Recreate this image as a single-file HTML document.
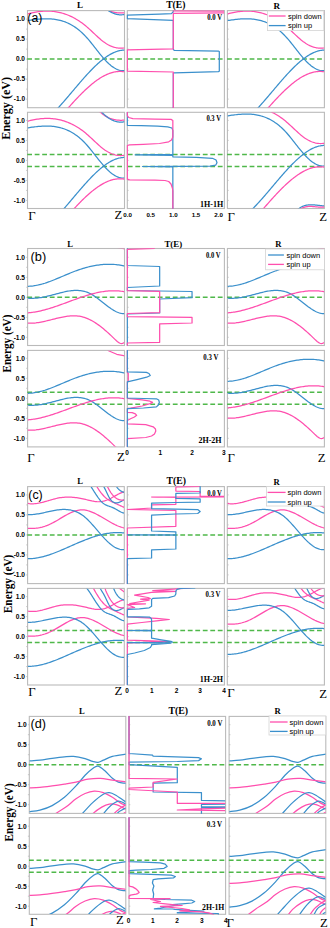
<!DOCTYPE html>
<html><head><meta charset="utf-8"><style>
html,body{margin:0;padding:0;background:#fff;}
svg{display:block;}
</style></head><body>
<svg xmlns="http://www.w3.org/2000/svg" width="330" height="928" viewBox="0 0 330 928">
<rect width="330" height="928" fill="#fff"/>
<rect x="27.5" y="10.6" width="97" height="97.1" fill="none" stroke="#bababa" stroke-width="1.1"/>
<rect x="127.3" y="10.6" width="97.1" height="97.1" fill="none" stroke="#bababa" stroke-width="1.1"/>
<rect x="227.4" y="10.6" width="97" height="97.1" fill="none" stroke="#bababa" stroke-width="1.1"/>
<path d="M26.1,99.1H27.5 M127.3,99.1H128.6 M227.4,99.1H228.7 M26.1,89.1H27.5 M127.3,89.1H128.6 M227.4,89.1H228.7 M26.1,79.1H27.5 M127.3,79.1H128.6 M227.4,79.1H228.7 M26.1,69.1H27.5 M127.3,69.1H128.6 M227.4,69.1H228.7 M26.1,59.1H27.5 M127.3,59.1H128.6 M227.4,59.1H228.7 M26.1,49.1H27.5 M127.3,49.1H128.6 M227.4,49.1H228.7 M26.1,39.1H27.5 M127.3,39.1H128.6 M227.4,39.1H228.7 M26.1,29.1H27.5 M127.3,29.1H128.6 M227.4,29.1H228.7 M26.1,19.1H27.5 M127.3,19.1H128.6 M227.4,19.1H228.7" stroke="#bababa" stroke-width="0.8" fill="none"/>
<line x1="27.2" y1="59.1" x2="124" y2="59.1" stroke="#4fb84a" stroke-width="1.5" stroke-dasharray="4.8 2.7"/>
<clipPath id="c1"><rect x="27.8" y="10.9" width="96.4" height="96.5"/></clipPath>
<g clip-path="url(#c1)">
<path d="M25.56,14.5 L26.84,14.13 L28.11,13.78 L29.39,13.45 L30.67,13.14 L31.94,12.85 L33.22,12.58 L34.5,12.33 L35.78,12.1 L37.05,11.9 L38.33,11.71 L39.61,11.55 L40.88,11.42 L42.16,11.3 L43.44,11.22 L44.71,11.15 L45.99,11.12 L47.27,11.11 L48.55,11.12 L49.82,11.17 L51.1,11.24 L52.38,11.34 L53.65,11.47 L54.93,11.63 L56.21,11.82 L57.48,12.04 L58.76,12.29 L60.04,12.58 L61.31,12.89 L62.59,13.24 L63.87,13.63 L65.15,14.04 L66.42,14.5 L67.7,14.98 L68.98,15.51 L70.25,16.06 L71.53,16.66 L72.81,17.29 L74.08,17.96 L75.36,18.67 L76.64,19.42 L77.92,20.21 L79.19,21.04 L80.47,21.91 L81.75,22.82 L83.02,23.77 L84.3,24.76 L85.58,25.8 L86.85,26.88 L88.13,28 L89.41,29.15 L90.69,30.33 L91.96,31.52 L93.24,32.71 L94.52,33.91 L95.79,35.11 L97.07,36.28 L98.35,37.44 L99.62,38.56 L100.9,39.65 L102.18,40.69 L103.45,41.67 L104.73,42.6 L106.01,43.46 L107.29,44.24 L108.56,44.96 L109.84,45.6 L111.12,46.18 L112.39,46.68 L113.67,47.11 L114.95,47.47 L116.22,47.76 L117.5,47.98 L118.78,48.12 L120.06,48.2 L121.33,48.2 L122.61,48.13 L123.89,48 L125.16,47.79 L126.44,47.5" fill="none" stroke="#ff4fae" stroke-width="1.25" stroke-linejoin="round"/>
<path d="M25.56,20.83 L26.84,20.65 L28.11,20.46 L29.39,20.28 L30.67,20.1 L31.94,19.93 L33.22,19.76 L34.5,19.6 L35.78,19.45 L37.05,19.32 L38.33,19.19 L39.61,19.08 L40.88,18.98 L42.16,18.9 L43.44,18.84 L44.71,18.8 L45.99,18.78 L47.27,18.78 L48.55,18.8 L49.82,18.85 L51.1,18.93 L52.38,19.03 L53.65,19.17 L54.93,19.34 L56.21,19.53 L57.48,19.77 L58.76,20.03 L60.04,20.34 L61.31,20.68 L62.59,21.06 L63.87,21.48 L65.15,21.95 L66.42,22.46 L67.7,23.01 L68.98,23.61 L70.25,24.26 L71.53,24.96 L72.81,25.71 L74.08,26.51 L75.36,27.37 L76.64,28.28 L77.92,29.25 L79.19,30.28 L80.47,31.36 L81.75,32.51 L83.02,33.72 L84.3,35 L85.58,36.34 L86.85,37.74 L88.13,39.2 L89.41,40.72 L90.69,42.27 L91.96,43.86 L93.24,45.47 L94.52,47.1 L95.79,48.73 L97.07,50.36 L98.35,51.98 L99.62,53.57 L100.9,55.14 L102.18,56.67 L103.45,58.15 L104.73,59.58 L106.01,60.94 L107.29,62.24 L108.56,63.46 L109.84,64.6 L111.12,65.67 L112.39,66.64 L113.67,67.52 L114.95,68.31 L116.22,68.99 L117.5,69.57 L118.78,70.03 L120.06,70.38 L121.33,70.6 L122.61,70.7 L123.89,70.67 L125.16,70.5 L126.44,70.19" fill="none" stroke="#3b90cc" stroke-width="1.25" stroke-linejoin="round"/>
<path d="M48.84,117.32 L49.82,116.4 L50.8,115.45 L51.79,114.49 L52.77,113.51 L53.75,112.52 L54.73,111.51 L55.72,110.48 L56.7,109.44 L57.68,108.38 L58.66,107.31 L59.65,106.23 L60.63,105.14 L61.61,104.03 L62.59,102.92 L63.57,101.8 L64.56,100.67 L65.54,99.53 L66.52,98.39 L67.5,97.24 L68.49,96.09 L69.47,94.93 L70.45,93.77 L71.43,92.61 L72.41,91.45 L73.4,90.29 L74.38,89.12 L75.36,87.96 L76.34,86.8 L77.33,85.65 L78.31,84.5 L79.29,83.35 L80.27,82.21 L81.26,81.07 L82.24,79.94 L83.22,78.82 L84.2,77.71 L85.18,76.61 L86.17,75.52 L87.15,74.44 L88.13,73.37 L89.11,72.31 L90.1,71.27 L91.08,70.25 L92.06,69.24 L93.04,68.24 L94.02,67.27 L95.01,66.31 L95.99,65.37 L96.97,64.45 L97.95,63.55 L98.94,62.67 L99.92,61.82 L100.9,60.98 L101.88,60.18 L102.87,59.39 L103.85,58.64 L104.83,57.9 L105.81,57.2 L106.79,56.52 L107.78,55.88 L108.76,55.26 L109.74,54.67 L110.72,54.12 L111.71,53.6 L112.69,53.11 L113.67,52.65 L114.65,52.23 L115.63,51.85 L116.62,51.5 L117.6,51.19 L118.58,50.92 L119.56,50.69 L120.55,50.49 L121.53,50.34 L122.51,50.23 L123.49,50.16 L124.48,50.14 L125.46,50.16 L126.44,50.22" fill="none" stroke="#3b90cc" stroke-width="1.25" stroke-linejoin="round"/>
<path d="M59.51,118.05 L60.36,117.06 L61.2,116.07 L62.05,115.08 L62.9,114.1 L63.75,113.11 L64.59,112.13 L65.44,111.16 L66.29,110.18 L67.13,109.21 L67.98,108.24 L68.83,107.28 L69.68,106.32 L70.52,105.37 L71.37,104.42 L72.22,103.48 L73.07,102.54 L73.91,101.61 L74.76,100.69 L75.61,99.77 L76.45,98.87 L77.3,97.97 L78.15,97.07 L79,96.19 L79.84,95.32 L80.69,94.46 L81.54,93.6 L82.38,92.76 L83.23,91.93 L84.08,91.11 L84.93,90.29 L85.77,89.5 L86.62,88.71 L87.47,87.94 L88.32,87.18 L89.16,86.43 L90.01,85.69 L90.86,84.97 L91.7,84.27 L92.55,83.58 L93.4,82.9 L94.25,82.24 L95.09,81.59 L95.94,80.97 L96.79,80.35 L97.63,79.76 L98.48,79.18 L99.33,78.62 L100.18,78.08 L101.02,77.56 L101.87,77.05 L102.72,76.57 L103.57,76.1 L104.41,75.65 L105.26,75.23 L106.11,74.82 L106.95,74.44 L107.8,74.08 L108.65,73.74 L109.5,73.42 L110.34,73.12 L111.19,72.85 L112.04,72.6 L112.88,72.37 L113.73,72.17 L114.58,71.99 L115.43,71.84 L116.27,71.71 L117.12,71.61 L117.97,71.53 L118.82,71.48 L119.66,71.45 L120.51,71.46 L121.36,71.49 L122.2,71.55 L123.05,71.63 L123.9,71.75 L124.75,71.89 L125.59,72.06 L126.44,72.26" fill="none" stroke="#ff4fae" stroke-width="1.25" stroke-linejoin="round"/>
<path d="M91.52,-5.3 L91.96,-4.67 L92.4,-4.05 L92.85,-3.44 L93.29,-2.85 L93.73,-2.27 L94.17,-1.7 L94.61,-1.14 L95.06,-0.6 L95.5,-0.07 L95.94,0.44 L96.38,0.95 L96.82,1.44 L97.27,1.92 L97.71,2.39 L98.15,2.84 L98.59,3.28 L99.03,3.72 L99.48,4.14 L99.92,4.54 L100.36,4.94 L100.8,5.33 L101.24,5.7 L101.69,6.06 L102.13,6.41 L102.57,6.76 L103.01,7.09 L103.45,7.41 L103.9,7.72 L104.34,8.02 L104.78,8.31 L105.22,8.58 L105.66,8.85 L106.11,9.11 L106.55,9.36 L106.99,9.6 L107.43,9.83 L107.87,10.05 L108.32,10.27 L108.76,10.47 L109.2,10.66 L109.64,10.85 L110.09,11.03 L110.53,11.19 L110.97,11.35 L111.41,11.5 L111.85,11.65 L112.3,11.78 L112.74,11.91 L113.18,12.03 L113.62,12.14 L114.06,12.24 L114.51,12.34 L114.95,12.43 L115.39,12.51 L115.83,12.58 L116.27,12.65 L116.72,12.71 L117.16,12.77 L117.6,12.81 L118.04,12.85 L118.48,12.89 L118.93,12.92 L119.37,12.94 L119.81,12.96 L120.25,12.97 L120.69,12.97 L121.14,12.97 L121.58,12.96 L122.02,12.95 L122.46,12.93 L122.9,12.91 L123.35,12.88 L123.79,12.85 L124.23,12.81 L124.67,12.77 L125.11,12.73 L125.56,12.68 L126,12.62 L126.44,12.56" fill="none" stroke="#ff4fae" stroke-width="1.25" stroke-linejoin="round"/>
<path d="M93.46,-5.54 L93.88,-4.93 L94.29,-4.33 L94.71,-3.74 L95.13,-3.16 L95.55,-2.59 L95.96,-2.03 L96.38,-1.48 L96.8,-0.93 L97.22,-0.39 L97.63,0.13 L98.05,0.65 L98.47,1.16 L98.89,1.66 L99.3,2.15 L99.72,2.63 L100.14,3.11 L100.56,3.57 L100.97,4.03 L101.39,4.47 L101.81,4.91 L102.23,5.34 L102.64,5.75 L103.06,6.16 L103.48,6.56 L103.9,6.95 L104.31,7.34 L104.73,7.71 L105.15,8.07 L105.57,8.43 L105.98,8.77 L106.4,9.11 L106.82,9.43 L107.24,9.75 L107.65,10.06 L108.07,10.35 L108.49,10.64 L108.91,10.92 L109.32,11.19 L109.74,11.45 L110.16,11.7 L110.58,11.94 L110.99,12.18 L111.41,12.4 L111.83,12.61 L112.25,12.81 L112.66,13.01 L113.08,13.19 L113.5,13.36 L113.92,13.53 L114.33,13.68 L114.75,13.83 L115.17,13.96 L115.59,14.09 L116,14.2 L116.42,14.31 L116.84,14.41 L117.26,14.49 L117.67,14.57 L118.09,14.63 L118.51,14.69 L118.93,14.74 L119.34,14.77 L119.76,14.8 L120.18,14.82 L120.6,14.82 L121.01,14.82 L121.43,14.81 L121.85,14.78 L122.27,14.75 L122.68,14.71 L123.1,14.65 L123.52,14.59 L123.94,14.52 L124.35,14.43 L124.77,14.34 L125.19,14.23 L125.61,14.12 L126.02,13.99 L126.44,13.86" fill="none" stroke="#3b90cc" stroke-width="1.25" stroke-linejoin="round"/>
<path d="M90.55,123.24 L91,122.5 L91.46,121.79 L91.91,121.1 L92.37,120.44 L92.82,119.8 L93.28,119.18 L93.73,118.59 L94.18,118.02 L94.64,117.48 L95.09,116.96 L95.55,116.45 L96,115.98 L96.46,115.52 L96.91,115.08 L97.36,114.66 L97.82,114.27 L98.27,113.89 L98.73,113.53 L99.18,113.19 L99.64,112.87 L100.09,112.56 L100.54,112.28 L101,112.01 L101.45,111.75 L101.91,111.52 L102.36,111.3 L102.82,111.09 L103.27,110.9 L103.72,110.72 L104.18,110.56 L104.63,110.41 L105.09,110.27 L105.54,110.14 L106,110.03 L106.45,109.93 L106.9,109.84 L107.36,109.76 L107.81,109.7 L108.27,109.64 L108.72,109.59 L109.18,109.55 L109.63,109.52 L110.09,109.5 L110.54,109.48 L110.99,109.48 L111.45,109.48 L111.9,109.48 L112.36,109.5 L112.81,109.51 L113.27,109.54 L113.72,109.57 L114.17,109.6 L114.63,109.64 L115.08,109.68 L115.54,109.72 L115.99,109.77 L116.45,109.82 L116.9,109.87 L117.35,109.92 L117.81,109.98 L118.26,110.03 L118.72,110.08 L119.17,110.14 L119.63,110.19 L120.08,110.24 L120.53,110.29 L120.99,110.34 L121.44,110.39 L121.9,110.43 L122.35,110.47 L122.81,110.51 L123.26,110.54 L123.71,110.57 L124.17,110.59 L124.62,110.61 L125.08,110.62 L125.53,110.62 L125.99,110.62 L126.44,110.61" fill="none" stroke="#3b90cc" stroke-width="1.25" stroke-linejoin="round"/>
<path d="M92.49,122.81 L92.92,122.11 L93.35,121.44 L93.78,120.8 L94.21,120.18 L94.64,119.59 L95.07,119.02 L95.5,118.48 L95.93,117.96 L96.36,117.47 L96.79,117 L97.22,116.55 L97.65,116.13 L98.08,115.72 L98.51,115.34 L98.94,114.98 L99.37,114.64 L99.8,114.32 L100.23,114.01 L100.66,113.73 L101.08,113.46 L101.51,113.21 L101.94,112.98 L102.37,112.76 L102.8,112.56 L103.23,112.38 L103.66,112.21 L104.09,112.06 L104.52,111.92 L104.95,111.79 L105.38,111.67 L105.81,111.57 L106.24,111.48 L106.67,111.4 L107.1,111.34 L107.53,111.28 L107.96,111.23 L108.39,111.19 L108.82,111.17 L109.25,111.14 L109.68,111.13 L110.11,111.13 L110.54,111.13 L110.97,111.14 L111.4,111.15 L111.83,111.17 L112.26,111.19 L112.69,111.22 L113.12,111.25 L113.55,111.28 L113.98,111.32 L114.41,111.36 L114.84,111.4 L115.27,111.45 L115.7,111.49 L116.13,111.53 L116.56,111.57 L116.99,111.62 L117.42,111.66 L117.85,111.7 L118.27,111.73 L118.7,111.77 L119.13,111.8 L119.56,111.82 L119.99,111.84 L120.42,111.86 L120.85,111.87 L121.28,111.88 L121.71,111.88 L122.14,111.87 L122.57,111.85 L123,111.83 L123.43,111.8 L123.86,111.76 L124.29,111.71 L124.72,111.65 L125.15,111.58 L125.58,111.49 L126.01,111.4 L126.44,111.29" fill="none" stroke="#ff4fae" stroke-width="1.25" stroke-linejoin="round"/>
</g>
<line x1="127.8" y1="59.1" x2="223.9" y2="59.1" stroke="#4fb84a" stroke-width="1.5" stroke-dasharray="4.8 2.7"/>
<clipPath id="c2"><rect x="126.4" y="10.3" width="97.6" height="97.7"/></clipPath>
<g clip-path="url(#c2)">
<path d="M173.3,10.6 L173.3,11.8 L171.46,13.6 L159.5,14.2 L127.3,15.2 L127.3,18.6 L173.3,20.3 L173.3,49.3 L174.22,50.4 L218.38,51.1 L219.3,51.5 L219.3,71.2 L218.38,71.6 L174.22,72.8 L173.3,73.2 L173.3,108" fill="none" stroke="#3b90cc" stroke-width="1.25" stroke-linejoin="round"/>
<path d="M173.3,10.6 L173.3,10.9 L228.5,11.1 L228.5,12.9 L173.3,13.3 L173.3,48.8 L127.3,49.9 L127.3,71.2 L173.3,72 L173.3,108" fill="none" stroke="#ff4fae" stroke-width="1.25" stroke-linejoin="round"/>
</g>
<line x1="227.1" y1="59.1" x2="323.9" y2="59.1" stroke="#4fb84a" stroke-width="1.5" stroke-dasharray="4.8 2.7"/>
<clipPath id="c3"><rect x="227.7" y="10.9" width="96.4" height="96.5"/></clipPath>
<g clip-path="url(#c3)">
<path d="M225.46,14.5 L226.74,14.13 L228.01,13.78 L229.29,13.45 L230.57,13.14 L231.84,12.85 L233.12,12.58 L234.4,12.33 L235.68,12.1 L236.95,11.9 L238.23,11.71 L239.51,11.55 L240.78,11.42 L242.06,11.3 L243.34,11.22 L244.61,11.15 L245.89,11.12 L247.17,11.11 L248.45,11.12 L249.72,11.17 L251,11.24 L252.28,11.34 L253.55,11.47 L254.83,11.63 L256.11,11.82 L257.38,12.04 L258.66,12.29 L259.94,12.58 L261.21,12.89 L262.49,13.24 L263.77,13.63 L265.05,14.04 L266.32,14.5 L267.6,14.98 L268.88,15.51 L270.15,16.06 L271.43,16.66 L272.71,17.29 L273.98,17.96 L275.26,18.67 L276.54,19.42 L277.82,20.21 L279.09,21.04 L280.37,21.91 L281.65,22.82 L282.92,23.77 L284.2,24.76 L285.48,25.8 L286.75,26.88 L288.03,28 L289.31,29.15 L290.59,30.33 L291.86,31.52 L293.14,32.71 L294.42,33.91 L295.69,35.11 L296.97,36.28 L298.25,37.44 L299.52,38.56 L300.8,39.65 L302.08,40.69 L303.35,41.67 L304.63,42.6 L305.91,43.46 L307.19,44.24 L308.46,44.96 L309.74,45.6 L311.02,46.18 L312.29,46.68 L313.57,47.11 L314.85,47.47 L316.12,47.76 L317.4,47.98 L318.68,48.12 L319.96,48.2 L321.23,48.2 L322.51,48.13 L323.79,48 L325.06,47.79 L326.34,47.5" fill="none" stroke="#ff4fae" stroke-width="1.25" stroke-linejoin="round"/>
<path d="M225.46,20.83 L226.74,20.65 L228.01,20.46 L229.29,20.28 L230.57,20.1 L231.84,19.93 L233.12,19.76 L234.4,19.6 L235.68,19.45 L236.95,19.32 L238.23,19.19 L239.51,19.08 L240.78,18.98 L242.06,18.9 L243.34,18.84 L244.61,18.8 L245.89,18.78 L247.17,18.78 L248.45,18.8 L249.72,18.85 L251,18.93 L252.28,19.03 L253.55,19.17 L254.83,19.34 L256.11,19.53 L257.38,19.77 L258.66,20.03 L259.94,20.34 L261.21,20.68 L262.49,21.06 L263.77,21.48 L265.05,21.95 L266.32,22.46 L267.6,23.01 L268.88,23.61 L270.15,24.26 L271.43,24.96 L272.71,25.71 L273.98,26.51 L275.26,27.37 L276.54,28.28 L277.82,29.25 L279.09,30.28 L280.37,31.36 L281.65,32.51 L282.92,33.72 L284.2,35 L285.48,36.34 L286.75,37.74 L288.03,39.2 L289.31,40.72 L290.59,42.27 L291.86,43.86 L293.14,45.47 L294.42,47.1 L295.69,48.73 L296.97,50.36 L298.25,51.98 L299.52,53.57 L300.8,55.14 L302.08,56.67 L303.35,58.15 L304.63,59.58 L305.91,60.94 L307.19,62.24 L308.46,63.46 L309.74,64.6 L311.02,65.67 L312.29,66.64 L313.57,67.52 L314.85,68.31 L316.12,68.99 L317.4,69.57 L318.68,70.03 L319.96,70.38 L321.23,70.6 L322.51,70.7 L323.79,70.67 L325.06,70.5 L326.34,70.19" fill="none" stroke="#3b90cc" stroke-width="1.25" stroke-linejoin="round"/>
<path d="M248.74,117.32 L249.72,116.4 L250.7,115.45 L251.69,114.49 L252.67,113.51 L253.65,112.52 L254.63,111.51 L255.62,110.48 L256.6,109.44 L257.58,108.38 L258.56,107.31 L259.55,106.23 L260.53,105.14 L261.51,104.03 L262.49,102.92 L263.47,101.8 L264.46,100.67 L265.44,99.53 L266.42,98.39 L267.4,97.24 L268.39,96.09 L269.37,94.93 L270.35,93.77 L271.33,92.61 L272.31,91.45 L273.3,90.29 L274.28,89.12 L275.26,87.96 L276.24,86.8 L277.23,85.65 L278.21,84.5 L279.19,83.35 L280.17,82.21 L281.16,81.07 L282.14,79.94 L283.12,78.82 L284.1,77.71 L285.08,76.61 L286.07,75.52 L287.05,74.44 L288.03,73.37 L289.01,72.31 L290,71.27 L290.98,70.25 L291.96,69.24 L292.94,68.24 L293.92,67.27 L294.91,66.31 L295.89,65.37 L296.87,64.45 L297.85,63.55 L298.84,62.67 L299.82,61.82 L300.8,60.98 L301.78,60.18 L302.77,59.39 L303.75,58.64 L304.73,57.9 L305.71,57.2 L306.69,56.52 L307.68,55.88 L308.66,55.26 L309.64,54.67 L310.62,54.12 L311.61,53.6 L312.59,53.11 L313.57,52.65 L314.55,52.23 L315.53,51.85 L316.52,51.5 L317.5,51.19 L318.48,50.92 L319.46,50.69 L320.45,50.49 L321.43,50.34 L322.41,50.23 L323.39,50.16 L324.38,50.14 L325.36,50.16 L326.34,50.22" fill="none" stroke="#3b90cc" stroke-width="1.25" stroke-linejoin="round"/>
<path d="M259.41,118.05 L260.26,117.06 L261.1,116.07 L261.95,115.08 L262.8,114.1 L263.65,113.11 L264.49,112.13 L265.34,111.16 L266.19,110.18 L267.03,109.21 L267.88,108.24 L268.73,107.28 L269.58,106.32 L270.42,105.37 L271.27,104.42 L272.12,103.48 L272.97,102.54 L273.81,101.61 L274.66,100.69 L275.51,99.77 L276.35,98.87 L277.2,97.97 L278.05,97.07 L278.9,96.19 L279.74,95.32 L280.59,94.46 L281.44,93.6 L282.28,92.76 L283.13,91.93 L283.98,91.11 L284.83,90.29 L285.67,89.5 L286.52,88.71 L287.37,87.94 L288.22,87.18 L289.06,86.43 L289.91,85.69 L290.76,84.97 L291.6,84.27 L292.45,83.58 L293.3,82.9 L294.15,82.24 L294.99,81.59 L295.84,80.97 L296.69,80.35 L297.53,79.76 L298.38,79.18 L299.23,78.62 L300.08,78.08 L300.92,77.56 L301.77,77.05 L302.62,76.57 L303.47,76.1 L304.31,75.65 L305.16,75.23 L306.01,74.82 L306.85,74.44 L307.7,74.08 L308.55,73.74 L309.4,73.42 L310.24,73.12 L311.09,72.85 L311.94,72.6 L312.78,72.37 L313.63,72.17 L314.48,71.99 L315.33,71.84 L316.17,71.71 L317.02,71.61 L317.87,71.53 L318.72,71.48 L319.56,71.45 L320.41,71.46 L321.26,71.49 L322.1,71.55 L322.95,71.63 L323.8,71.75 L324.65,71.89 L325.49,72.06 L326.34,72.26" fill="none" stroke="#ff4fae" stroke-width="1.25" stroke-linejoin="round"/>
<path d="M291.42,-5.3 L291.86,-4.67 L292.3,-4.05 L292.75,-3.44 L293.19,-2.85 L293.63,-2.27 L294.07,-1.7 L294.51,-1.14 L294.96,-0.6 L295.4,-0.07 L295.84,0.44 L296.28,0.95 L296.72,1.44 L297.17,1.92 L297.61,2.39 L298.05,2.84 L298.49,3.28 L298.93,3.72 L299.38,4.14 L299.82,4.54 L300.26,4.94 L300.7,5.33 L301.14,5.7 L301.59,6.06 L302.03,6.41 L302.47,6.76 L302.91,7.09 L303.35,7.41 L303.8,7.72 L304.24,8.02 L304.68,8.31 L305.12,8.58 L305.56,8.85 L306.01,9.11 L306.45,9.36 L306.89,9.6 L307.33,9.83 L307.77,10.05 L308.22,10.27 L308.66,10.47 L309.1,10.66 L309.54,10.85 L309.99,11.03 L310.43,11.19 L310.87,11.35 L311.31,11.5 L311.75,11.65 L312.2,11.78 L312.64,11.91 L313.08,12.03 L313.52,12.14 L313.96,12.24 L314.41,12.34 L314.85,12.43 L315.29,12.51 L315.73,12.58 L316.17,12.65 L316.62,12.71 L317.06,12.77 L317.5,12.81 L317.94,12.85 L318.38,12.89 L318.83,12.92 L319.27,12.94 L319.71,12.96 L320.15,12.97 L320.59,12.97 L321.04,12.97 L321.48,12.96 L321.92,12.95 L322.36,12.93 L322.8,12.91 L323.25,12.88 L323.69,12.85 L324.13,12.81 L324.57,12.77 L325.01,12.73 L325.46,12.68 L325.9,12.62 L326.34,12.56" fill="none" stroke="#ff4fae" stroke-width="1.25" stroke-linejoin="round"/>
<path d="M293.36,-5.54 L293.78,-4.93 L294.19,-4.33 L294.61,-3.74 L295.03,-3.16 L295.45,-2.59 L295.86,-2.03 L296.28,-1.48 L296.7,-0.93 L297.12,-0.39 L297.53,0.13 L297.95,0.65 L298.37,1.16 L298.79,1.66 L299.2,2.15 L299.62,2.63 L300.04,3.11 L300.46,3.57 L300.87,4.03 L301.29,4.47 L301.71,4.91 L302.13,5.34 L302.54,5.75 L302.96,6.16 L303.38,6.56 L303.8,6.95 L304.21,7.34 L304.63,7.71 L305.05,8.07 L305.47,8.43 L305.88,8.77 L306.3,9.11 L306.72,9.43 L307.14,9.75 L307.55,10.06 L307.97,10.35 L308.39,10.64 L308.81,10.92 L309.22,11.19 L309.64,11.45 L310.06,11.7 L310.48,11.94 L310.89,12.18 L311.31,12.4 L311.73,12.61 L312.15,12.81 L312.56,13.01 L312.98,13.19 L313.4,13.36 L313.82,13.53 L314.23,13.68 L314.65,13.83 L315.07,13.96 L315.49,14.09 L315.9,14.2 L316.32,14.31 L316.74,14.41 L317.16,14.49 L317.57,14.57 L317.99,14.63 L318.41,14.69 L318.83,14.74 L319.24,14.77 L319.66,14.8 L320.08,14.82 L320.5,14.82 L320.91,14.82 L321.33,14.81 L321.75,14.78 L322.17,14.75 L322.58,14.71 L323,14.65 L323.42,14.59 L323.84,14.52 L324.25,14.43 L324.67,14.34 L325.09,14.23 L325.51,14.12 L325.92,13.99 L326.34,13.86" fill="none" stroke="#3b90cc" stroke-width="1.25" stroke-linejoin="round"/>
<path d="M290.45,123.24 L290.9,122.5 L291.36,121.79 L291.81,121.1 L292.27,120.44 L292.72,119.8 L293.18,119.18 L293.63,118.59 L294.08,118.02 L294.54,117.48 L294.99,116.96 L295.45,116.45 L295.9,115.98 L296.36,115.52 L296.81,115.08 L297.26,114.66 L297.72,114.27 L298.17,113.89 L298.63,113.53 L299.08,113.19 L299.54,112.87 L299.99,112.56 L300.44,112.28 L300.9,112.01 L301.35,111.75 L301.81,111.52 L302.26,111.3 L302.72,111.09 L303.17,110.9 L303.62,110.72 L304.08,110.56 L304.53,110.41 L304.99,110.27 L305.44,110.14 L305.9,110.03 L306.35,109.93 L306.8,109.84 L307.26,109.76 L307.71,109.7 L308.17,109.64 L308.62,109.59 L309.08,109.55 L309.53,109.52 L309.99,109.5 L310.44,109.48 L310.89,109.48 L311.35,109.48 L311.8,109.48 L312.26,109.5 L312.71,109.51 L313.17,109.54 L313.62,109.57 L314.07,109.6 L314.53,109.64 L314.98,109.68 L315.44,109.72 L315.89,109.77 L316.35,109.82 L316.8,109.87 L317.25,109.92 L317.71,109.98 L318.16,110.03 L318.62,110.08 L319.07,110.14 L319.53,110.19 L319.98,110.24 L320.43,110.29 L320.89,110.34 L321.34,110.39 L321.8,110.43 L322.25,110.47 L322.71,110.51 L323.16,110.54 L323.61,110.57 L324.07,110.59 L324.52,110.61 L324.98,110.62 L325.43,110.62 L325.89,110.62 L326.34,110.61" fill="none" stroke="#3b90cc" stroke-width="1.25" stroke-linejoin="round"/>
<path d="M292.39,122.81 L292.82,122.11 L293.25,121.44 L293.68,120.8 L294.11,120.18 L294.54,119.59 L294.97,119.02 L295.4,118.48 L295.83,117.96 L296.26,117.47 L296.69,117 L297.12,116.55 L297.55,116.13 L297.98,115.72 L298.41,115.34 L298.84,114.98 L299.27,114.64 L299.7,114.32 L300.13,114.01 L300.56,113.73 L300.98,113.46 L301.41,113.21 L301.84,112.98 L302.27,112.76 L302.7,112.56 L303.13,112.38 L303.56,112.21 L303.99,112.06 L304.42,111.92 L304.85,111.79 L305.28,111.67 L305.71,111.57 L306.14,111.48 L306.57,111.4 L307,111.34 L307.43,111.28 L307.86,111.23 L308.29,111.19 L308.72,111.17 L309.15,111.14 L309.58,111.13 L310.01,111.13 L310.44,111.13 L310.87,111.14 L311.3,111.15 L311.73,111.17 L312.16,111.19 L312.59,111.22 L313.02,111.25 L313.45,111.28 L313.88,111.32 L314.31,111.36 L314.74,111.4 L315.17,111.45 L315.6,111.49 L316.03,111.53 L316.46,111.57 L316.89,111.62 L317.32,111.66 L317.75,111.7 L318.17,111.73 L318.6,111.77 L319.03,111.8 L319.46,111.82 L319.89,111.84 L320.32,111.86 L320.75,111.87 L321.18,111.88 L321.61,111.88 L322.04,111.87 L322.47,111.85 L322.9,111.83 L323.33,111.8 L323.76,111.76 L324.19,111.71 L324.62,111.65 L325.05,111.58 L325.48,111.49 L325.91,111.4 L326.34,111.29" fill="none" stroke="#ff4fae" stroke-width="1.25" stroke-linejoin="round"/>
</g>
<rect x="27.5" y="112.3" width="97" height="96.2" fill="none" stroke="#bababa" stroke-width="1.1"/>
<rect x="127.3" y="112.3" width="97.1" height="96.2" fill="none" stroke="#bababa" stroke-width="1.1"/>
<rect x="227.4" y="112.3" width="97" height="96.2" fill="none" stroke="#bababa" stroke-width="1.1"/>
<path d="M26.1,200.4H27.5 M127.3,200.4H128.6 M227.4,200.4H228.7 M26.1,190.4H27.5 M127.3,190.4H128.6 M227.4,190.4H228.7 M26.1,180.4H27.5 M127.3,180.4H128.6 M227.4,180.4H228.7 M26.1,170.4H27.5 M127.3,170.4H128.6 M227.4,170.4H228.7 M26.1,160.4H27.5 M127.3,160.4H128.6 M227.4,160.4H228.7 M26.1,150.4H27.5 M127.3,150.4H128.6 M227.4,150.4H228.7 M26.1,140.4H27.5 M127.3,140.4H128.6 M227.4,140.4H228.7 M26.1,130.4H27.5 M127.3,130.4H128.6 M227.4,130.4H228.7 M26.1,120.4H27.5 M127.3,120.4H128.6 M227.4,120.4H228.7" stroke="#bababa" stroke-width="0.8" fill="none"/>
<line x1="27.2" y1="154.4" x2="124" y2="154.4" stroke="#4fb84a" stroke-width="1.5" stroke-dasharray="4.8 2.7"/>
<line x1="27.2" y1="166.4" x2="124" y2="166.4" stroke="#4fb84a" stroke-width="1.5" stroke-dasharray="4.8 2.7"/>
<clipPath id="c4"><rect x="27.8" y="112.6" width="96.4" height="95.6"/></clipPath>
<g clip-path="url(#c4)">
<path d="M25.56,121.8 L26.84,121.43 L28.11,121.08 L29.39,120.75 L30.67,120.44 L31.94,120.15 L33.22,119.88 L34.5,119.63 L35.78,119.4 L37.05,119.2 L38.33,119.01 L39.61,118.85 L40.88,118.72 L42.16,118.6 L43.44,118.52 L44.71,118.45 L45.99,118.42 L47.27,118.41 L48.55,118.42 L49.82,118.47 L51.1,118.54 L52.38,118.64 L53.65,118.77 L54.93,118.93 L56.21,119.12 L57.48,119.34 L58.76,119.59 L60.04,119.88 L61.31,120.19 L62.59,120.54 L63.87,120.93 L65.15,121.34 L66.42,121.8 L67.7,122.28 L68.98,122.81 L70.25,123.36 L71.53,123.96 L72.81,124.59 L74.08,125.26 L75.36,125.97 L76.64,126.72 L77.92,127.51 L79.19,128.34 L80.47,129.21 L81.75,130.12 L83.02,131.07 L84.3,132.06 L85.58,133.1 L86.85,134.18 L88.13,135.3 L89.41,136.45 L90.69,137.63 L91.96,138.82 L93.24,140.01 L94.52,141.21 L95.79,142.41 L97.07,143.58 L98.35,144.74 L99.62,145.86 L100.9,146.95 L102.18,147.99 L103.45,148.97 L104.73,149.9 L106.01,150.76 L107.29,151.54 L108.56,152.26 L109.84,152.9 L111.12,153.48 L112.39,153.98 L113.67,154.41 L114.95,154.77 L116.22,155.06 L117.5,155.28 L118.78,155.42 L120.06,155.5 L121.33,155.5 L122.61,155.43 L123.89,155.3 L125.16,155.09 L126.44,154.8" fill="none" stroke="#ff4fae" stroke-width="1.25" stroke-linejoin="round"/>
<path d="M25.56,128.13 L26.84,127.95 L28.11,127.76 L29.39,127.58 L30.67,127.4 L31.94,127.23 L33.22,127.06 L34.5,126.9 L35.78,126.75 L37.05,126.62 L38.33,126.49 L39.61,126.38 L40.88,126.28 L42.16,126.2 L43.44,126.14 L44.71,126.1 L45.99,126.08 L47.27,126.08 L48.55,126.1 L49.82,126.15 L51.1,126.23 L52.38,126.33 L53.65,126.47 L54.93,126.64 L56.21,126.83 L57.48,127.07 L58.76,127.33 L60.04,127.64 L61.31,127.98 L62.59,128.36 L63.87,128.78 L65.15,129.25 L66.42,129.76 L67.7,130.31 L68.98,130.91 L70.25,131.56 L71.53,132.26 L72.81,133.01 L74.08,133.81 L75.36,134.67 L76.64,135.58 L77.92,136.55 L79.19,137.58 L80.47,138.66 L81.75,139.81 L83.02,141.02 L84.3,142.3 L85.58,143.64 L86.85,145.04 L88.13,146.5 L89.41,148.02 L90.69,149.57 L91.96,151.16 L93.24,152.77 L94.52,154.4 L95.79,156.03 L97.07,157.66 L98.35,159.28 L99.62,160.87 L100.9,162.44 L102.18,163.97 L103.45,165.45 L104.73,166.88 L106.01,168.24 L107.29,169.54 L108.56,170.76 L109.84,171.9 L111.12,172.97 L112.39,173.94 L113.67,174.82 L114.95,175.61 L116.22,176.29 L117.5,176.87 L118.78,177.33 L120.06,177.68 L121.33,177.9 L122.61,178 L123.89,177.97 L125.16,177.8 L126.44,177.49" fill="none" stroke="#3b90cc" stroke-width="1.25" stroke-linejoin="round"/>
<path d="M48.84,224.62 L49.82,223.7 L50.8,222.75 L51.79,221.79 L52.77,220.81 L53.75,219.82 L54.73,218.81 L55.72,217.78 L56.7,216.74 L57.68,215.68 L58.66,214.61 L59.65,213.53 L60.63,212.44 L61.61,211.33 L62.59,210.22 L63.57,209.1 L64.56,207.97 L65.54,206.83 L66.52,205.69 L67.5,204.54 L68.49,203.39 L69.47,202.23 L70.45,201.07 L71.43,199.91 L72.41,198.75 L73.4,197.59 L74.38,196.42 L75.36,195.26 L76.34,194.1 L77.33,192.95 L78.31,191.8 L79.29,190.65 L80.27,189.51 L81.26,188.37 L82.24,187.24 L83.22,186.12 L84.2,185.01 L85.18,183.91 L86.17,182.82 L87.15,181.74 L88.13,180.67 L89.11,179.61 L90.1,178.57 L91.08,177.55 L92.06,176.54 L93.04,175.54 L94.02,174.57 L95.01,173.61 L95.99,172.67 L96.97,171.75 L97.95,170.85 L98.94,169.97 L99.92,169.12 L100.9,168.28 L101.88,167.48 L102.87,166.69 L103.85,165.94 L104.83,165.2 L105.81,164.5 L106.79,163.82 L107.78,163.18 L108.76,162.56 L109.74,161.97 L110.72,161.42 L111.71,160.9 L112.69,160.41 L113.67,159.95 L114.65,159.53 L115.63,159.15 L116.62,158.8 L117.6,158.49 L118.58,158.22 L119.56,157.99 L120.55,157.79 L121.53,157.64 L122.51,157.53 L123.49,157.46 L124.48,157.44 L125.46,157.46 L126.44,157.52" fill="none" stroke="#3b90cc" stroke-width="1.25" stroke-linejoin="round"/>
<path d="M59.51,225.35 L60.36,224.36 L61.2,223.37 L62.05,222.38 L62.9,221.4 L63.75,220.41 L64.59,219.43 L65.44,218.46 L66.29,217.48 L67.13,216.51 L67.98,215.54 L68.83,214.58 L69.68,213.62 L70.52,212.67 L71.37,211.72 L72.22,210.78 L73.07,209.84 L73.91,208.91 L74.76,207.99 L75.61,207.07 L76.45,206.17 L77.3,205.27 L78.15,204.37 L79,203.49 L79.84,202.62 L80.69,201.76 L81.54,200.9 L82.38,200.06 L83.23,199.23 L84.08,198.41 L84.93,197.59 L85.77,196.8 L86.62,196.01 L87.47,195.24 L88.32,194.48 L89.16,193.73 L90.01,192.99 L90.86,192.27 L91.7,191.57 L92.55,190.88 L93.4,190.2 L94.25,189.54 L95.09,188.89 L95.94,188.27 L96.79,187.65 L97.63,187.06 L98.48,186.48 L99.33,185.92 L100.18,185.38 L101.02,184.86 L101.87,184.35 L102.72,183.87 L103.57,183.4 L104.41,182.95 L105.26,182.53 L106.11,182.12 L106.95,181.74 L107.8,181.38 L108.65,181.04 L109.5,180.72 L110.34,180.42 L111.19,180.15 L112.04,179.9 L112.88,179.67 L113.73,179.47 L114.58,179.29 L115.43,179.14 L116.27,179.01 L117.12,178.91 L117.97,178.83 L118.82,178.78 L119.66,178.75 L120.51,178.76 L121.36,178.79 L122.2,178.85 L123.05,178.93 L123.9,179.05 L124.75,179.19 L125.59,179.36 L126.44,179.56" fill="none" stroke="#ff4fae" stroke-width="1.25" stroke-linejoin="round"/>
<path d="M91.52,102 L91.96,102.63 L92.4,103.25 L92.85,103.86 L93.29,104.45 L93.73,105.03 L94.17,105.6 L94.61,106.16 L95.06,106.7 L95.5,107.23 L95.94,107.74 L96.38,108.25 L96.82,108.74 L97.27,109.22 L97.71,109.69 L98.15,110.14 L98.59,110.58 L99.03,111.02 L99.48,111.44 L99.92,111.84 L100.36,112.24 L100.8,112.63 L101.24,113 L101.69,113.36 L102.13,113.71 L102.57,114.06 L103.01,114.39 L103.45,114.71 L103.9,115.02 L104.34,115.32 L104.78,115.61 L105.22,115.88 L105.66,116.15 L106.11,116.41 L106.55,116.66 L106.99,116.9 L107.43,117.13 L107.87,117.35 L108.32,117.57 L108.76,117.77 L109.2,117.96 L109.64,118.15 L110.09,118.33 L110.53,118.49 L110.97,118.65 L111.41,118.8 L111.85,118.95 L112.3,119.08 L112.74,119.21 L113.18,119.33 L113.62,119.44 L114.06,119.54 L114.51,119.64 L114.95,119.73 L115.39,119.81 L115.83,119.88 L116.27,119.95 L116.72,120.01 L117.16,120.07 L117.6,120.11 L118.04,120.15 L118.48,120.19 L118.93,120.22 L119.37,120.24 L119.81,120.26 L120.25,120.27 L120.69,120.27 L121.14,120.27 L121.58,120.26 L122.02,120.25 L122.46,120.23 L122.9,120.21 L123.35,120.18 L123.79,120.15 L124.23,120.11 L124.67,120.07 L125.11,120.03 L125.56,119.98 L126,119.92 L126.44,119.86" fill="none" stroke="#ff4fae" stroke-width="1.25" stroke-linejoin="round"/>
<path d="M93.46,101.76 L93.88,102.37 L94.29,102.97 L94.71,103.56 L95.13,104.14 L95.55,104.71 L95.96,105.27 L96.38,105.82 L96.8,106.37 L97.22,106.91 L97.63,107.43 L98.05,107.95 L98.47,108.46 L98.89,108.96 L99.3,109.45 L99.72,109.93 L100.14,110.41 L100.56,110.87 L100.97,111.33 L101.39,111.77 L101.81,112.21 L102.23,112.64 L102.64,113.05 L103.06,113.46 L103.48,113.86 L103.9,114.25 L104.31,114.64 L104.73,115.01 L105.15,115.37 L105.57,115.73 L105.98,116.07 L106.4,116.41 L106.82,116.73 L107.24,117.05 L107.65,117.36 L108.07,117.65 L108.49,117.94 L108.91,118.22 L109.32,118.49 L109.74,118.75 L110.16,119 L110.58,119.24 L110.99,119.48 L111.41,119.7 L111.83,119.91 L112.25,120.11 L112.66,120.31 L113.08,120.49 L113.5,120.66 L113.92,120.83 L114.33,120.98 L114.75,121.13 L115.17,121.26 L115.59,121.39 L116,121.5 L116.42,121.61 L116.84,121.71 L117.26,121.79 L117.67,121.87 L118.09,121.93 L118.51,121.99 L118.93,122.04 L119.34,122.07 L119.76,122.1 L120.18,122.12 L120.6,122.12 L121.01,122.12 L121.43,122.11 L121.85,122.08 L122.27,122.05 L122.68,122.01 L123.1,121.95 L123.52,121.89 L123.94,121.82 L124.35,121.73 L124.77,121.64 L125.19,121.53 L125.61,121.42 L126.02,121.29 L126.44,121.16" fill="none" stroke="#3b90cc" stroke-width="1.25" stroke-linejoin="round"/>
<path d="M90.55,230.54 L91,229.8 L91.46,229.09 L91.91,228.4 L92.37,227.74 L92.82,227.1 L93.28,226.48 L93.73,225.89 L94.18,225.32 L94.64,224.78 L95.09,224.26 L95.55,223.75 L96,223.28 L96.46,222.82 L96.91,222.38 L97.36,221.96 L97.82,221.57 L98.27,221.19 L98.73,220.83 L99.18,220.49 L99.64,220.17 L100.09,219.86 L100.54,219.58 L101,219.31 L101.45,219.05 L101.91,218.82 L102.36,218.6 L102.82,218.39 L103.27,218.2 L103.72,218.02 L104.18,217.86 L104.63,217.71 L105.09,217.57 L105.54,217.44 L106,217.33 L106.45,217.23 L106.9,217.14 L107.36,217.06 L107.81,217 L108.27,216.94 L108.72,216.89 L109.18,216.85 L109.63,216.82 L110.09,216.8 L110.54,216.78 L110.99,216.78 L111.45,216.78 L111.9,216.78 L112.36,216.8 L112.81,216.81 L113.27,216.84 L113.72,216.87 L114.17,216.9 L114.63,216.94 L115.08,216.98 L115.54,217.02 L115.99,217.07 L116.45,217.12 L116.9,217.17 L117.35,217.22 L117.81,217.28 L118.26,217.33 L118.72,217.38 L119.17,217.44 L119.63,217.49 L120.08,217.54 L120.53,217.59 L120.99,217.64 L121.44,217.69 L121.9,217.73 L122.35,217.77 L122.81,217.81 L123.26,217.84 L123.71,217.87 L124.17,217.89 L124.62,217.91 L125.08,217.92 L125.53,217.92 L125.99,217.92 L126.44,217.91" fill="none" stroke="#3b90cc" stroke-width="1.25" stroke-linejoin="round"/>
<path d="M92.49,230.11 L92.92,229.41 L93.35,228.74 L93.78,228.1 L94.21,227.48 L94.64,226.89 L95.07,226.32 L95.5,225.78 L95.93,225.26 L96.36,224.77 L96.79,224.3 L97.22,223.85 L97.65,223.43 L98.08,223.02 L98.51,222.64 L98.94,222.28 L99.37,221.94 L99.8,221.62 L100.23,221.31 L100.66,221.03 L101.08,220.76 L101.51,220.51 L101.94,220.28 L102.37,220.06 L102.8,219.86 L103.23,219.68 L103.66,219.51 L104.09,219.36 L104.52,219.22 L104.95,219.09 L105.38,218.97 L105.81,218.87 L106.24,218.78 L106.67,218.7 L107.1,218.64 L107.53,218.58 L107.96,218.53 L108.39,218.49 L108.82,218.47 L109.25,218.44 L109.68,218.43 L110.11,218.43 L110.54,218.43 L110.97,218.44 L111.4,218.45 L111.83,218.47 L112.26,218.49 L112.69,218.52 L113.12,218.55 L113.55,218.58 L113.98,218.62 L114.41,218.66 L114.84,218.7 L115.27,218.75 L115.7,218.79 L116.13,218.83 L116.56,218.87 L116.99,218.92 L117.42,218.96 L117.85,219 L118.27,219.03 L118.7,219.07 L119.13,219.1 L119.56,219.12 L119.99,219.14 L120.42,219.16 L120.85,219.17 L121.28,219.18 L121.71,219.18 L122.14,219.17 L122.57,219.15 L123,219.13 L123.43,219.1 L123.86,219.06 L124.29,219.01 L124.72,218.95 L125.15,218.88 L125.58,218.79 L126.01,218.7 L126.44,218.59" fill="none" stroke="#ff4fae" stroke-width="1.25" stroke-linejoin="round"/>
</g>
<line x1="127.8" y1="154.4" x2="223.9" y2="154.4" stroke="#4fb84a" stroke-width="1.5" stroke-dasharray="4.8 2.7"/>
<line x1="127.8" y1="166.4" x2="223.9" y2="166.4" stroke="#4fb84a" stroke-width="1.5" stroke-dasharray="4.8 2.7"/>
<clipPath id="c5"><rect x="126.4" y="112" width="97.6" height="96.8"/></clipPath>
<g clip-path="url(#c5)">
<path d="M127.3,112 L127.3,125.3 L141.1,125.7 L157.66,126.1 L167.78,126.8 L171.92,128 L172.84,130.4 L172.84,154.3 L135.12,154.8 L172.84,155.3 L172.84,156.8 L196.3,157.4 L212.4,158.3 L216.08,160 L217,162.7 L215.62,165.2 L210.1,166.1 L182.5,166.3 L172.84,166.35 L142.48,166.5 L172.84,166.8 L172.84,209" fill="none" stroke="#3b90cc" stroke-width="1.25" stroke-linejoin="round"/>
<path d="M127.3,112 L127.3,115.5 L128.68,117.5 L132.82,118.7 L154.9,119.1 L171,119.4 L172.84,120.5 L172.84,137 L171.46,140 L168.7,141.8 L159.5,143.5 L143.4,144.3 L129.6,144.8 L127.3,145.5 L127.3,179.2 L129.6,179.8 L154.9,180.1 L165.02,180.5 L168.7,181.5 L171,184 L172.38,188 L172.84,191 L172.84,209" fill="none" stroke="#ff4fae" stroke-width="1.25" stroke-linejoin="round"/>
</g>
<line x1="227.1" y1="154.4" x2="323.9" y2="154.4" stroke="#4fb84a" stroke-width="1.5" stroke-dasharray="4.8 2.7"/>
<line x1="227.1" y1="166.4" x2="323.9" y2="166.4" stroke="#4fb84a" stroke-width="1.5" stroke-dasharray="4.8 2.7"/>
<clipPath id="c6"><rect x="227.7" y="112.6" width="96.4" height="95.6"/></clipPath>
<g clip-path="url(#c6)">
<path d="M225.46,109.8 L226.74,109.43 L228.01,109.08 L229.29,108.75 L230.57,108.44 L231.84,108.15 L233.12,107.88 L234.4,107.63 L235.68,107.4 L236.95,107.2 L238.23,107.01 L239.51,106.85 L240.78,106.72 L242.06,106.6 L243.34,106.52 L244.61,106.45 L245.89,106.42 L247.17,106.41 L248.45,106.42 L249.72,106.47 L251,106.54 L252.28,106.64 L253.55,106.77 L254.83,106.93 L256.11,107.12 L257.38,107.34 L258.66,107.59 L259.94,107.88 L261.21,108.19 L262.49,108.54 L263.77,108.93 L265.05,109.34 L266.32,109.8 L267.6,110.28 L268.88,110.81 L270.15,111.36 L271.43,111.96 L272.71,112.59 L273.98,113.26 L275.26,113.97 L276.54,114.72 L277.82,115.51 L279.09,116.34 L280.37,117.21 L281.65,118.12 L282.92,119.07 L284.2,120.06 L285.48,121.1 L286.75,122.18 L288.03,123.3 L289.31,124.45 L290.59,125.63 L291.86,126.82 L293.14,128.01 L294.42,129.21 L295.69,130.41 L296.97,131.58 L298.25,132.74 L299.52,133.86 L300.8,134.95 L302.08,135.99 L303.35,136.97 L304.63,137.9 L305.91,138.76 L307.19,139.54 L308.46,140.26 L309.74,140.9 L311.02,141.48 L312.29,141.98 L313.57,142.41 L314.85,142.77 L316.12,143.06 L317.4,143.28 L318.68,143.42 L319.96,143.5 L321.23,143.5 L322.51,143.43 L323.79,143.3 L325.06,143.09 L326.34,142.8" fill="none" stroke="#ff4fae" stroke-width="1.25" stroke-linejoin="round"/>
<path d="M225.46,116.13 L226.74,115.95 L228.01,115.76 L229.29,115.58 L230.57,115.4 L231.84,115.23 L233.12,115.06 L234.4,114.9 L235.68,114.75 L236.95,114.62 L238.23,114.49 L239.51,114.38 L240.78,114.28 L242.06,114.2 L243.34,114.14 L244.61,114.1 L245.89,114.08 L247.17,114.08 L248.45,114.1 L249.72,114.15 L251,114.23 L252.28,114.33 L253.55,114.47 L254.83,114.64 L256.11,114.83 L257.38,115.07 L258.66,115.33 L259.94,115.64 L261.21,115.98 L262.49,116.36 L263.77,116.78 L265.05,117.25 L266.32,117.76 L267.6,118.31 L268.88,118.91 L270.15,119.56 L271.43,120.26 L272.71,121.01 L273.98,121.81 L275.26,122.67 L276.54,123.58 L277.82,124.55 L279.09,125.58 L280.37,126.66 L281.65,127.81 L282.92,129.02 L284.2,130.3 L285.48,131.64 L286.75,133.04 L288.03,134.5 L289.31,136.02 L290.59,137.57 L291.86,139.16 L293.14,140.77 L294.42,142.4 L295.69,144.03 L296.97,145.66 L298.25,147.28 L299.52,148.87 L300.8,150.44 L302.08,151.97 L303.35,153.45 L304.63,154.88 L305.91,156.24 L307.19,157.54 L308.46,158.76 L309.74,159.9 L311.02,160.97 L312.29,161.94 L313.57,162.82 L314.85,163.61 L316.12,164.29 L317.4,164.87 L318.68,165.33 L319.96,165.68 L321.23,165.9 L322.51,166 L323.79,165.97 L325.06,165.8 L326.34,165.49" fill="none" stroke="#3b90cc" stroke-width="1.25" stroke-linejoin="round"/>
<path d="M248.74,212.62 L249.72,211.7 L250.7,210.75 L251.69,209.79 L252.67,208.81 L253.65,207.82 L254.63,206.81 L255.62,205.78 L256.6,204.74 L257.58,203.68 L258.56,202.61 L259.55,201.53 L260.53,200.44 L261.51,199.33 L262.49,198.22 L263.47,197.1 L264.46,195.97 L265.44,194.83 L266.42,193.69 L267.4,192.54 L268.39,191.39 L269.37,190.23 L270.35,189.07 L271.33,187.91 L272.31,186.75 L273.3,185.59 L274.28,184.42 L275.26,183.26 L276.24,182.1 L277.23,180.95 L278.21,179.8 L279.19,178.65 L280.17,177.51 L281.16,176.37 L282.14,175.24 L283.12,174.12 L284.1,173.01 L285.08,171.91 L286.07,170.82 L287.05,169.74 L288.03,168.67 L289.01,167.61 L290,166.57 L290.98,165.55 L291.96,164.54 L292.94,163.54 L293.92,162.57 L294.91,161.61 L295.89,160.67 L296.87,159.75 L297.85,158.85 L298.84,157.97 L299.82,157.12 L300.8,156.28 L301.78,155.48 L302.77,154.69 L303.75,153.94 L304.73,153.2 L305.71,152.5 L306.69,151.82 L307.68,151.18 L308.66,150.56 L309.64,149.97 L310.62,149.42 L311.61,148.9 L312.59,148.41 L313.57,147.95 L314.55,147.53 L315.53,147.15 L316.52,146.8 L317.5,146.49 L318.48,146.22 L319.46,145.99 L320.45,145.79 L321.43,145.64 L322.41,145.53 L323.39,145.46 L324.38,145.44 L325.36,145.46 L326.34,145.52" fill="none" stroke="#3b90cc" stroke-width="1.25" stroke-linejoin="round"/>
<path d="M259.41,213.35 L260.26,212.36 L261.1,211.37 L261.95,210.38 L262.8,209.4 L263.65,208.41 L264.49,207.43 L265.34,206.46 L266.19,205.48 L267.03,204.51 L267.88,203.54 L268.73,202.58 L269.58,201.62 L270.42,200.67 L271.27,199.72 L272.12,198.78 L272.97,197.84 L273.81,196.91 L274.66,195.99 L275.51,195.07 L276.35,194.17 L277.2,193.27 L278.05,192.37 L278.9,191.49 L279.74,190.62 L280.59,189.76 L281.44,188.9 L282.28,188.06 L283.13,187.23 L283.98,186.41 L284.83,185.59 L285.67,184.8 L286.52,184.01 L287.37,183.24 L288.22,182.48 L289.06,181.73 L289.91,180.99 L290.76,180.27 L291.6,179.57 L292.45,178.88 L293.3,178.2 L294.15,177.54 L294.99,176.89 L295.84,176.27 L296.69,175.65 L297.53,175.06 L298.38,174.48 L299.23,173.92 L300.08,173.38 L300.92,172.86 L301.77,172.35 L302.62,171.87 L303.47,171.4 L304.31,170.95 L305.16,170.53 L306.01,170.12 L306.85,169.74 L307.7,169.38 L308.55,169.04 L309.4,168.72 L310.24,168.42 L311.09,168.15 L311.94,167.9 L312.78,167.67 L313.63,167.47 L314.48,167.29 L315.33,167.14 L316.17,167.01 L317.02,166.91 L317.87,166.83 L318.72,166.78 L319.56,166.75 L320.41,166.76 L321.26,166.79 L322.1,166.85 L322.95,166.93 L323.8,167.05 L324.65,167.19 L325.49,167.36 L326.34,167.56" fill="none" stroke="#ff4fae" stroke-width="1.25" stroke-linejoin="round"/>
<path d="M291.42,90 L291.86,90.63 L292.3,91.25 L292.75,91.86 L293.19,92.45 L293.63,93.03 L294.07,93.6 L294.51,94.16 L294.96,94.7 L295.4,95.23 L295.84,95.74 L296.28,96.25 L296.72,96.74 L297.17,97.22 L297.61,97.69 L298.05,98.14 L298.49,98.58 L298.93,99.02 L299.38,99.44 L299.82,99.84 L300.26,100.24 L300.7,100.63 L301.14,101 L301.59,101.36 L302.03,101.71 L302.47,102.06 L302.91,102.39 L303.35,102.71 L303.8,103.02 L304.24,103.32 L304.68,103.61 L305.12,103.88 L305.56,104.15 L306.01,104.41 L306.45,104.66 L306.89,104.9 L307.33,105.13 L307.77,105.35 L308.22,105.57 L308.66,105.77 L309.1,105.96 L309.54,106.15 L309.99,106.33 L310.43,106.49 L310.87,106.65 L311.31,106.8 L311.75,106.95 L312.2,107.08 L312.64,107.21 L313.08,107.33 L313.52,107.44 L313.96,107.54 L314.41,107.64 L314.85,107.73 L315.29,107.81 L315.73,107.88 L316.17,107.95 L316.62,108.01 L317.06,108.07 L317.5,108.11 L317.94,108.15 L318.38,108.19 L318.83,108.22 L319.27,108.24 L319.71,108.26 L320.15,108.27 L320.59,108.27 L321.04,108.27 L321.48,108.26 L321.92,108.25 L322.36,108.23 L322.8,108.21 L323.25,108.18 L323.69,108.15 L324.13,108.11 L324.57,108.07 L325.01,108.03 L325.46,107.98 L325.9,107.92 L326.34,107.86" fill="none" stroke="#ff4fae" stroke-width="1.25" stroke-linejoin="round"/>
<path d="M293.36,89.76 L293.78,90.37 L294.19,90.97 L294.61,91.56 L295.03,92.14 L295.45,92.71 L295.86,93.27 L296.28,93.82 L296.7,94.37 L297.12,94.91 L297.53,95.43 L297.95,95.95 L298.37,96.46 L298.79,96.96 L299.2,97.45 L299.62,97.93 L300.04,98.41 L300.46,98.87 L300.87,99.33 L301.29,99.77 L301.71,100.21 L302.13,100.64 L302.54,101.05 L302.96,101.46 L303.38,101.86 L303.8,102.25 L304.21,102.64 L304.63,103.01 L305.05,103.37 L305.47,103.73 L305.88,104.07 L306.3,104.41 L306.72,104.73 L307.14,105.05 L307.55,105.36 L307.97,105.65 L308.39,105.94 L308.81,106.22 L309.22,106.49 L309.64,106.75 L310.06,107 L310.48,107.24 L310.89,107.48 L311.31,107.7 L311.73,107.91 L312.15,108.11 L312.56,108.31 L312.98,108.49 L313.4,108.66 L313.82,108.83 L314.23,108.98 L314.65,109.13 L315.07,109.26 L315.49,109.39 L315.9,109.5 L316.32,109.61 L316.74,109.71 L317.16,109.79 L317.57,109.87 L317.99,109.93 L318.41,109.99 L318.83,110.04 L319.24,110.07 L319.66,110.1 L320.08,110.12 L320.5,110.12 L320.91,110.12 L321.33,110.11 L321.75,110.08 L322.17,110.05 L322.58,110.01 L323,109.95 L323.42,109.89 L323.84,109.82 L324.25,109.73 L324.67,109.64 L325.09,109.53 L325.51,109.42 L325.92,109.29 L326.34,109.16" fill="none" stroke="#3b90cc" stroke-width="1.25" stroke-linejoin="round"/>
<path d="M290.45,218.54 L290.9,217.8 L291.36,217.09 L291.81,216.4 L292.27,215.74 L292.72,215.1 L293.18,214.48 L293.63,213.89 L294.08,213.32 L294.54,212.78 L294.99,212.26 L295.45,211.75 L295.9,211.28 L296.36,210.82 L296.81,210.38 L297.26,209.96 L297.72,209.57 L298.17,209.19 L298.63,208.83 L299.08,208.49 L299.54,208.17 L299.99,207.86 L300.44,207.58 L300.9,207.31 L301.35,207.05 L301.81,206.82 L302.26,206.6 L302.72,206.39 L303.17,206.2 L303.62,206.02 L304.08,205.86 L304.53,205.71 L304.99,205.57 L305.44,205.44 L305.9,205.33 L306.35,205.23 L306.8,205.14 L307.26,205.06 L307.71,205 L308.17,204.94 L308.62,204.89 L309.08,204.85 L309.53,204.82 L309.99,204.8 L310.44,204.78 L310.89,204.78 L311.35,204.78 L311.8,204.78 L312.26,204.8 L312.71,204.81 L313.17,204.84 L313.62,204.87 L314.07,204.9 L314.53,204.94 L314.98,204.98 L315.44,205.02 L315.89,205.07 L316.35,205.12 L316.8,205.17 L317.25,205.22 L317.71,205.28 L318.16,205.33 L318.62,205.38 L319.07,205.44 L319.53,205.49 L319.98,205.54 L320.43,205.59 L320.89,205.64 L321.34,205.69 L321.8,205.73 L322.25,205.77 L322.71,205.81 L323.16,205.84 L323.61,205.87 L324.07,205.89 L324.52,205.91 L324.98,205.92 L325.43,205.92 L325.89,205.92 L326.34,205.91" fill="none" stroke="#3b90cc" stroke-width="1.25" stroke-linejoin="round"/>
<path d="M292.39,218.11 L292.82,217.41 L293.25,216.74 L293.68,216.1 L294.11,215.48 L294.54,214.89 L294.97,214.32 L295.4,213.78 L295.83,213.26 L296.26,212.77 L296.69,212.3 L297.12,211.85 L297.55,211.43 L297.98,211.02 L298.41,210.64 L298.84,210.28 L299.27,209.94 L299.7,209.62 L300.13,209.31 L300.56,209.03 L300.98,208.76 L301.41,208.51 L301.84,208.28 L302.27,208.06 L302.7,207.86 L303.13,207.68 L303.56,207.51 L303.99,207.36 L304.42,207.22 L304.85,207.09 L305.28,206.97 L305.71,206.87 L306.14,206.78 L306.57,206.7 L307,206.64 L307.43,206.58 L307.86,206.53 L308.29,206.49 L308.72,206.47 L309.15,206.44 L309.58,206.43 L310.01,206.43 L310.44,206.43 L310.87,206.44 L311.3,206.45 L311.73,206.47 L312.16,206.49 L312.59,206.52 L313.02,206.55 L313.45,206.58 L313.88,206.62 L314.31,206.66 L314.74,206.7 L315.17,206.75 L315.6,206.79 L316.03,206.83 L316.46,206.87 L316.89,206.92 L317.32,206.96 L317.75,207 L318.17,207.03 L318.6,207.07 L319.03,207.1 L319.46,207.12 L319.89,207.14 L320.32,207.16 L320.75,207.17 L321.18,207.18 L321.61,207.18 L322.04,207.17 L322.47,207.15 L322.9,207.13 L323.33,207.1 L323.76,207.06 L324.19,207.01 L324.62,206.95 L325.05,206.88 L325.48,206.79 L325.91,206.7 L326.34,206.59" fill="none" stroke="#ff4fae" stroke-width="1.25" stroke-linejoin="round"/>
</g>
<rect x="267.4" y="10.9" width="56.4" height="19.7" fill="#fff" stroke="#d4d4d4" stroke-width="0.8"/>
<line x1="268.8" y1="16" x2="285.6" y2="16" stroke="#ff4fae" stroke-width="1.3"/>
<text x="287.9" y="18.6" font-family="Liberation Sans" font-size="7.5" font-weight="normal" text-anchor="start">spin down</text>
<line x1="268.8" y1="25.6" x2="285.6" y2="25.6" stroke="#3b90cc" stroke-width="1.3"/>
<text x="287.9" y="28.2" font-family="Liberation Sans" font-size="7.5" font-weight="normal" text-anchor="start">spin up</text>
<text x="77" y="7.8" font-family="Liberation Serif" font-size="9" font-weight="bold" text-anchor="start">L</text>
<text x="166.2" y="8" font-family="Liberation Serif" font-size="9.8" font-weight="bold" text-anchor="start" textLength="19.3" lengthAdjust="spacingAndGlyphs">T(E)</text>
<text x="273.5" y="8.6" font-family="Liberation Serif" font-size="9" font-weight="bold" text-anchor="start">R</text>
<text x="27.3" y="22.4" font-family="Liberation Sans" font-size="12.3" font-weight="normal" text-anchor="start">(a)</text>
<text x="0" y="0" transform="translate(10,108.3) rotate(-90)" font-family="Liberation Serif" font-size="12.0" font-weight="bold" text-anchor="middle" textLength="62.7" lengthAdjust="spacingAndGlyphs">Energy (eV)</text>
<text x="25" y="21.4" font-family="Liberation Sans" font-size="6.5" font-weight="bold" text-anchor="end">1.0</text>
<text x="25" y="41.4" font-family="Liberation Sans" font-size="6.5" font-weight="bold" text-anchor="end">0.5</text>
<text x="25" y="61.4" font-family="Liberation Sans" font-size="6.5" font-weight="bold" text-anchor="end">0.0</text>
<text x="25" y="81.4" font-family="Liberation Sans" font-size="6.5" font-weight="bold" text-anchor="end">-0.5</text>
<text x="25" y="101.4" font-family="Liberation Sans" font-size="6.5" font-weight="bold" text-anchor="end">-1.0</text>
<text x="25" y="122.7" font-family="Liberation Sans" font-size="6.5" font-weight="bold" text-anchor="end">1.0</text>
<text x="25" y="142.7" font-family="Liberation Sans" font-size="6.5" font-weight="bold" text-anchor="end">0.5</text>
<text x="25" y="162.7" font-family="Liberation Sans" font-size="6.5" font-weight="bold" text-anchor="end">0.0</text>
<text x="25" y="182.7" font-family="Liberation Sans" font-size="6.5" font-weight="bold" text-anchor="end">-0.5</text>
<text x="25" y="202.7" font-family="Liberation Sans" font-size="6.5" font-weight="bold" text-anchor="end">-1.0</text>
<text x="31.9" y="220.4" font-family="Liberation Serif" font-size="12.8" font-weight="normal" text-anchor="middle">&#915;</text>
<text x="118.4" y="219.4" font-family="Liberation Serif" font-size="12.8" font-weight="normal" text-anchor="middle">Z</text>
<text x="231.2" y="221.3" font-family="Liberation Serif" font-size="12.8" font-weight="normal" text-anchor="middle">&#915;</text>
<text x="323.2" y="221.4" font-family="Liberation Serif" font-size="12.8" font-weight="normal" text-anchor="middle">Z</text>
<text x="127.6" y="216.9" font-family="Liberation Sans" font-size="6.2" font-weight="bold" text-anchor="middle">0.0</text>
<text x="150.7" y="216.9" font-family="Liberation Sans" font-size="6.2" font-weight="bold" text-anchor="middle">0.5</text>
<text x="173.3" y="216.9" font-family="Liberation Sans" font-size="6.2" font-weight="bold" text-anchor="middle">1.0</text>
<text x="196" y="216.9" font-family="Liberation Sans" font-size="6.2" font-weight="bold" text-anchor="middle">1.5</text>
<text x="218.6" y="216.9" font-family="Liberation Sans" font-size="6.2" font-weight="bold" text-anchor="middle">2.0</text>
<text x="222" y="19.8" font-family="Liberation Serif" font-size="7.4" font-weight="bold" text-anchor="end" textLength="14.8" lengthAdjust="spacingAndGlyphs">0.0 V</text>
<text x="221" y="120.5" font-family="Liberation Serif" font-size="7.4" font-weight="bold" text-anchor="end" textLength="14.6" lengthAdjust="spacingAndGlyphs">0.3 V</text>
<text x="223.2" y="207.2" font-family="Liberation Serif" font-size="8.4" font-weight="bold" text-anchor="end" textLength="23.2" lengthAdjust="spacingAndGlyphs">1H-1H</text>
<rect x="27.6" y="248.5" width="96.9" height="97" fill="none" stroke="#bababa" stroke-width="1.1"/>
<rect x="127.3" y="248.5" width="97.1" height="97" fill="none" stroke="#bababa" stroke-width="1.1"/>
<rect x="227.4" y="248.5" width="97" height="97" fill="none" stroke="#bababa" stroke-width="1.1"/>
<path d="M26.2,337.3H27.6 M127.3,337.3H128.6 M227.4,337.3H228.7 M26.2,327.3H27.6 M127.3,327.3H128.6 M227.4,327.3H228.7 M26.2,317.3H27.6 M127.3,317.3H128.6 M227.4,317.3H228.7 M26.2,307.3H27.6 M127.3,307.3H128.6 M227.4,307.3H228.7 M26.2,297.3H27.6 M127.3,297.3H128.6 M227.4,297.3H228.7 M26.2,287.3H27.6 M127.3,287.3H128.6 M227.4,287.3H228.7 M26.2,277.3H27.6 M127.3,277.3H128.6 M227.4,277.3H228.7 M26.2,267.3H27.6 M127.3,267.3H128.6 M227.4,267.3H228.7 M26.2,257.3H27.6 M127.3,257.3H128.6 M227.4,257.3H228.7" stroke="#bababa" stroke-width="0.8" fill="none"/>
<line x1="27.3" y1="297.3" x2="124" y2="297.3" stroke="#4fb84a" stroke-width="1.5" stroke-dasharray="4.8 2.7"/>
<clipPath id="c7"><rect x="27.9" y="248.8" width="96.3" height="96.4"/></clipPath>
<g clip-path="url(#c7)">
<path d="M25.66,286.22 L26.94,286.26 L28.21,286.26 L29.49,286.22 L30.76,286.14 L32.04,286.02 L33.32,285.87 L34.59,285.69 L35.87,285.48 L37.14,285.24 L38.42,284.97 L39.69,284.67 L40.97,284.34 L42.25,283.99 L43.52,283.62 L44.8,283.23 L46.07,282.81 L47.35,282.38 L48.62,281.93 L49.9,281.47 L51.17,280.99 L52.45,280.5 L53.73,279.99 L55,279.48 L56.28,278.95 L57.55,278.42 L58.83,277.89 L60.1,277.35 L61.38,276.8 L62.66,276.26 L63.93,275.71 L65.21,275.17 L66.48,274.63 L67.76,274.09 L69.03,273.56 L70.31,273.03 L71.59,272.52 L72.86,272.01 L74.14,271.52 L75.41,271.03 L76.69,270.56 L77.96,270.11 L79.24,269.67 L80.51,269.24 L81.79,268.83 L83.07,268.44 L84.34,268.06 L85.62,267.69 L86.89,267.34 L88.17,267.01 L89.44,266.7 L90.72,266.4 L92,266.12 L93.27,265.86 L94.55,265.62 L95.82,265.4 L97.1,265.19 L98.37,265.01 L99.65,264.84 L100.93,264.69 L102.2,264.57 L103.48,264.46 L104.75,264.38 L106.03,264.31 L107.3,264.27 L108.58,264.25 L109.85,264.26 L111.13,264.28 L112.41,264.33 L113.68,264.4 L114.96,264.5 L116.23,264.61 L117.51,264.76 L118.78,264.92 L120.06,265.12 L121.34,265.33 L122.61,265.58 L123.89,265.85 L125.16,266.14 L126.44,266.46" fill="none" stroke="#3b90cc" stroke-width="1.25" stroke-linejoin="round"/>
<path d="M25.66,297.93 L26.94,298.09 L28.21,298.21 L29.49,298.29 L30.76,298.33 L32.04,298.33 L33.32,298.3 L34.59,298.24 L35.87,298.15 L37.14,298.03 L38.42,297.88 L39.69,297.7 L40.97,297.51 L42.25,297.29 L43.52,297.05 L44.8,296.79 L46.07,296.52 L47.35,296.23 L48.62,295.93 L49.9,295.62 L51.17,295.3 L52.45,294.97 L53.73,294.64 L55,294.3 L56.28,293.96 L57.55,293.62 L58.83,293.28 L60.1,292.95 L61.38,292.62 L62.66,292.31 L63.93,292.01 L65.21,291.72 L66.48,291.46 L67.76,291.22 L69.03,291 L70.31,290.81 L71.59,290.66 L72.86,290.53 L74.14,290.44 L75.41,290.39 L76.69,290.39 L77.96,290.42 L79.24,290.51 L80.51,290.64 L81.79,290.83 L83.07,291.08 L84.34,291.38 L85.62,291.75 L86.89,292.18 L88.17,292.67 L89.44,293.24 L90.72,293.88 L92,294.59 L93.27,295.37 L94.55,296.2 L95.82,297.08 L97.1,298 L98.37,298.96 L99.65,299.94 L100.93,300.95 L102.2,301.96 L103.48,302.98 L104.75,303.99 L106.03,304.99 L107.3,305.97 L108.58,306.93 L109.85,307.85 L111.13,308.74 L112.41,309.57 L113.68,310.35 L114.96,311.06 L116.23,311.7 L117.51,312.26 L118.78,312.74 L120.06,313.12 L121.34,313.4 L122.61,313.57 L123.89,313.63 L125.16,313.56 L126.44,313.36" fill="none" stroke="#3b90cc" stroke-width="1.25" stroke-linejoin="round"/>
<path d="M25.66,312.91 L26.94,312.85 L28.21,312.78 L29.49,312.67 L30.76,312.55 L32.04,312.4 L33.32,312.23 L34.59,312.03 L35.87,311.82 L37.14,311.59 L38.42,311.34 L39.69,311.07 L40.97,310.78 L42.25,310.48 L43.52,310.16 L44.8,309.82 L46.07,309.47 L47.35,309.11 L48.62,308.73 L49.9,308.35 L51.17,307.95 L52.45,307.54 L53.73,307.12 L55,306.7 L56.28,306.26 L57.55,305.82 L58.83,305.37 L60.1,304.92 L61.38,304.46 L62.66,303.99 L63.93,303.53 L65.21,303.06 L66.48,302.59 L67.76,302.12 L69.03,301.64 L70.31,301.17 L71.59,300.7 L72.86,300.23 L74.14,299.77 L75.41,299.31 L76.69,298.85 L77.96,298.4 L79.24,297.95 L80.51,297.51 L81.79,297.08 L83.07,296.66 L84.34,296.24 L85.62,295.83 L86.89,295.44 L88.17,295.05 L89.44,294.68 L90.72,294.32 L92,293.97 L93.27,293.64 L94.55,293.32 L95.82,293.01 L97.1,292.73 L98.37,292.46 L99.65,292.2 L100.93,291.97 L102.2,291.75 L103.48,291.55 L104.75,291.37 L106.03,291.22 L107.3,291.08 L108.58,290.97 L109.85,290.88 L111.13,290.82 L112.41,290.78 L113.68,290.76 L114.96,290.78 L116.23,290.81 L117.51,290.88 L118.78,290.97 L120.06,291.1 L121.34,291.25 L122.61,291.43 L123.89,291.65 L125.16,291.89 L126.44,292.17" fill="none" stroke="#ff4fae" stroke-width="1.25" stroke-linejoin="round"/>
<path d="M25.66,322.9 L26.94,323.04 L28.21,323.14 L29.49,323.19 L30.76,323.2 L32.04,323.17 L33.32,323.11 L34.59,323.01 L35.87,322.89 L37.14,322.73 L38.42,322.55 L39.69,322.34 L40.97,322.11 L42.25,321.86 L43.52,321.59 L44.8,321.31 L46.07,321.01 L47.35,320.71 L48.62,320.39 L49.9,320.07 L51.17,319.75 L52.45,319.42 L53.73,319.09 L55,318.77 L56.28,318.45 L57.55,318.14 L58.83,317.84 L60.1,317.55 L61.38,317.28 L62.66,317.02 L63.93,316.78 L65.21,316.57 L66.48,316.37 L67.76,316.21 L69.03,316.07 L70.31,315.96 L71.59,315.88 L72.86,315.84 L74.14,315.83 L75.41,315.87 L76.69,315.94 L77.96,316.06 L79.24,316.23 L80.51,316.44 L81.79,316.71 L83.07,317.03 L84.34,317.4 L85.62,317.83 L86.89,318.32 L88.17,318.86 L89.44,319.45 L90.72,320.09 L92,320.78 L93.27,321.52 L94.55,322.29 L95.82,323.12 L97.1,323.98 L98.37,324.88 L99.65,325.82 L100.93,326.79 L102.2,327.8 L103.48,328.84 L104.75,329.91 L106.03,331.01 L107.3,332.13 L108.58,333.28 L109.85,334.46 L111.13,335.65 L112.41,336.86 L113.68,338.09 L114.96,339.34 L116.23,340.56 L117.51,341.68 L118.78,342.6 L120.06,343.26 L121.34,343.56 L122.61,343.41 L123.89,342.75 L125.16,341.74 L126.44,341.02" fill="none" stroke="#ff4fae" stroke-width="1.25" stroke-linejoin="round"/>
<path d="M99.31,233.3 L108.51,243.7 L116.75,247.3 L126.44,249.1" fill="none" stroke="#ff4fae" stroke-width="1.25" stroke-linejoin="round"/>
</g>
<line x1="127.8" y1="297.3" x2="223.9" y2="297.3" stroke="#4fb84a" stroke-width="1.5" stroke-dasharray="4.8 2.7"/>
<clipPath id="c8"><rect x="126.4" y="248.2" width="97.6" height="97.6"/></clipPath>
<g clip-path="url(#c8)">
<path d="M127.3,248 L127.3,265.5 L159.67,266.5 L159.67,286 L127.3,287.5 L127.3,290.5 L192.04,291.5 L192.04,297.7 L159.67,299 L159.67,313 L127.3,314 L127.3,346" fill="none" stroke="#3b90cc" stroke-width="1.25" stroke-linejoin="round"/>
<path d="M154.81,248.3 L127.3,249.4 L127.3,290.6 L159.67,291.3 L159.67,312.6 L127.3,313.5 L127.3,316.7 L192.04,317.4 L192.04,323 L159.67,323.8 L159.67,342.3 L127.3,343 L127.3,346" fill="none" stroke="#ff4fae" stroke-width="1.25" stroke-linejoin="round"/>
</g>
<line x1="227.1" y1="297.3" x2="323.9" y2="297.3" stroke="#4fb84a" stroke-width="1.5" stroke-dasharray="4.8 2.7"/>
<clipPath id="c9"><rect x="227.7" y="248.8" width="96.4" height="96.4"/></clipPath>
<g clip-path="url(#c9)">
<path d="M225.46,286.22 L226.74,286.26 L228.01,286.26 L229.29,286.22 L230.57,286.14 L231.84,286.02 L233.12,285.87 L234.4,285.69 L235.68,285.48 L236.95,285.24 L238.23,284.97 L239.51,284.67 L240.78,284.34 L242.06,283.99 L243.34,283.62 L244.61,283.23 L245.89,282.81 L247.17,282.38 L248.45,281.93 L249.72,281.47 L251,280.99 L252.28,280.5 L253.55,279.99 L254.83,279.48 L256.11,278.95 L257.38,278.42 L258.66,277.89 L259.94,277.35 L261.21,276.8 L262.49,276.26 L263.77,275.71 L265.05,275.17 L266.32,274.63 L267.6,274.09 L268.88,273.56 L270.15,273.03 L271.43,272.52 L272.71,272.01 L273.98,271.52 L275.26,271.03 L276.54,270.56 L277.82,270.11 L279.09,269.67 L280.37,269.24 L281.65,268.83 L282.92,268.44 L284.2,268.06 L285.48,267.69 L286.75,267.34 L288.03,267.01 L289.31,266.7 L290.59,266.4 L291.86,266.12 L293.14,265.86 L294.42,265.62 L295.69,265.4 L296.97,265.19 L298.25,265.01 L299.52,264.84 L300.8,264.69 L302.08,264.57 L303.35,264.46 L304.63,264.38 L305.91,264.31 L307.19,264.27 L308.46,264.25 L309.74,264.26 L311.02,264.28 L312.29,264.33 L313.57,264.4 L314.85,264.5 L316.12,264.61 L317.4,264.76 L318.68,264.92 L319.96,265.12 L321.23,265.33 L322.51,265.58 L323.79,265.85 L325.06,266.14 L326.34,266.46" fill="none" stroke="#3b90cc" stroke-width="1.25" stroke-linejoin="round"/>
<path d="M225.46,297.93 L226.74,298.09 L228.01,298.21 L229.29,298.29 L230.57,298.33 L231.84,298.33 L233.12,298.3 L234.4,298.24 L235.68,298.15 L236.95,298.03 L238.23,297.88 L239.51,297.7 L240.78,297.51 L242.06,297.29 L243.34,297.05 L244.61,296.79 L245.89,296.52 L247.17,296.23 L248.45,295.93 L249.72,295.62 L251,295.3 L252.28,294.97 L253.55,294.64 L254.83,294.3 L256.11,293.96 L257.38,293.62 L258.66,293.28 L259.94,292.95 L261.21,292.62 L262.49,292.31 L263.77,292.01 L265.05,291.72 L266.32,291.46 L267.6,291.22 L268.88,291 L270.15,290.81 L271.43,290.66 L272.71,290.53 L273.98,290.44 L275.26,290.39 L276.54,290.39 L277.82,290.42 L279.09,290.51 L280.37,290.64 L281.65,290.83 L282.92,291.08 L284.2,291.38 L285.48,291.75 L286.75,292.18 L288.03,292.67 L289.31,293.24 L290.59,293.88 L291.86,294.59 L293.14,295.37 L294.42,296.2 L295.69,297.08 L296.97,298 L298.25,298.96 L299.52,299.94 L300.8,300.95 L302.08,301.96 L303.35,302.98 L304.63,303.99 L305.91,304.99 L307.19,305.97 L308.46,306.93 L309.74,307.85 L311.02,308.74 L312.29,309.57 L313.57,310.35 L314.85,311.06 L316.12,311.7 L317.4,312.26 L318.68,312.74 L319.96,313.12 L321.23,313.4 L322.51,313.57 L323.79,313.63 L325.06,313.56 L326.34,313.36" fill="none" stroke="#3b90cc" stroke-width="1.25" stroke-linejoin="round"/>
<path d="M225.46,312.91 L226.74,312.85 L228.01,312.78 L229.29,312.67 L230.57,312.55 L231.84,312.4 L233.12,312.23 L234.4,312.03 L235.68,311.82 L236.95,311.59 L238.23,311.34 L239.51,311.07 L240.78,310.78 L242.06,310.48 L243.34,310.16 L244.61,309.82 L245.89,309.47 L247.17,309.11 L248.45,308.73 L249.72,308.35 L251,307.95 L252.28,307.54 L253.55,307.12 L254.83,306.7 L256.11,306.26 L257.38,305.82 L258.66,305.37 L259.94,304.92 L261.21,304.46 L262.49,303.99 L263.77,303.53 L265.05,303.06 L266.32,302.59 L267.6,302.12 L268.88,301.64 L270.15,301.17 L271.43,300.7 L272.71,300.23 L273.98,299.77 L275.26,299.31 L276.54,298.85 L277.82,298.4 L279.09,297.95 L280.37,297.51 L281.65,297.08 L282.92,296.66 L284.2,296.24 L285.48,295.83 L286.75,295.44 L288.03,295.05 L289.31,294.68 L290.59,294.32 L291.86,293.97 L293.14,293.64 L294.42,293.32 L295.69,293.01 L296.97,292.73 L298.25,292.46 L299.52,292.2 L300.8,291.97 L302.08,291.75 L303.35,291.55 L304.63,291.37 L305.91,291.22 L307.19,291.08 L308.46,290.97 L309.74,290.88 L311.02,290.82 L312.29,290.78 L313.57,290.76 L314.85,290.78 L316.12,290.81 L317.4,290.88 L318.68,290.97 L319.96,291.1 L321.23,291.25 L322.51,291.43 L323.79,291.65 L325.06,291.89 L326.34,292.17" fill="none" stroke="#ff4fae" stroke-width="1.25" stroke-linejoin="round"/>
<path d="M225.46,322.9 L226.74,323.04 L228.01,323.14 L229.29,323.19 L230.57,323.2 L231.84,323.17 L233.12,323.11 L234.4,323.01 L235.68,322.89 L236.95,322.73 L238.23,322.55 L239.51,322.34 L240.78,322.11 L242.06,321.86 L243.34,321.59 L244.61,321.31 L245.89,321.01 L247.17,320.71 L248.45,320.39 L249.72,320.07 L251,319.75 L252.28,319.42 L253.55,319.09 L254.83,318.77 L256.11,318.45 L257.38,318.14 L258.66,317.84 L259.94,317.55 L261.21,317.28 L262.49,317.02 L263.77,316.78 L265.05,316.57 L266.32,316.37 L267.6,316.21 L268.88,316.07 L270.15,315.96 L271.43,315.88 L272.71,315.84 L273.98,315.83 L275.26,315.87 L276.54,315.94 L277.82,316.06 L279.09,316.23 L280.37,316.44 L281.65,316.71 L282.92,317.03 L284.2,317.4 L285.48,317.83 L286.75,318.32 L288.03,318.86 L289.31,319.45 L290.59,320.09 L291.86,320.78 L293.14,321.52 L294.42,322.29 L295.69,323.12 L296.97,323.98 L298.25,324.88 L299.52,325.82 L300.8,326.79 L302.08,327.8 L303.35,328.84 L304.63,329.91 L305.91,331.01 L307.19,332.13 L308.46,333.28 L309.74,334.46 L311.02,335.65 L312.29,336.86 L313.57,338.09 L314.85,339.34 L316.12,340.56 L317.4,341.68 L318.68,342.6 L319.96,343.26 L321.23,343.56 L322.51,343.41 L323.79,342.75 L325.06,341.74 L326.34,341.02" fill="none" stroke="#ff4fae" stroke-width="1.25" stroke-linejoin="round"/>
<path d="M299.18,233.3 L308.39,243.7 L316.64,247.3 L326.34,249.1" fill="none" stroke="#ff4fae" stroke-width="1.25" stroke-linejoin="round"/>
</g>
<rect x="27.6" y="350.4" width="96.9" height="96.5" fill="none" stroke="#bababa" stroke-width="1.1"/>
<rect x="127.3" y="350.4" width="97.1" height="96.5" fill="none" stroke="#bababa" stroke-width="1.1"/>
<rect x="227.4" y="350.4" width="97" height="96.5" fill="none" stroke="#bababa" stroke-width="1.1"/>
<path d="M26.2,438.3H27.6 M127.3,438.3H128.6 M227.4,438.3H228.7 M26.2,428.3H27.6 M127.3,428.3H128.6 M227.4,428.3H228.7 M26.2,418.3H27.6 M127.3,418.3H128.6 M227.4,418.3H228.7 M26.2,408.3H27.6 M127.3,408.3H128.6 M227.4,408.3H228.7 M26.2,398.3H27.6 M127.3,398.3H128.6 M227.4,398.3H228.7 M26.2,388.3H27.6 M127.3,388.3H128.6 M227.4,388.3H228.7 M26.2,378.3H27.6 M127.3,378.3H128.6 M227.4,378.3H228.7 M26.2,368.3H27.6 M127.3,368.3H128.6 M227.4,368.3H228.7 M26.2,358.3H27.6 M127.3,358.3H128.6 M227.4,358.3H228.7" stroke="#bababa" stroke-width="0.8" fill="none"/>
<line x1="27.3" y1="392.3" x2="124" y2="392.3" stroke="#4fb84a" stroke-width="1.5" stroke-dasharray="4.8 2.7"/>
<line x1="27.3" y1="404.3" x2="124" y2="404.3" stroke="#4fb84a" stroke-width="1.5" stroke-dasharray="4.8 2.7"/>
<clipPath id="c10"><rect x="27.9" y="350.7" width="96.3" height="95.9"/></clipPath>
<g clip-path="url(#c10)">
<path d="M25.66,393.22 L26.94,393.26 L28.21,393.26 L29.49,393.22 L30.76,393.14 L32.04,393.02 L33.32,392.87 L34.59,392.69 L35.87,392.48 L37.14,392.24 L38.42,391.97 L39.69,391.67 L40.97,391.34 L42.25,390.99 L43.52,390.62 L44.8,390.23 L46.07,389.81 L47.35,389.38 L48.62,388.93 L49.9,388.47 L51.17,387.99 L52.45,387.5 L53.73,386.99 L55,386.48 L56.28,385.95 L57.55,385.42 L58.83,384.89 L60.1,384.35 L61.38,383.8 L62.66,383.26 L63.93,382.71 L65.21,382.17 L66.48,381.63 L67.76,381.09 L69.03,380.56 L70.31,380.03 L71.59,379.52 L72.86,379.01 L74.14,378.52 L75.41,378.03 L76.69,377.56 L77.96,377.11 L79.24,376.67 L80.51,376.24 L81.79,375.83 L83.07,375.44 L84.34,375.06 L85.62,374.69 L86.89,374.34 L88.17,374.01 L89.44,373.7 L90.72,373.4 L92,373.12 L93.27,372.86 L94.55,372.62 L95.82,372.4 L97.1,372.19 L98.37,372.01 L99.65,371.84 L100.93,371.69 L102.2,371.57 L103.48,371.46 L104.75,371.38 L106.03,371.31 L107.3,371.27 L108.58,371.25 L109.85,371.26 L111.13,371.28 L112.41,371.33 L113.68,371.4 L114.96,371.5 L116.23,371.61 L117.51,371.76 L118.78,371.92 L120.06,372.12 L121.34,372.33 L122.61,372.58 L123.89,372.85 L125.16,373.14 L126.44,373.46" fill="none" stroke="#3b90cc" stroke-width="1.25" stroke-linejoin="round"/>
<path d="M25.66,404.93 L26.94,405.09 L28.21,405.21 L29.49,405.29 L30.76,405.33 L32.04,405.33 L33.32,405.3 L34.59,405.24 L35.87,405.15 L37.14,405.03 L38.42,404.88 L39.69,404.7 L40.97,404.51 L42.25,404.29 L43.52,404.05 L44.8,403.79 L46.07,403.52 L47.35,403.23 L48.62,402.93 L49.9,402.62 L51.17,402.3 L52.45,401.97 L53.73,401.64 L55,401.3 L56.28,400.96 L57.55,400.62 L58.83,400.28 L60.1,399.95 L61.38,399.62 L62.66,399.31 L63.93,399.01 L65.21,398.72 L66.48,398.46 L67.76,398.22 L69.03,398 L70.31,397.81 L71.59,397.66 L72.86,397.53 L74.14,397.44 L75.41,397.39 L76.69,397.39 L77.96,397.42 L79.24,397.51 L80.51,397.64 L81.79,397.83 L83.07,398.08 L84.34,398.38 L85.62,398.75 L86.89,399.18 L88.17,399.67 L89.44,400.24 L90.72,400.88 L92,401.59 L93.27,402.37 L94.55,403.2 L95.82,404.08 L97.1,405 L98.37,405.96 L99.65,406.94 L100.93,407.95 L102.2,408.96 L103.48,409.98 L104.75,410.99 L106.03,411.99 L107.3,412.97 L108.58,413.93 L109.85,414.85 L111.13,415.74 L112.41,416.57 L113.68,417.35 L114.96,418.06 L116.23,418.7 L117.51,419.26 L118.78,419.74 L120.06,420.12 L121.34,420.4 L122.61,420.57 L123.89,420.63 L125.16,420.56 L126.44,420.36" fill="none" stroke="#3b90cc" stroke-width="1.25" stroke-linejoin="round"/>
<path d="M25.66,419.91 L26.94,419.85 L28.21,419.78 L29.49,419.67 L30.76,419.55 L32.04,419.4 L33.32,419.23 L34.59,419.03 L35.87,418.82 L37.14,418.59 L38.42,418.34 L39.69,418.07 L40.97,417.78 L42.25,417.48 L43.52,417.16 L44.8,416.82 L46.07,416.47 L47.35,416.11 L48.62,415.73 L49.9,415.35 L51.17,414.95 L52.45,414.54 L53.73,414.12 L55,413.7 L56.28,413.26 L57.55,412.82 L58.83,412.37 L60.1,411.92 L61.38,411.46 L62.66,410.99 L63.93,410.53 L65.21,410.06 L66.48,409.59 L67.76,409.12 L69.03,408.64 L70.31,408.17 L71.59,407.7 L72.86,407.23 L74.14,406.77 L75.41,406.31 L76.69,405.85 L77.96,405.4 L79.24,404.95 L80.51,404.51 L81.79,404.08 L83.07,403.66 L84.34,403.24 L85.62,402.83 L86.89,402.44 L88.17,402.05 L89.44,401.68 L90.72,401.32 L92,400.97 L93.27,400.64 L94.55,400.32 L95.82,400.01 L97.1,399.73 L98.37,399.46 L99.65,399.2 L100.93,398.97 L102.2,398.75 L103.48,398.55 L104.75,398.37 L106.03,398.22 L107.3,398.08 L108.58,397.97 L109.85,397.88 L111.13,397.82 L112.41,397.78 L113.68,397.76 L114.96,397.78 L116.23,397.81 L117.51,397.88 L118.78,397.97 L120.06,398.1 L121.34,398.25 L122.61,398.43 L123.89,398.65 L125.16,398.89 L126.44,399.17" fill="none" stroke="#ff4fae" stroke-width="1.25" stroke-linejoin="round"/>
<path d="M25.66,429.9 L26.94,430.04 L28.21,430.14 L29.49,430.19 L30.76,430.2 L32.04,430.17 L33.32,430.11 L34.59,430.01 L35.87,429.89 L37.14,429.73 L38.42,429.55 L39.69,429.34 L40.97,429.11 L42.25,428.86 L43.52,428.59 L44.8,428.31 L46.07,428.01 L47.35,427.71 L48.62,427.39 L49.9,427.07 L51.17,426.75 L52.45,426.42 L53.73,426.09 L55,425.77 L56.28,425.45 L57.55,425.14 L58.83,424.84 L60.1,424.55 L61.38,424.28 L62.66,424.02 L63.93,423.78 L65.21,423.57 L66.48,423.37 L67.76,423.21 L69.03,423.07 L70.31,422.96 L71.59,422.88 L72.86,422.84 L74.14,422.83 L75.41,422.87 L76.69,422.94 L77.96,423.06 L79.24,423.23 L80.51,423.44 L81.79,423.71 L83.07,424.03 L84.34,424.4 L85.62,424.83 L86.89,425.32 L88.17,425.86 L89.44,426.45 L90.72,427.09 L92,427.78 L93.27,428.52 L94.55,429.29 L95.82,430.12 L97.1,430.98 L98.37,431.88 L99.65,432.82 L100.93,433.79 L102.2,434.8 L103.48,435.84 L104.75,436.91 L106.03,438.01 L107.3,439.13 L108.58,440.28 L109.85,441.46 L111.13,442.65 L112.41,443.86 L113.68,445.09 L114.96,446.34 L116.23,447.56 L117.51,448.68 L118.78,449.6 L120.06,450.26 L121.34,450.56 L122.61,450.41 L123.89,449.75 L125.16,448.74 L126.44,448.02" fill="none" stroke="#ff4fae" stroke-width="1.25" stroke-linejoin="round"/>
<path d="M99.31,340.3 L108.51,350.7 L116.75,354.3 L126.44,356.1" fill="none" stroke="#ff4fae" stroke-width="1.25" stroke-linejoin="round"/>
</g>
<line x1="127.8" y1="392.3" x2="223.9" y2="392.3" stroke="#4fb84a" stroke-width="1.5" stroke-dasharray="4.8 2.7"/>
<line x1="127.8" y1="404.3" x2="223.9" y2="404.3" stroke="#4fb84a" stroke-width="1.5" stroke-dasharray="4.8 2.7"/>
<clipPath id="c11"><rect x="126.4" y="350.1" width="97.6" height="97.1"/></clipPath>
<g clip-path="url(#c11)">
<path d="M127.3,350 L127.3,372.5 L128.27,373.5 L128.27,381 L127.3,382 L127.3,398.3 L142.19,399.9 L149.96,401.2 L152.55,402.4 L149.96,403.6 L142.19,406 L130.54,408.2 L127.3,408.7 L127.3,412.3 L132.16,412.6 L135.39,413.8 L136.69,415.3 L134.42,417 L130.54,418.8 L127.3,420.5 L127.3,423.8 L145.75,424.6 L153.2,426.8 L155.46,429 L155.79,431.1 L154.49,434 L151.58,436 L145.75,437.5 L127.3,438.7 L127.3,447" fill="none" stroke="#ff4fae" stroke-width="1.25" stroke-linejoin="round"/>
<path d="M127.3,350 L127.3,372 L137.01,372.2 L146.4,372.4 L148.99,373.5 L150.28,375.5 L146.72,377.2 L137.01,379.6 L127.3,381.9 L127.3,398 L143.48,398.5 L156.43,398.8 L158.7,400 L159.35,402.3 L158.38,405 L156.43,406.9 L143.48,408 L127.3,408.7 L127.3,447" fill="none" stroke="#3b90cc" stroke-width="1.25" stroke-linejoin="round"/>
</g>
<line x1="227.1" y1="392.3" x2="323.9" y2="392.3" stroke="#4fb84a" stroke-width="1.5" stroke-dasharray="4.8 2.7"/>
<line x1="227.1" y1="404.3" x2="323.9" y2="404.3" stroke="#4fb84a" stroke-width="1.5" stroke-dasharray="4.8 2.7"/>
<clipPath id="c12"><rect x="227.7" y="350.7" width="96.4" height="95.9"/></clipPath>
<g clip-path="url(#c12)">
<path d="M225.46,381.22 L226.74,381.26 L228.01,381.26 L229.29,381.22 L230.57,381.14 L231.84,381.02 L233.12,380.87 L234.4,380.69 L235.68,380.48 L236.95,380.24 L238.23,379.97 L239.51,379.67 L240.78,379.34 L242.06,378.99 L243.34,378.62 L244.61,378.23 L245.89,377.81 L247.17,377.38 L248.45,376.93 L249.72,376.47 L251,375.99 L252.28,375.5 L253.55,374.99 L254.83,374.48 L256.11,373.95 L257.38,373.42 L258.66,372.89 L259.94,372.35 L261.21,371.8 L262.49,371.26 L263.77,370.71 L265.05,370.17 L266.32,369.63 L267.6,369.09 L268.88,368.56 L270.15,368.03 L271.43,367.52 L272.71,367.01 L273.98,366.52 L275.26,366.03 L276.54,365.56 L277.82,365.11 L279.09,364.67 L280.37,364.24 L281.65,363.83 L282.92,363.44 L284.2,363.06 L285.48,362.69 L286.75,362.34 L288.03,362.01 L289.31,361.7 L290.59,361.4 L291.86,361.12 L293.14,360.86 L294.42,360.62 L295.69,360.4 L296.97,360.19 L298.25,360.01 L299.52,359.84 L300.8,359.69 L302.08,359.57 L303.35,359.46 L304.63,359.38 L305.91,359.31 L307.19,359.27 L308.46,359.25 L309.74,359.26 L311.02,359.28 L312.29,359.33 L313.57,359.4 L314.85,359.5 L316.12,359.61 L317.4,359.76 L318.68,359.92 L319.96,360.12 L321.23,360.33 L322.51,360.58 L323.79,360.85 L325.06,361.14 L326.34,361.46" fill="none" stroke="#3b90cc" stroke-width="1.25" stroke-linejoin="round"/>
<path d="M225.46,392.93 L226.74,393.09 L228.01,393.21 L229.29,393.29 L230.57,393.33 L231.84,393.33 L233.12,393.3 L234.4,393.24 L235.68,393.15 L236.95,393.03 L238.23,392.88 L239.51,392.7 L240.78,392.51 L242.06,392.29 L243.34,392.05 L244.61,391.79 L245.89,391.52 L247.17,391.23 L248.45,390.93 L249.72,390.62 L251,390.3 L252.28,389.97 L253.55,389.64 L254.83,389.3 L256.11,388.96 L257.38,388.62 L258.66,388.28 L259.94,387.95 L261.21,387.62 L262.49,387.31 L263.77,387.01 L265.05,386.72 L266.32,386.46 L267.6,386.22 L268.88,386 L270.15,385.81 L271.43,385.66 L272.71,385.53 L273.98,385.44 L275.26,385.39 L276.54,385.39 L277.82,385.42 L279.09,385.51 L280.37,385.64 L281.65,385.83 L282.92,386.08 L284.2,386.38 L285.48,386.75 L286.75,387.18 L288.03,387.67 L289.31,388.24 L290.59,388.88 L291.86,389.59 L293.14,390.37 L294.42,391.2 L295.69,392.08 L296.97,393 L298.25,393.96 L299.52,394.94 L300.8,395.95 L302.08,396.96 L303.35,397.98 L304.63,398.99 L305.91,399.99 L307.19,400.97 L308.46,401.93 L309.74,402.85 L311.02,403.74 L312.29,404.57 L313.57,405.35 L314.85,406.06 L316.12,406.7 L317.4,407.26 L318.68,407.74 L319.96,408.12 L321.23,408.4 L322.51,408.57 L323.79,408.63 L325.06,408.56 L326.34,408.36" fill="none" stroke="#3b90cc" stroke-width="1.25" stroke-linejoin="round"/>
<path d="M225.46,407.91 L226.74,407.85 L228.01,407.78 L229.29,407.67 L230.57,407.55 L231.84,407.4 L233.12,407.23 L234.4,407.03 L235.68,406.82 L236.95,406.59 L238.23,406.34 L239.51,406.07 L240.78,405.78 L242.06,405.48 L243.34,405.16 L244.61,404.82 L245.89,404.47 L247.17,404.11 L248.45,403.73 L249.72,403.35 L251,402.95 L252.28,402.54 L253.55,402.12 L254.83,401.7 L256.11,401.26 L257.38,400.82 L258.66,400.37 L259.94,399.92 L261.21,399.46 L262.49,398.99 L263.77,398.53 L265.05,398.06 L266.32,397.59 L267.6,397.12 L268.88,396.64 L270.15,396.17 L271.43,395.7 L272.71,395.23 L273.98,394.77 L275.26,394.31 L276.54,393.85 L277.82,393.4 L279.09,392.95 L280.37,392.51 L281.65,392.08 L282.92,391.66 L284.2,391.24 L285.48,390.83 L286.75,390.44 L288.03,390.05 L289.31,389.68 L290.59,389.32 L291.86,388.97 L293.14,388.64 L294.42,388.32 L295.69,388.01 L296.97,387.73 L298.25,387.46 L299.52,387.2 L300.8,386.97 L302.08,386.75 L303.35,386.55 L304.63,386.37 L305.91,386.22 L307.19,386.08 L308.46,385.97 L309.74,385.88 L311.02,385.82 L312.29,385.78 L313.57,385.76 L314.85,385.78 L316.12,385.81 L317.4,385.88 L318.68,385.97 L319.96,386.1 L321.23,386.25 L322.51,386.43 L323.79,386.65 L325.06,386.89 L326.34,387.17" fill="none" stroke="#ff4fae" stroke-width="1.25" stroke-linejoin="round"/>
<path d="M225.46,417.9 L226.74,418.04 L228.01,418.14 L229.29,418.19 L230.57,418.2 L231.84,418.17 L233.12,418.11 L234.4,418.01 L235.68,417.89 L236.95,417.73 L238.23,417.55 L239.51,417.34 L240.78,417.11 L242.06,416.86 L243.34,416.59 L244.61,416.31 L245.89,416.01 L247.17,415.71 L248.45,415.39 L249.72,415.07 L251,414.75 L252.28,414.42 L253.55,414.09 L254.83,413.77 L256.11,413.45 L257.38,413.14 L258.66,412.84 L259.94,412.55 L261.21,412.28 L262.49,412.02 L263.77,411.78 L265.05,411.57 L266.32,411.37 L267.6,411.21 L268.88,411.07 L270.15,410.96 L271.43,410.88 L272.71,410.84 L273.98,410.83 L275.26,410.87 L276.54,410.94 L277.82,411.06 L279.09,411.23 L280.37,411.44 L281.65,411.71 L282.92,412.03 L284.2,412.4 L285.48,412.83 L286.75,413.32 L288.03,413.86 L289.31,414.45 L290.59,415.09 L291.86,415.78 L293.14,416.52 L294.42,417.29 L295.69,418.12 L296.97,418.98 L298.25,419.88 L299.52,420.82 L300.8,421.79 L302.08,422.8 L303.35,423.84 L304.63,424.91 L305.91,426.01 L307.19,427.13 L308.46,428.28 L309.74,429.46 L311.02,430.65 L312.29,431.86 L313.57,433.09 L314.85,434.34 L316.12,435.56 L317.4,436.68 L318.68,437.6 L319.96,438.26 L321.23,438.56 L322.51,438.41 L323.79,437.75 L325.06,436.74 L326.34,436.02" fill="none" stroke="#ff4fae" stroke-width="1.25" stroke-linejoin="round"/>
<path d="M299.18,328.3 L308.39,338.7 L316.64,342.3 L326.34,344.1" fill="none" stroke="#ff4fae" stroke-width="1.25" stroke-linejoin="round"/>
</g>
<rect x="265.6" y="249" width="58.8" height="20.8" fill="#fff" stroke="#d4d4d4" stroke-width="0.8"/>
<line x1="268.1" y1="255" x2="283.9" y2="255" stroke="#3b90cc" stroke-width="1.3"/>
<text x="286.4" y="257.6" font-family="Liberation Sans" font-size="7.5" font-weight="normal" text-anchor="start">spin down</text>
<line x1="268.1" y1="264.4" x2="283.9" y2="264.4" stroke="#ff4fae" stroke-width="1.3"/>
<text x="286.4" y="267" font-family="Liberation Sans" font-size="7.5" font-weight="normal" text-anchor="start">spin up</text>
<text x="67.3" y="246.5" font-family="Liberation Serif" font-size="8.6" font-weight="bold" text-anchor="start">L</text>
<text x="164.4" y="247" font-family="Liberation Serif" font-size="9.2" font-weight="bold" text-anchor="start" textLength="17.8" lengthAdjust="spacingAndGlyphs">T(E)</text>
<text x="275.3" y="247.1" font-family="Liberation Serif" font-size="8.6" font-weight="bold" text-anchor="start">R</text>
<text x="30.6" y="260.5" font-family="Liberation Sans" font-size="12.8" font-weight="normal" text-anchor="start">(b)</text>
<text x="0" y="0" transform="translate(11.3,343.6) rotate(-90)" font-family="Liberation Serif" font-size="11.8" font-weight="bold" text-anchor="middle" textLength="57.9" lengthAdjust="spacingAndGlyphs">Energy (eV)</text>
<text x="25" y="259.6" font-family="Liberation Sans" font-size="6.6" font-weight="bold" text-anchor="end">1.0</text>
<text x="25" y="279.6" font-family="Liberation Sans" font-size="6.6" font-weight="bold" text-anchor="end">0.5</text>
<text x="25" y="299.6" font-family="Liberation Sans" font-size="6.6" font-weight="bold" text-anchor="end">0.0</text>
<text x="25" y="319.6" font-family="Liberation Sans" font-size="6.6" font-weight="bold" text-anchor="end">-0.5</text>
<text x="25" y="339.6" font-family="Liberation Sans" font-size="6.6" font-weight="bold" text-anchor="end">-1.0</text>
<text x="25" y="360.6" font-family="Liberation Sans" font-size="6.6" font-weight="bold" text-anchor="end">1.0</text>
<text x="25" y="380.6" font-family="Liberation Sans" font-size="6.6" font-weight="bold" text-anchor="end">0.5</text>
<text x="25" y="400.6" font-family="Liberation Sans" font-size="6.6" font-weight="bold" text-anchor="end">0.0</text>
<text x="25" y="420.6" font-family="Liberation Sans" font-size="6.6" font-weight="bold" text-anchor="end">-0.5</text>
<text x="25" y="440.6" font-family="Liberation Sans" font-size="6.6" font-weight="bold" text-anchor="end">-1.0</text>
<text x="30.9" y="461.8" font-family="Liberation Serif" font-size="12.8" font-weight="normal" text-anchor="middle">&#915;</text>
<text x="120.9" y="461.2" font-family="Liberation Serif" font-size="12.8" font-weight="normal" text-anchor="middle">Z</text>
<text x="231.3" y="461.8" font-family="Liberation Serif" font-size="12.8" font-weight="normal" text-anchor="middle">&#915;</text>
<text x="321.6" y="461.5" font-family="Liberation Serif" font-size="12.8" font-weight="normal" text-anchor="middle">Z</text>
<text x="127.1" y="454.5" font-family="Liberation Sans" font-size="6.5" font-weight="bold" text-anchor="middle">0</text>
<text x="160.2" y="454.5" font-family="Liberation Sans" font-size="6.5" font-weight="bold" text-anchor="middle">1</text>
<text x="192" y="454.5" font-family="Liberation Sans" font-size="6.5" font-weight="bold" text-anchor="middle">2</text>
<text x="223.9" y="454.5" font-family="Liberation Sans" font-size="6.5" font-weight="bold" text-anchor="middle">3</text>
<text x="220.5" y="257.5" font-family="Liberation Serif" font-size="7.4" font-weight="bold" text-anchor="end" textLength="14.5" lengthAdjust="spacingAndGlyphs">0.0 V</text>
<text x="218.3" y="360.2" font-family="Liberation Serif" font-size="7.4" font-weight="bold" text-anchor="end" textLength="15" lengthAdjust="spacingAndGlyphs">0.3 V</text>
<text x="221.6" y="442.7" font-family="Liberation Serif" font-size="8.3" font-weight="bold" text-anchor="end" textLength="23.2" lengthAdjust="spacingAndGlyphs">2H-2H</text>
<rect x="27.6" y="486.6" width="96.7" height="97" fill="none" stroke="#bababa" stroke-width="1.1"/>
<rect x="127.3" y="486.6" width="97.1" height="97" fill="none" stroke="#bababa" stroke-width="1.1"/>
<rect x="227.3" y="486.6" width="97.1" height="97" fill="none" stroke="#bababa" stroke-width="1.1"/>
<path d="M26.2,574.9H27.6 M127.3,574.9H128.6 M227.3,574.9H228.6 M26.2,564.9H27.6 M127.3,564.9H128.6 M227.3,564.9H228.6 M26.2,554.9H27.6 M127.3,554.9H128.6 M227.3,554.9H228.6 M26.2,544.9H27.6 M127.3,544.9H128.6 M227.3,544.9H228.6 M26.2,534.9H27.6 M127.3,534.9H128.6 M227.3,534.9H228.6 M26.2,524.9H27.6 M127.3,524.9H128.6 M227.3,524.9H228.6 M26.2,514.9H27.6 M127.3,514.9H128.6 M227.3,514.9H228.6 M26.2,504.9H27.6 M127.3,504.9H128.6 M227.3,504.9H228.6 M26.2,494.9H27.6 M127.3,494.9H128.6 M227.3,494.9H228.6" stroke="#bababa" stroke-width="0.8" fill="none"/>
<line x1="27.3" y1="534.9" x2="123.8" y2="534.9" stroke="#4fb84a" stroke-width="1.5" stroke-dasharray="4.8 2.7"/>
<clipPath id="c13"><rect x="27.9" y="486.9" width="96.1" height="96.4"/></clipPath>
<g clip-path="url(#c13)">
<path d="M25.67,558.53 L26.94,558.6 L28.21,558.63 L29.49,558.62 L30.76,558.58 L32.03,558.51 L33.3,558.41 L34.58,558.27 L35.85,558.1 L37.12,557.91 L38.4,557.69 L39.67,557.44 L40.94,557.17 L42.22,556.87 L43.49,556.55 L44.76,556.2 L46.03,555.84 L47.31,555.45 L48.58,555.04 L49.85,554.62 L51.13,554.18 L52.4,553.73 L53.67,553.26 L54.95,552.77 L56.22,552.27 L57.49,551.77 L58.76,551.25 L60.04,550.72 L61.31,550.18 L62.58,549.64 L63.86,549.09 L65.13,548.53 L66.4,547.97 L67.68,547.41 L68.95,546.84 L70.22,546.28 L71.49,545.71 L72.77,545.15 L74.04,544.59 L75.31,544.03 L76.59,543.48 L77.86,542.93 L79.13,542.39 L80.41,541.85 L81.68,541.33 L82.95,540.81 L84.22,540.3 L85.5,539.79 L86.77,539.3 L88.04,538.82 L89.32,538.36 L90.59,537.9 L91.86,537.46 L93.14,537.03 L94.41,536.62 L95.68,536.22 L96.95,535.84 L98.23,535.47 L99.5,535.13 L100.77,534.8 L102.05,534.49 L103.32,534.2 L104.59,533.94 L105.87,533.69 L107.14,533.46 L108.41,533.26 L109.68,533.08 L110.96,532.93 L112.23,532.8 L113.5,532.7 L114.78,532.62 L116.05,532.58 L117.32,532.56 L118.6,532.56 L119.87,532.6 L121.14,532.67 L122.41,532.77 L123.69,532.9 L124.96,533.06 L126.23,533.26" fill="none" stroke="#3b90cc" stroke-width="1.25" stroke-linejoin="round"/>
<path d="M25.67,528.11 L26.94,528.26 L28.21,528.36 L29.49,528.43 L30.76,528.47 L32.03,528.46 L33.3,528.42 L34.58,528.34 L35.85,528.22 L37.12,528.06 L38.4,527.86 L39.67,527.63 L40.94,527.35 L42.22,527.04 L43.49,526.68 L44.76,526.28 L46.03,525.84 L47.31,525.37 L48.58,524.85 L49.85,524.28 L51.13,523.68 L52.4,523.03 L53.67,522.36 L54.95,521.65 L56.22,520.93 L57.49,520.18 L58.76,519.43 L60.04,518.66 L61.31,517.9 L62.58,517.14 L63.86,516.39 L65.13,515.65 L66.4,514.94 L67.68,514.25 L68.95,513.59 L70.22,512.96 L71.49,512.38 L72.77,511.85 L74.04,511.36 L75.31,510.94 L76.59,510.57 L77.86,510.28 L79.13,510.06 L80.41,509.92 L81.68,509.86 L82.95,509.88 L84.22,509.99 L85.5,510.17 L86.77,510.42 L88.04,510.74 L89.32,511.12 L90.59,511.56 L91.86,512.05 L93.14,512.58 L94.41,513.16 L95.68,513.78 L96.95,514.44 L98.23,515.12 L99.5,515.83 L100.77,516.55 L102.05,517.29 L103.32,518.05 L104.59,518.81 L105.87,519.57 L107.14,520.32 L108.41,521.07 L109.68,521.81 L110.96,522.53 L112.23,523.23 L113.5,523.9 L114.78,524.55 L116.05,525.15 L117.32,525.72 L118.6,526.24 L119.87,526.71 L121.14,527.13 L122.41,527.49 L123.69,527.79 L124.96,528.02 L126.23,528.17" fill="none" stroke="#ff4fae" stroke-width="1.25" stroke-linejoin="round"/>
<path d="M25.67,514.41 L26.94,514.52 L28.21,514.59 L29.49,514.61 L30.76,514.59 L32.03,514.53 L33.3,514.44 L34.58,514.31 L35.85,514.15 L37.12,513.97 L38.4,513.77 L39.67,513.54 L40.94,513.3 L42.22,513.04 L43.49,512.77 L44.76,512.5 L46.03,512.22 L47.31,511.93 L48.58,511.65 L49.85,511.37 L51.13,511.1 L52.4,510.84 L53.67,510.59 L54.95,510.36 L56.22,510.15 L57.49,509.96 L58.76,509.8 L60.04,509.66 L61.31,509.56 L62.58,509.49 L63.86,509.46 L65.13,509.47 L66.4,509.53 L67.68,509.63 L68.95,509.78 L70.22,509.98 L71.49,510.24 L72.77,510.56 L74.04,510.94 L75.31,511.39 L76.59,511.9 L77.86,512.49 L79.13,513.15 L80.41,513.88 L81.68,514.7 L82.95,515.6 L84.22,516.59 L85.5,517.66 L86.77,518.82 L88.04,520.04 L89.32,521.33 L90.59,522.67 L91.86,524.06 L93.14,525.49 L94.41,526.94 L95.68,528.42 L96.95,529.9 L98.23,531.39 L99.5,532.87 L100.77,534.34 L102.05,535.79 L103.32,537.2 L104.59,538.58 L105.87,539.91 L107.14,541.18 L108.41,542.39 L109.68,543.52 L110.96,544.57 L112.23,545.54 L113.5,546.41 L114.78,547.19 L116.05,547.87 L117.32,548.44 L118.6,548.91 L119.87,549.27 L121.14,549.51 L122.41,549.63 L123.69,549.63 L124.96,549.49 L126.23,549.23" fill="none" stroke="#3b90cc" stroke-width="1.25" stroke-linejoin="round"/>
<path d="M25.67,502.94 L26.94,503.25 L28.21,503.49 L29.49,503.66 L30.76,503.76 L32.03,503.79 L33.3,503.77 L34.58,503.7 L35.85,503.58 L37.12,503.41 L38.4,503.2 L39.67,502.96 L40.94,502.68 L42.22,502.38 L43.49,502.05 L44.76,501.71 L46.03,501.35 L47.31,500.98 L48.58,500.61 L49.85,500.23 L51.13,499.86 L52.4,499.5 L53.67,499.15 L54.95,498.81 L56.22,498.5 L57.49,498.21 L58.76,497.95 L60.04,497.73 L61.31,497.54 L62.58,497.38 L63.86,497.26 L65.13,497.17 L66.4,497.11 L67.68,497.09 L68.95,497.09 L70.22,497.12 L71.49,497.18 L72.77,497.27 L74.04,497.38 L75.31,497.52 L76.59,497.69 L77.86,497.87 L79.13,498.08 L80.41,498.31 L81.68,498.57 L82.95,498.84 L84.22,499.13 L85.5,499.44 L86.77,499.76 L88.04,500.08 L89.32,500.39 L90.59,500.69 L91.86,500.97 L93.14,501.21 L94.41,501.42 L95.68,501.59 L96.95,501.7 L98.23,501.75 L99.5,501.73 L100.77,501.63 L102.05,501.45 L103.32,501.2 L104.59,500.86 L105.87,500.46 L107.14,499.99 L108.41,499.46 L109.68,498.86 L110.96,498.22 L112.23,497.53 L113.5,496.82 L114.78,496.1 L116.05,495.38 L117.32,494.68 L118.6,494.02 L119.87,493.4 L121.14,492.85 L122.41,492.38 L123.69,492 L124.96,491.72 L126.23,491.58" fill="none" stroke="#ff4fae" stroke-width="1.25" stroke-linejoin="round"/>
<path d="M83.69,477.18 L84.22,477.67 L84.76,478.21 L85.3,478.79 L85.84,479.4 L86.38,480.05 L86.92,480.73 L87.46,481.43 L87.99,482.17 L88.53,482.93 L89.07,483.7 L89.61,484.5 L90.15,485.32 L90.69,486.14 L91.23,486.98 L91.76,487.83 L92.3,488.68 L92.84,489.54 L93.38,490.4 L93.92,491.25 L94.46,492.1 L95,492.95 L95.53,493.79 L96.07,494.61 L96.61,495.42 L97.15,496.22 L97.69,496.99 L98.23,497.75 L98.77,498.48 L99.3,499.18 L99.84,499.85 L100.38,500.5 L100.92,501.1 L101.46,501.67 L102,502.21 L102.54,502.7 L103.07,503.14 L103.61,503.55 L104.15,503.93 L104.69,504.27 L105.23,504.59 L105.77,504.87 L106.31,505.14 L106.85,505.38 L107.38,505.61 L107.92,505.82 L108.46,506.02 L109,506.22 L109.54,506.41 L110.08,506.59 L110.62,506.78 L111.15,506.98 L111.69,507.18 L112.23,507.39 L112.77,507.61 L113.31,507.85 L113.85,508.11 L114.39,508.38 L114.92,508.67 L115.46,508.97 L116,509.27 L116.54,509.58 L117.08,509.9 L117.62,510.21 L118.16,510.52 L118.69,510.83 L119.23,511.13 L119.77,511.42 L120.31,511.69 L120.85,511.96 L121.39,512.2 L121.93,512.43 L122.46,512.63 L123,512.8 L123.54,512.95 L124.08,513.07 L124.62,513.16 L125.16,513.21 L125.7,513.22 L126.23,513.19" fill="none" stroke="#3b90cc" stroke-width="1.25" stroke-linejoin="round"/>
<path d="M90.45,475.07 L90.91,475.95 L91.36,476.82 L91.81,477.68 L92.27,478.54 L92.72,479.38 L93.17,480.22 L93.63,481.05 L94.08,481.87 L94.53,482.67 L94.98,483.47 L95.44,484.25 L95.89,485.02 L96.34,485.78 L96.8,486.52 L97.25,487.25 L97.7,487.97 L98.15,488.67 L98.61,489.36 L99.06,490.03 L99.51,490.69 L99.97,491.32 L100.42,491.95 L100.87,492.55 L101.32,493.14 L101.78,493.7 L102.23,494.25 L102.68,494.78 L103.14,495.29 L103.59,495.78 L104.04,496.24 L104.49,496.69 L104.95,497.11 L105.4,497.52 L105.85,497.91 L106.31,498.27 L106.76,498.63 L107.21,498.96 L107.67,499.28 L108.12,499.59 L108.57,499.88 L109.02,500.16 L109.48,500.43 L109.93,500.69 L110.38,500.94 L110.84,501.19 L111.29,501.42 L111.74,501.65 L112.19,501.87 L112.65,502.09 L113.1,502.3 L113.55,502.51 L114.01,502.72 L114.46,502.93 L114.91,503.14 L115.36,503.35 L115.82,503.56 L116.27,503.77 L116.72,503.98 L117.18,504.2 L117.63,504.41 L118.08,504.62 L118.53,504.84 L118.99,505.05 L119.44,505.26 L119.89,505.47 L120.35,505.68 L120.8,505.89 L121.25,506.09 L121.71,506.3 L122.16,506.5 L122.61,506.7 L123.06,506.9 L123.52,507.1 L123.97,507.29 L124.42,507.48 L124.88,507.67 L125.33,507.85 L125.78,508.03 L126.23,508.21" fill="none" stroke="#ff4fae" stroke-width="1.25" stroke-linejoin="round"/>
<path d="M98.19,474.86 L98.55,476.08 L98.9,477.19 L99.26,478.19 L99.61,479.11 L99.97,479.95 L100.32,480.72 L100.68,481.43 L101.03,482.09 L101.39,482.71 L101.74,483.3 L102.1,483.88 L102.45,484.44 L102.81,485.01 L103.16,485.58 L103.52,486.18 L103.87,486.81 L104.23,487.47 L104.58,488.15 L104.94,488.86 L105.29,489.58 L105.65,490.32 L106,491.07 L106.36,491.82 L106.71,492.57 L107.07,493.31 L107.42,494.05 L107.78,494.77 L108.13,495.47 L108.49,496.16 L108.84,496.81 L109.2,497.44 L109.55,498.02 L109.91,498.57 L110.26,499.09 L110.62,499.56 L110.97,500 L111.33,500.4 L111.68,500.77 L112.04,501.1 L112.39,501.4 L112.74,501.67 L113.1,501.91 L113.45,502.12 L113.81,502.31 L114.16,502.46 L114.52,502.59 L114.87,502.69 L115.23,502.77 L115.58,502.83 L115.94,502.86 L116.29,502.87 L116.65,502.86 L117,502.84 L117.36,502.79 L117.71,502.73 L118.07,502.65 L118.42,502.55 L118.78,502.44 L119.13,502.32 L119.49,502.19 L119.84,502.04 L120.2,501.88 L120.55,501.72 L120.91,501.54 L121.26,501.36 L121.62,501.17 L121.97,500.98 L122.33,500.78 L122.68,500.58 L123.04,500.38 L123.39,500.18 L123.75,499.97 L124.1,499.77 L124.46,499.57 L124.81,499.37 L125.17,499.17 L125.52,498.98 L125.88,498.8 L126.23,498.62" fill="none" stroke="#3b90cc" stroke-width="1.25" stroke-linejoin="round"/>
<path d="M103.03,474.52 L103.32,475.05 L103.61,475.79 L103.91,476.67 L104.2,477.65 L104.49,478.69 L104.79,479.73 L105.08,480.73 L105.38,481.66 L105.67,482.51 L105.96,483.29 L106.26,484.03 L106.55,484.71 L106.85,485.36 L107.14,485.98 L107.43,486.59 L107.73,487.17 L108.02,487.75 L108.31,488.31 L108.61,488.86 L108.9,489.39 L109.2,489.91 L109.49,490.42 L109.78,490.91 L110.08,491.39 L110.37,491.85 L110.66,492.3 L110.96,492.74 L111.25,493.16 L111.55,493.57 L111.84,493.96 L112.13,494.34 L112.43,494.71 L112.72,495.06 L113.01,495.4 L113.31,495.73 L113.6,496.04 L113.9,496.34 L114.19,496.62 L114.48,496.89 L114.78,497.15 L115.07,497.4 L115.36,497.63 L115.66,497.85 L115.95,498.06 L116.25,498.26 L116.54,498.45 L116.83,498.62 L117.13,498.79 L117.42,498.94 L117.71,499.08 L118.01,499.22 L118.3,499.34 L118.6,499.45 L118.89,499.55 L119.18,499.64 L119.48,499.73 L119.77,499.8 L120.06,499.86 L120.36,499.92 L120.65,499.97 L120.95,500.01 L121.24,500.04 L121.53,500.06 L121.83,500.08 L122.12,500.09 L122.41,500.09 L122.71,500.08 L123,500.07 L123.3,500.05 L123.59,500.03 L123.88,500 L124.18,499.96 L124.47,499.92 L124.77,499.87 L125.06,499.82 L125.35,499.76 L125.65,499.7 L125.94,499.63 L126.23,499.56" fill="none" stroke="#ff4fae" stroke-width="1.25" stroke-linejoin="round"/>
<path d="M111.73,475.26 L111.91,475.85 L112.1,476.43 L112.28,477 L112.46,477.55 L112.65,478.09 L112.83,478.61 L113.01,479.12 L113.2,479.62 L113.38,480.1 L113.57,480.57 L113.75,481.03 L113.93,481.47 L114.12,481.91 L114.3,482.33 L114.48,482.73 L114.67,483.13 L114.85,483.52 L115.03,483.89 L115.22,484.25 L115.4,484.6 L115.58,484.94 L115.77,485.27 L115.95,485.59 L116.14,485.9 L116.32,486.2 L116.5,486.49 L116.69,486.77 L116.87,487.04 L117.05,487.3 L117.24,487.55 L117.42,487.8 L117.6,488.03 L117.79,488.26 L117.97,488.47 L118.16,488.68 L118.34,488.89 L118.52,489.08 L118.71,489.27 L118.89,489.45 L119.07,489.62 L119.26,489.78 L119.44,489.94 L119.62,490.09 L119.81,490.24 L119.99,490.38 L120.17,490.51 L120.36,490.64 L120.54,490.77 L120.73,490.88 L120.91,491 L121.09,491.1 L121.28,491.21 L121.46,491.3 L121.64,491.4 L121.83,491.49 L122.01,491.57 L122.19,491.66 L122.38,491.74 L122.56,491.81 L122.75,491.88 L122.93,491.95 L123.11,492.02 L123.3,492.08 L123.48,492.15 L123.66,492.21 L123.85,492.26 L124.03,492.32 L124.21,492.37 L124.4,492.43 L124.58,492.48 L124.77,492.53 L124.95,492.58 L125.13,492.63 L125.32,492.68 L125.5,492.73 L125.68,492.78 L125.87,492.83 L126.05,492.88 L126.23,492.93" fill="none" stroke="#3b90cc" stroke-width="1.25" stroke-linejoin="round"/>
<path d="M117.53,474.9 L119.08,480.4 L126.23,485.7" fill="none" stroke="#ff4fae" stroke-width="1.25" stroke-linejoin="round"/>
</g>
<line x1="127.8" y1="534.9" x2="223.9" y2="534.9" stroke="#4fb84a" stroke-width="1.5" stroke-dasharray="4.8 2.7"/>
<clipPath id="c14"><rect x="126.4" y="486.3" width="97.6" height="97.6"/></clipPath>
<g clip-path="url(#c14)">
<path d="M200.14,486.4 L177.07,486.8 L175.86,487.5 L175.86,491.1 L200.14,491.5 L200.14,496.2 L226.85,496.4 L226.85,496.8 L151.58,497 L175.86,497.4 L175.86,504.3 L151.58,504.8 L151.58,508 L127.3,509.5 L175.86,510.4 L175.86,526.3 L127.3,528 L127.3,584" fill="none" stroke="#ff4fae" stroke-width="1.25" stroke-linejoin="round"/>
<path d="M200.14,486 L200.14,493 L175.86,493.4 L175.86,498.4 L200.14,498.8 L200.14,502.2 L175.86,502.5 L151.58,503.2 L151.58,508.7 L175.86,509.1 L197.71,509.6 L200.14,511.5 L197.71,513.5 L175.86,514 L151.58,515.1 L151.58,531 L175.86,531.8 L175.86,534.6 L127.3,534.9 L175.86,535.2 L175.86,549 L151.58,549.8 L151.58,558 L127.3,558.6 L127.3,584" fill="none" stroke="#3b90cc" stroke-width="1.25" stroke-linejoin="round"/>
</g>
<line x1="227" y1="534.9" x2="323.9" y2="534.9" stroke="#4fb84a" stroke-width="1.5" stroke-dasharray="4.8 2.7"/>
<clipPath id="c15"><rect x="227.6" y="486.9" width="96.5" height="96.4"/></clipPath>
<g clip-path="url(#c15)">
<path d="M225.36,558.53 L226.64,558.6 L227.91,558.63 L229.19,558.62 L230.47,558.58 L231.75,558.51 L233.03,558.41 L234.31,558.27 L235.58,558.1 L236.86,557.91 L238.14,557.69 L239.42,557.44 L240.7,557.17 L241.98,556.87 L243.25,556.55 L244.53,556.2 L245.81,555.84 L247.09,555.45 L248.37,555.04 L249.65,554.62 L250.92,554.18 L252.2,553.73 L253.48,553.26 L254.76,552.77 L256.04,552.27 L257.31,551.77 L258.59,551.25 L259.87,550.72 L261.15,550.18 L262.43,549.64 L263.71,549.09 L264.98,548.53 L266.26,547.97 L267.54,547.41 L268.82,546.84 L270.1,546.28 L271.38,545.71 L272.65,545.15 L273.93,544.59 L275.21,544.03 L276.49,543.48 L277.77,542.93 L279.05,542.39 L280.32,541.85 L281.6,541.33 L282.88,540.81 L284.16,540.3 L285.44,539.79 L286.72,539.3 L287.99,538.82 L289.27,538.36 L290.55,537.9 L291.83,537.46 L293.11,537.03 L294.39,536.62 L295.66,536.22 L296.94,535.84 L298.22,535.47 L299.5,535.13 L300.78,534.8 L302.05,534.49 L303.33,534.2 L304.61,533.94 L305.89,533.69 L307.17,533.46 L308.45,533.26 L309.72,533.08 L311,532.93 L312.28,532.8 L313.56,532.7 L314.84,532.62 L316.12,532.58 L317.39,532.56 L318.67,532.56 L319.95,532.6 L321.23,532.67 L322.51,532.77 L323.79,532.9 L325.06,533.06 L326.34,533.26" fill="none" stroke="#3b90cc" stroke-width="1.25" stroke-linejoin="round"/>
<path d="M225.36,528.11 L226.64,528.26 L227.91,528.36 L229.19,528.43 L230.47,528.47 L231.75,528.46 L233.03,528.42 L234.31,528.34 L235.58,528.22 L236.86,528.06 L238.14,527.86 L239.42,527.63 L240.7,527.35 L241.98,527.04 L243.25,526.68 L244.53,526.28 L245.81,525.84 L247.09,525.37 L248.37,524.85 L249.65,524.28 L250.92,523.68 L252.2,523.03 L253.48,522.36 L254.76,521.65 L256.04,520.93 L257.31,520.18 L258.59,519.43 L259.87,518.66 L261.15,517.9 L262.43,517.14 L263.71,516.39 L264.98,515.65 L266.26,514.94 L267.54,514.25 L268.82,513.59 L270.1,512.96 L271.38,512.38 L272.65,511.85 L273.93,511.36 L275.21,510.94 L276.49,510.57 L277.77,510.28 L279.05,510.06 L280.32,509.92 L281.6,509.86 L282.88,509.88 L284.16,509.99 L285.44,510.17 L286.72,510.42 L287.99,510.74 L289.27,511.12 L290.55,511.56 L291.83,512.05 L293.11,512.58 L294.39,513.16 L295.66,513.78 L296.94,514.44 L298.22,515.12 L299.5,515.83 L300.78,516.55 L302.05,517.29 L303.33,518.05 L304.61,518.81 L305.89,519.57 L307.17,520.32 L308.45,521.07 L309.72,521.81 L311,522.53 L312.28,523.23 L313.56,523.9 L314.84,524.55 L316.12,525.15 L317.39,525.72 L318.67,526.24 L319.95,526.71 L321.23,527.13 L322.51,527.49 L323.79,527.79 L325.06,528.02 L326.34,528.17" fill="none" stroke="#ff4fae" stroke-width="1.25" stroke-linejoin="round"/>
<path d="M225.36,514.41 L226.64,514.52 L227.91,514.59 L229.19,514.61 L230.47,514.59 L231.75,514.53 L233.03,514.44 L234.31,514.31 L235.58,514.15 L236.86,513.97 L238.14,513.77 L239.42,513.54 L240.7,513.3 L241.98,513.04 L243.25,512.77 L244.53,512.5 L245.81,512.22 L247.09,511.93 L248.37,511.65 L249.65,511.37 L250.92,511.1 L252.2,510.84 L253.48,510.59 L254.76,510.36 L256.04,510.15 L257.31,509.96 L258.59,509.8 L259.87,509.66 L261.15,509.56 L262.43,509.49 L263.71,509.46 L264.98,509.47 L266.26,509.53 L267.54,509.63 L268.82,509.78 L270.1,509.98 L271.38,510.24 L272.65,510.56 L273.93,510.94 L275.21,511.39 L276.49,511.9 L277.77,512.49 L279.05,513.15 L280.32,513.88 L281.6,514.7 L282.88,515.6 L284.16,516.59 L285.44,517.66 L286.72,518.82 L287.99,520.04 L289.27,521.33 L290.55,522.67 L291.83,524.06 L293.11,525.49 L294.39,526.94 L295.66,528.42 L296.94,529.9 L298.22,531.39 L299.5,532.87 L300.78,534.34 L302.05,535.79 L303.33,537.2 L304.61,538.58 L305.89,539.91 L307.17,541.18 L308.45,542.39 L309.72,543.52 L311,544.57 L312.28,545.54 L313.56,546.41 L314.84,547.19 L316.12,547.87 L317.39,548.44 L318.67,548.91 L319.95,549.27 L321.23,549.51 L322.51,549.63 L323.79,549.63 L325.06,549.49 L326.34,549.23" fill="none" stroke="#3b90cc" stroke-width="1.25" stroke-linejoin="round"/>
<path d="M225.36,502.94 L226.64,503.25 L227.91,503.49 L229.19,503.66 L230.47,503.76 L231.75,503.79 L233.03,503.77 L234.31,503.7 L235.58,503.58 L236.86,503.41 L238.14,503.2 L239.42,502.96 L240.7,502.68 L241.98,502.38 L243.25,502.05 L244.53,501.71 L245.81,501.35 L247.09,500.98 L248.37,500.61 L249.65,500.23 L250.92,499.86 L252.2,499.5 L253.48,499.15 L254.76,498.81 L256.04,498.5 L257.31,498.21 L258.59,497.95 L259.87,497.73 L261.15,497.54 L262.43,497.38 L263.71,497.26 L264.98,497.17 L266.26,497.11 L267.54,497.09 L268.82,497.09 L270.1,497.12 L271.38,497.18 L272.65,497.27 L273.93,497.38 L275.21,497.52 L276.49,497.69 L277.77,497.87 L279.05,498.08 L280.32,498.31 L281.6,498.57 L282.88,498.84 L284.16,499.13 L285.44,499.44 L286.72,499.76 L287.99,500.08 L289.27,500.39 L290.55,500.69 L291.83,500.97 L293.11,501.21 L294.39,501.42 L295.66,501.59 L296.94,501.7 L298.22,501.75 L299.5,501.73 L300.78,501.63 L302.05,501.45 L303.33,501.2 L304.61,500.86 L305.89,500.46 L307.17,499.99 L308.45,499.46 L309.72,498.86 L311,498.22 L312.28,497.53 L313.56,496.82 L314.84,496.1 L316.12,495.38 L317.39,494.68 L318.67,494.02 L319.95,493.4 L321.23,492.85 L322.51,492.38 L323.79,492 L325.06,491.72 L326.34,491.58" fill="none" stroke="#ff4fae" stroke-width="1.25" stroke-linejoin="round"/>
<path d="M283.62,477.18 L284.16,477.67 L284.7,478.21 L285.24,478.79 L285.78,479.4 L286.32,480.05 L286.86,480.73 L287.4,481.43 L287.94,482.17 L288.49,482.93 L289.03,483.7 L289.57,484.5 L290.11,485.32 L290.65,486.14 L291.19,486.98 L291.73,487.83 L292.27,488.68 L292.81,489.54 L293.35,490.4 L293.89,491.25 L294.43,492.1 L294.98,492.95 L295.52,493.79 L296.06,494.61 L296.6,495.42 L297.14,496.22 L297.68,496.99 L298.22,497.75 L298.76,498.48 L299.3,499.18 L299.84,499.85 L300.38,500.5 L300.92,501.1 L301.46,501.67 L302.01,502.21 L302.55,502.7 L303.09,503.14 L303.63,503.55 L304.17,503.93 L304.71,504.27 L305.25,504.59 L305.79,504.87 L306.33,505.14 L306.87,505.38 L307.41,505.61 L307.95,505.82 L308.5,506.02 L309.04,506.22 L309.58,506.41 L310.12,506.59 L310.66,506.78 L311.2,506.98 L311.74,507.18 L312.28,507.39 L312.82,507.61 L313.36,507.85 L313.9,508.11 L314.44,508.38 L314.98,508.67 L315.53,508.97 L316.07,509.27 L316.61,509.58 L317.15,509.9 L317.69,510.21 L318.23,510.52 L318.77,510.83 L319.31,511.13 L319.85,511.42 L320.39,511.69 L320.93,511.96 L321.47,512.2 L322.02,512.43 L322.56,512.63 L323.1,512.8 L323.64,512.95 L324.18,513.07 L324.72,513.16 L325.26,513.21 L325.8,513.22 L326.34,513.19" fill="none" stroke="#3b90cc" stroke-width="1.25" stroke-linejoin="round"/>
<path d="M290.41,475.07 L290.87,475.95 L291.32,476.82 L291.78,477.68 L292.23,478.54 L292.69,479.38 L293.14,480.22 L293.6,481.05 L294.05,481.87 L294.51,482.67 L294.96,483.47 L295.42,484.25 L295.87,485.02 L296.33,485.78 L296.78,486.52 L297.24,487.25 L297.69,487.97 L298.15,488.67 L298.6,489.36 L299.06,490.03 L299.51,490.69 L299.97,491.32 L300.42,491.95 L300.87,492.55 L301.33,493.14 L301.78,493.7 L302.24,494.25 L302.69,494.78 L303.15,495.29 L303.6,495.78 L304.06,496.24 L304.51,496.69 L304.97,497.11 L305.42,497.52 L305.88,497.91 L306.33,498.27 L306.79,498.63 L307.24,498.96 L307.7,499.28 L308.15,499.59 L308.61,499.88 L309.06,500.16 L309.52,500.43 L309.97,500.69 L310.42,500.94 L310.88,501.19 L311.33,501.42 L311.79,501.65 L312.24,501.87 L312.7,502.09 L313.15,502.3 L313.61,502.51 L314.06,502.72 L314.52,502.93 L314.97,503.14 L315.43,503.35 L315.88,503.56 L316.34,503.77 L316.79,503.98 L317.25,504.2 L317.7,504.41 L318.16,504.62 L318.61,504.84 L319.07,505.05 L319.52,505.26 L319.98,505.47 L320.43,505.68 L320.88,505.89 L321.34,506.09 L321.79,506.3 L322.25,506.5 L322.7,506.7 L323.16,506.9 L323.61,507.1 L324.07,507.29 L324.52,507.48 L324.98,507.67 L325.43,507.85 L325.89,508.03 L326.34,508.21" fill="none" stroke="#ff4fae" stroke-width="1.25" stroke-linejoin="round"/>
<path d="M298.18,474.86 L298.54,476.08 L298.9,477.19 L299.25,478.19 L299.61,479.11 L299.97,479.95 L300.32,480.72 L300.68,481.43 L301.03,482.09 L301.39,482.71 L301.75,483.3 L302.1,483.88 L302.46,484.44 L302.82,485.01 L303.17,485.58 L303.53,486.18 L303.89,486.81 L304.24,487.47 L304.6,488.15 L304.96,488.86 L305.31,489.58 L305.67,490.32 L306.02,491.07 L306.38,491.82 L306.74,492.57 L307.09,493.31 L307.45,494.05 L307.81,494.77 L308.16,495.47 L308.52,496.16 L308.88,496.81 L309.23,497.44 L309.59,498.02 L309.95,498.57 L310.3,499.09 L310.66,499.56 L311.01,500 L311.37,500.4 L311.73,500.77 L312.08,501.1 L312.44,501.4 L312.8,501.67 L313.15,501.91 L313.51,502.12 L313.87,502.31 L314.22,502.46 L314.58,502.59 L314.94,502.69 L315.29,502.77 L315.65,502.83 L316.01,502.86 L316.36,502.87 L316.72,502.86 L317.07,502.84 L317.43,502.79 L317.79,502.73 L318.14,502.65 L318.5,502.55 L318.86,502.44 L319.21,502.32 L319.57,502.19 L319.93,502.04 L320.28,501.88 L320.64,501.72 L321,501.54 L321.35,501.36 L321.71,501.17 L322.06,500.98 L322.42,500.78 L322.78,500.58 L323.13,500.38 L323.49,500.18 L323.85,499.97 L324.2,499.77 L324.56,499.57 L324.92,499.37 L325.27,499.17 L325.63,498.98 L325.99,498.8 L326.34,498.62" fill="none" stroke="#3b90cc" stroke-width="1.25" stroke-linejoin="round"/>
<path d="M303.04,474.52 L303.33,475.05 L303.63,475.79 L303.92,476.67 L304.22,477.65 L304.51,478.69 L304.81,479.73 L305.1,480.73 L305.4,481.66 L305.69,482.51 L305.99,483.29 L306.28,484.03 L306.58,484.71 L306.87,485.36 L307.17,485.98 L307.46,486.59 L307.76,487.17 L308.05,487.75 L308.35,488.31 L308.64,488.86 L308.94,489.39 L309.23,489.91 L309.53,490.42 L309.82,490.91 L310.12,491.39 L310.41,491.85 L310.71,492.3 L311,492.74 L311.3,493.16 L311.59,493.57 L311.89,493.96 L312.18,494.34 L312.48,494.71 L312.77,495.06 L313.07,495.4 L313.36,495.73 L313.66,496.04 L313.95,496.34 L314.25,496.62 L314.54,496.89 L314.84,497.15 L315.13,497.4 L315.43,497.63 L315.72,497.85 L316.02,498.06 L316.31,498.26 L316.61,498.45 L316.9,498.62 L317.2,498.79 L317.49,498.94 L317.79,499.08 L318.08,499.22 L318.38,499.34 L318.67,499.45 L318.97,499.55 L319.26,499.64 L319.56,499.73 L319.85,499.8 L320.15,499.86 L320.44,499.92 L320.74,499.97 L321.03,500.01 L321.33,500.04 L321.62,500.06 L321.92,500.08 L322.21,500.09 L322.51,500.09 L322.8,500.08 L323.1,500.07 L323.39,500.05 L323.69,500.03 L323.98,500 L324.28,499.96 L324.57,499.92 L324.87,499.87 L325.16,499.82 L325.46,499.76 L325.75,499.7 L326.05,499.63 L326.34,499.56" fill="none" stroke="#ff4fae" stroke-width="1.25" stroke-linejoin="round"/>
<path d="M311.78,475.26 L311.96,475.85 L312.15,476.43 L312.33,477 L312.51,477.55 L312.7,478.09 L312.88,478.61 L313.07,479.12 L313.25,479.62 L313.44,480.1 L313.62,480.57 L313.81,481.03 L313.99,481.47 L314.17,481.91 L314.36,482.33 L314.54,482.73 L314.73,483.13 L314.91,483.52 L315.1,483.89 L315.28,484.25 L315.46,484.6 L315.65,484.94 L315.83,485.27 L316.02,485.59 L316.2,485.9 L316.39,486.2 L316.57,486.49 L316.75,486.77 L316.94,487.04 L317.12,487.3 L317.31,487.55 L317.49,487.8 L317.68,488.03 L317.86,488.26 L318.05,488.47 L318.23,488.68 L318.41,488.89 L318.6,489.08 L318.78,489.27 L318.97,489.45 L319.15,489.62 L319.34,489.78 L319.52,489.94 L319.7,490.09 L319.89,490.24 L320.07,490.38 L320.26,490.51 L320.44,490.64 L320.63,490.77 L320.81,490.88 L321,491 L321.18,491.1 L321.36,491.21 L321.55,491.3 L321.73,491.4 L321.92,491.49 L322.1,491.57 L322.29,491.66 L322.47,491.74 L322.65,491.81 L322.84,491.88 L323.02,491.95 L323.21,492.02 L323.39,492.08 L323.58,492.15 L323.76,492.21 L323.95,492.26 L324.13,492.32 L324.31,492.37 L324.5,492.43 L324.68,492.48 L324.87,492.53 L325.05,492.58 L325.24,492.63 L325.42,492.68 L325.6,492.73 L325.79,492.78 L325.97,492.83 L326.16,492.88 L326.34,492.93" fill="none" stroke="#3b90cc" stroke-width="1.25" stroke-linejoin="round"/>
<path d="M317.6,474.9 L319.16,480.4 L326.34,485.7" fill="none" stroke="#ff4fae" stroke-width="1.25" stroke-linejoin="round"/>
</g>
<rect x="27.6" y="588.4" width="96.7" height="96.6" fill="none" stroke="#bababa" stroke-width="1.1"/>
<rect x="127.3" y="588.4" width="97.1" height="96.6" fill="none" stroke="#bababa" stroke-width="1.1"/>
<rect x="227.3" y="588.4" width="97.1" height="96.6" fill="none" stroke="#bababa" stroke-width="1.1"/>
<path d="M26.2,676.6H27.6 M127.3,676.6H128.6 M227.3,676.6H228.6 M26.2,666.6H27.6 M127.3,666.6H128.6 M227.3,666.6H228.6 M26.2,656.6H27.6 M127.3,656.6H128.6 M227.3,656.6H228.6 M26.2,646.6H27.6 M127.3,646.6H128.6 M227.3,646.6H228.6 M26.2,636.6H27.6 M127.3,636.6H128.6 M227.3,636.6H228.6 M26.2,626.6H27.6 M127.3,626.6H128.6 M227.3,626.6H228.6 M26.2,616.6H27.6 M127.3,616.6H128.6 M227.3,616.6H228.6 M26.2,606.6H27.6 M127.3,606.6H128.6 M227.3,606.6H228.6 M26.2,596.6H27.6 M127.3,596.6H128.6 M227.3,596.6H228.6" stroke="#bababa" stroke-width="0.8" fill="none"/>
<line x1="27.3" y1="630.6" x2="123.8" y2="630.6" stroke="#4fb84a" stroke-width="1.5" stroke-dasharray="4.8 2.7"/>
<line x1="27.3" y1="642.6" x2="123.8" y2="642.6" stroke="#4fb84a" stroke-width="1.5" stroke-dasharray="4.8 2.7"/>
<clipPath id="c16"><rect x="27.9" y="588.7" width="96.1" height="96"/></clipPath>
<g clip-path="url(#c16)">
<path d="M25.67,666.23 L26.94,666.3 L28.21,666.33 L29.49,666.32 L30.76,666.28 L32.03,666.21 L33.3,666.11 L34.58,665.97 L35.85,665.8 L37.12,665.61 L38.4,665.39 L39.67,665.14 L40.94,664.87 L42.22,664.57 L43.49,664.25 L44.76,663.9 L46.03,663.54 L47.31,663.15 L48.58,662.74 L49.85,662.32 L51.13,661.88 L52.4,661.43 L53.67,660.96 L54.95,660.47 L56.22,659.97 L57.49,659.47 L58.76,658.95 L60.04,658.42 L61.31,657.88 L62.58,657.34 L63.86,656.79 L65.13,656.23 L66.4,655.67 L67.68,655.11 L68.95,654.54 L70.22,653.98 L71.49,653.41 L72.77,652.85 L74.04,652.29 L75.31,651.73 L76.59,651.18 L77.86,650.63 L79.13,650.09 L80.41,649.55 L81.68,649.03 L82.95,648.51 L84.22,648 L85.5,647.49 L86.77,647 L88.04,646.52 L89.32,646.06 L90.59,645.6 L91.86,645.16 L93.14,644.73 L94.41,644.32 L95.68,643.92 L96.95,643.54 L98.23,643.17 L99.5,642.83 L100.77,642.5 L102.05,642.19 L103.32,641.9 L104.59,641.64 L105.87,641.39 L107.14,641.16 L108.41,640.96 L109.68,640.78 L110.96,640.63 L112.23,640.5 L113.5,640.4 L114.78,640.32 L116.05,640.28 L117.32,640.26 L118.6,640.26 L119.87,640.3 L121.14,640.37 L122.41,640.47 L123.69,640.6 L124.96,640.76 L126.23,640.96" fill="none" stroke="#3b90cc" stroke-width="1.25" stroke-linejoin="round"/>
<path d="M25.67,635.81 L26.94,635.96 L28.21,636.06 L29.49,636.13 L30.76,636.17 L32.03,636.16 L33.3,636.12 L34.58,636.04 L35.85,635.92 L37.12,635.76 L38.4,635.56 L39.67,635.33 L40.94,635.05 L42.22,634.74 L43.49,634.38 L44.76,633.98 L46.03,633.54 L47.31,633.07 L48.58,632.55 L49.85,631.98 L51.13,631.38 L52.4,630.73 L53.67,630.06 L54.95,629.35 L56.22,628.63 L57.49,627.88 L58.76,627.13 L60.04,626.36 L61.31,625.6 L62.58,624.84 L63.86,624.09 L65.13,623.35 L66.4,622.64 L67.68,621.95 L68.95,621.29 L70.22,620.66 L71.49,620.08 L72.77,619.55 L74.04,619.06 L75.31,618.64 L76.59,618.27 L77.86,617.98 L79.13,617.76 L80.41,617.62 L81.68,617.56 L82.95,617.58 L84.22,617.69 L85.5,617.87 L86.77,618.12 L88.04,618.44 L89.32,618.82 L90.59,619.26 L91.86,619.75 L93.14,620.28 L94.41,620.86 L95.68,621.48 L96.95,622.14 L98.23,622.82 L99.5,623.53 L100.77,624.25 L102.05,624.99 L103.32,625.75 L104.59,626.51 L105.87,627.27 L107.14,628.02 L108.41,628.77 L109.68,629.51 L110.96,630.23 L112.23,630.93 L113.5,631.6 L114.78,632.25 L116.05,632.85 L117.32,633.42 L118.6,633.94 L119.87,634.41 L121.14,634.83 L122.41,635.19 L123.69,635.49 L124.96,635.72 L126.23,635.87" fill="none" stroke="#ff4fae" stroke-width="1.25" stroke-linejoin="round"/>
<path d="M25.67,622.11 L26.94,622.22 L28.21,622.29 L29.49,622.31 L30.76,622.29 L32.03,622.23 L33.3,622.14 L34.58,622.01 L35.85,621.85 L37.12,621.67 L38.4,621.47 L39.67,621.24 L40.94,621 L42.22,620.74 L43.49,620.47 L44.76,620.2 L46.03,619.92 L47.31,619.63 L48.58,619.35 L49.85,619.07 L51.13,618.8 L52.4,618.54 L53.67,618.29 L54.95,618.06 L56.22,617.85 L57.49,617.66 L58.76,617.5 L60.04,617.36 L61.31,617.26 L62.58,617.19 L63.86,617.16 L65.13,617.17 L66.4,617.23 L67.68,617.33 L68.95,617.48 L70.22,617.68 L71.49,617.94 L72.77,618.26 L74.04,618.64 L75.31,619.09 L76.59,619.6 L77.86,620.19 L79.13,620.85 L80.41,621.58 L81.68,622.4 L82.95,623.3 L84.22,624.29 L85.5,625.36 L86.77,626.52 L88.04,627.74 L89.32,629.03 L90.59,630.37 L91.86,631.76 L93.14,633.19 L94.41,634.64 L95.68,636.12 L96.95,637.6 L98.23,639.09 L99.5,640.57 L100.77,642.04 L102.05,643.49 L103.32,644.9 L104.59,646.28 L105.87,647.61 L107.14,648.88 L108.41,650.09 L109.68,651.22 L110.96,652.27 L112.23,653.24 L113.5,654.11 L114.78,654.89 L116.05,655.57 L117.32,656.14 L118.6,656.61 L119.87,656.97 L121.14,657.21 L122.41,657.33 L123.69,657.33 L124.96,657.19 L126.23,656.93" fill="none" stroke="#3b90cc" stroke-width="1.25" stroke-linejoin="round"/>
<path d="M25.67,610.64 L26.94,610.95 L28.21,611.19 L29.49,611.36 L30.76,611.46 L32.03,611.49 L33.3,611.47 L34.58,611.4 L35.85,611.28 L37.12,611.11 L38.4,610.9 L39.67,610.66 L40.94,610.38 L42.22,610.08 L43.49,609.75 L44.76,609.41 L46.03,609.05 L47.31,608.68 L48.58,608.31 L49.85,607.93 L51.13,607.56 L52.4,607.2 L53.67,606.85 L54.95,606.51 L56.22,606.2 L57.49,605.91 L58.76,605.65 L60.04,605.43 L61.31,605.24 L62.58,605.08 L63.86,604.96 L65.13,604.87 L66.4,604.81 L67.68,604.79 L68.95,604.79 L70.22,604.82 L71.49,604.88 L72.77,604.97 L74.04,605.08 L75.31,605.22 L76.59,605.39 L77.86,605.57 L79.13,605.78 L80.41,606.01 L81.68,606.27 L82.95,606.54 L84.22,606.83 L85.5,607.14 L86.77,607.46 L88.04,607.78 L89.32,608.09 L90.59,608.39 L91.86,608.67 L93.14,608.91 L94.41,609.12 L95.68,609.29 L96.95,609.4 L98.23,609.45 L99.5,609.43 L100.77,609.33 L102.05,609.15 L103.32,608.9 L104.59,608.56 L105.87,608.16 L107.14,607.69 L108.41,607.16 L109.68,606.56 L110.96,605.92 L112.23,605.23 L113.5,604.52 L114.78,603.8 L116.05,603.08 L117.32,602.38 L118.6,601.72 L119.87,601.1 L121.14,600.55 L122.41,600.08 L123.69,599.7 L124.96,599.42 L126.23,599.28" fill="none" stroke="#ff4fae" stroke-width="1.25" stroke-linejoin="round"/>
<path d="M83.69,584.88 L84.22,585.37 L84.76,585.91 L85.3,586.49 L85.84,587.1 L86.38,587.75 L86.92,588.43 L87.46,589.13 L87.99,589.87 L88.53,590.63 L89.07,591.4 L89.61,592.2 L90.15,593.02 L90.69,593.84 L91.23,594.68 L91.76,595.53 L92.3,596.38 L92.84,597.24 L93.38,598.1 L93.92,598.95 L94.46,599.8 L95,600.65 L95.53,601.49 L96.07,602.31 L96.61,603.12 L97.15,603.92 L97.69,604.69 L98.23,605.45 L98.77,606.18 L99.3,606.88 L99.84,607.55 L100.38,608.2 L100.92,608.8 L101.46,609.37 L102,609.91 L102.54,610.4 L103.07,610.84 L103.61,611.25 L104.15,611.63 L104.69,611.97 L105.23,612.29 L105.77,612.57 L106.31,612.84 L106.85,613.08 L107.38,613.31 L107.92,613.52 L108.46,613.72 L109,613.92 L109.54,614.11 L110.08,614.29 L110.62,614.48 L111.15,614.68 L111.69,614.88 L112.23,615.09 L112.77,615.31 L113.31,615.55 L113.85,615.81 L114.39,616.08 L114.92,616.37 L115.46,616.67 L116,616.97 L116.54,617.28 L117.08,617.6 L117.62,617.91 L118.16,618.22 L118.69,618.53 L119.23,618.83 L119.77,619.12 L120.31,619.39 L120.85,619.66 L121.39,619.9 L121.93,620.13 L122.46,620.33 L123,620.5 L123.54,620.65 L124.08,620.77 L124.62,620.86 L125.16,620.91 L125.7,620.92 L126.23,620.89" fill="none" stroke="#3b90cc" stroke-width="1.25" stroke-linejoin="round"/>
<path d="M90.45,582.77 L90.91,583.65 L91.36,584.52 L91.81,585.38 L92.27,586.24 L92.72,587.08 L93.17,587.92 L93.63,588.75 L94.08,589.57 L94.53,590.37 L94.98,591.17 L95.44,591.95 L95.89,592.72 L96.34,593.48 L96.8,594.22 L97.25,594.95 L97.7,595.67 L98.15,596.37 L98.61,597.06 L99.06,597.73 L99.51,598.39 L99.97,599.02 L100.42,599.65 L100.87,600.25 L101.32,600.84 L101.78,601.4 L102.23,601.95 L102.68,602.48 L103.14,602.99 L103.59,603.48 L104.04,603.94 L104.49,604.39 L104.95,604.81 L105.4,605.22 L105.85,605.61 L106.31,605.97 L106.76,606.33 L107.21,606.66 L107.67,606.98 L108.12,607.29 L108.57,607.58 L109.02,607.86 L109.48,608.13 L109.93,608.39 L110.38,608.64 L110.84,608.89 L111.29,609.12 L111.74,609.35 L112.19,609.57 L112.65,609.79 L113.1,610 L113.55,610.21 L114.01,610.42 L114.46,610.63 L114.91,610.84 L115.36,611.05 L115.82,611.26 L116.27,611.47 L116.72,611.68 L117.18,611.9 L117.63,612.11 L118.08,612.32 L118.53,612.54 L118.99,612.75 L119.44,612.96 L119.89,613.17 L120.35,613.38 L120.8,613.59 L121.25,613.79 L121.71,614 L122.16,614.2 L122.61,614.4 L123.06,614.6 L123.52,614.8 L123.97,614.99 L124.42,615.18 L124.88,615.37 L125.33,615.55 L125.78,615.73 L126.23,615.91" fill="none" stroke="#ff4fae" stroke-width="1.25" stroke-linejoin="round"/>
<path d="M98.19,582.56 L98.55,583.78 L98.9,584.89 L99.26,585.89 L99.61,586.81 L99.97,587.65 L100.32,588.42 L100.68,589.13 L101.03,589.79 L101.39,590.41 L101.74,591 L102.1,591.58 L102.45,592.14 L102.81,592.71 L103.16,593.28 L103.52,593.88 L103.87,594.51 L104.23,595.17 L104.58,595.85 L104.94,596.56 L105.29,597.28 L105.65,598.02 L106,598.77 L106.36,599.52 L106.71,600.27 L107.07,601.01 L107.42,601.75 L107.78,602.47 L108.13,603.17 L108.49,603.86 L108.84,604.51 L109.2,605.14 L109.55,605.72 L109.91,606.27 L110.26,606.79 L110.62,607.26 L110.97,607.7 L111.33,608.1 L111.68,608.47 L112.04,608.8 L112.39,609.1 L112.74,609.37 L113.1,609.61 L113.45,609.82 L113.81,610.01 L114.16,610.16 L114.52,610.29 L114.87,610.39 L115.23,610.47 L115.58,610.53 L115.94,610.56 L116.29,610.57 L116.65,610.56 L117,610.54 L117.36,610.49 L117.71,610.43 L118.07,610.35 L118.42,610.25 L118.78,610.14 L119.13,610.02 L119.49,609.89 L119.84,609.74 L120.2,609.58 L120.55,609.42 L120.91,609.24 L121.26,609.06 L121.62,608.87 L121.97,608.68 L122.33,608.48 L122.68,608.28 L123.04,608.08 L123.39,607.88 L123.75,607.67 L124.1,607.47 L124.46,607.27 L124.81,607.07 L125.17,606.87 L125.52,606.68 L125.88,606.5 L126.23,606.32" fill="none" stroke="#3b90cc" stroke-width="1.25" stroke-linejoin="round"/>
<path d="M103.03,582.22 L103.32,582.75 L103.61,583.49 L103.91,584.37 L104.2,585.35 L104.49,586.39 L104.79,587.43 L105.08,588.43 L105.38,589.36 L105.67,590.21 L105.96,590.99 L106.26,591.73 L106.55,592.41 L106.85,593.06 L107.14,593.68 L107.43,594.29 L107.73,594.87 L108.02,595.45 L108.31,596.01 L108.61,596.56 L108.9,597.09 L109.2,597.61 L109.49,598.12 L109.78,598.61 L110.08,599.09 L110.37,599.55 L110.66,600 L110.96,600.44 L111.25,600.86 L111.55,601.27 L111.84,601.66 L112.13,602.04 L112.43,602.41 L112.72,602.76 L113.01,603.1 L113.31,603.43 L113.6,603.74 L113.9,604.04 L114.19,604.32 L114.48,604.59 L114.78,604.85 L115.07,605.1 L115.36,605.33 L115.66,605.55 L115.95,605.76 L116.25,605.96 L116.54,606.15 L116.83,606.32 L117.13,606.49 L117.42,606.64 L117.71,606.78 L118.01,606.92 L118.3,607.04 L118.6,607.15 L118.89,607.25 L119.18,607.34 L119.48,607.43 L119.77,607.5 L120.06,607.56 L120.36,607.62 L120.65,607.67 L120.95,607.71 L121.24,607.74 L121.53,607.76 L121.83,607.78 L122.12,607.79 L122.41,607.79 L122.71,607.78 L123,607.77 L123.3,607.75 L123.59,607.73 L123.88,607.7 L124.18,607.66 L124.47,607.62 L124.77,607.57 L125.06,607.52 L125.35,607.46 L125.65,607.4 L125.94,607.33 L126.23,607.26" fill="none" stroke="#ff4fae" stroke-width="1.25" stroke-linejoin="round"/>
<path d="M111.73,582.96 L111.91,583.55 L112.1,584.13 L112.28,584.7 L112.46,585.25 L112.65,585.79 L112.83,586.31 L113.01,586.82 L113.2,587.32 L113.38,587.8 L113.57,588.27 L113.75,588.73 L113.93,589.17 L114.12,589.61 L114.3,590.03 L114.48,590.43 L114.67,590.83 L114.85,591.22 L115.03,591.59 L115.22,591.95 L115.4,592.3 L115.58,592.64 L115.77,592.97 L115.95,593.29 L116.14,593.6 L116.32,593.9 L116.5,594.19 L116.69,594.47 L116.87,594.74 L117.05,595 L117.24,595.25 L117.42,595.5 L117.6,595.73 L117.79,595.96 L117.97,596.17 L118.16,596.38 L118.34,596.59 L118.52,596.78 L118.71,596.97 L118.89,597.15 L119.07,597.32 L119.26,597.48 L119.44,597.64 L119.62,597.79 L119.81,597.94 L119.99,598.08 L120.17,598.21 L120.36,598.34 L120.54,598.47 L120.73,598.58 L120.91,598.7 L121.09,598.8 L121.28,598.91 L121.46,599 L121.64,599.1 L121.83,599.19 L122.01,599.27 L122.19,599.36 L122.38,599.44 L122.56,599.51 L122.75,599.58 L122.93,599.65 L123.11,599.72 L123.3,599.78 L123.48,599.85 L123.66,599.91 L123.85,599.96 L124.03,600.02 L124.21,600.07 L124.4,600.13 L124.58,600.18 L124.77,600.23 L124.95,600.28 L125.13,600.33 L125.32,600.38 L125.5,600.43 L125.68,600.48 L125.87,600.53 L126.05,600.58 L126.23,600.63" fill="none" stroke="#3b90cc" stroke-width="1.25" stroke-linejoin="round"/>
<path d="M117.53,582.6 L119.08,588.1 L126.23,593.4" fill="none" stroke="#ff4fae" stroke-width="1.25" stroke-linejoin="round"/>
</g>
<line x1="127.8" y1="630.6" x2="223.9" y2="630.6" stroke="#4fb84a" stroke-width="1.5" stroke-dasharray="4.8 2.7"/>
<line x1="127.8" y1="642.6" x2="223.9" y2="642.6" stroke="#4fb84a" stroke-width="1.5" stroke-dasharray="4.8 2.7"/>
<clipPath id="c17"><rect x="126.4" y="588.1" width="97.6" height="97.2"/></clipPath>
<g clip-path="url(#c17)">
<path d="M190.43,588 L152.79,590.6 L175.86,591.4 L151.58,592.4 L134.58,595.2 L147.94,597.5 L150.37,598.6 L140.65,599.2 L149.15,600.2 L129.73,603.5 L145.51,603.8 L127.3,604.6 L134.58,607.5 L127.3,608.4 L127.3,617 L141.87,617.6 L156.44,618.3 L169.3,619.5 L156.44,620.8 L141.87,622.5 L127.3,624.2 L127.3,640.2 L151.58,640.8 L171,641.6 L151.58,642.2 L127.3,643 L127.3,685" fill="none" stroke="#ff4fae" stroke-width="1.25" stroke-linejoin="round"/>
<path d="M195.28,588 L180.72,588.4 L177.07,589.3 L175.86,591 L175.86,594 L174.65,596 L168.58,597.6 L152.79,598.4 L151.58,599.5 L151.58,606.3 L149.15,607.8 L139.44,608.8 L128.51,609.3 L127.3,610 L127.3,616.8 L139.44,616.9 L149.39,617.1 L151.34,618.5 L151.58,620 L151.58,630.2 L127.3,630.5 L151.58,630.8 L151.58,638.2 L161.29,639.8 L171,641.3 L172.46,642.2 L151.58,642.5 L127.3,642.7 L151.58,642.9 L171,643.1 L161.29,644 L151.58,644.6 L151.58,645.5 L150.37,647.5 L144.3,650.5 L134.58,653 L127.3,654.5 L127.3,685" fill="none" stroke="#3b90cc" stroke-width="1.25" stroke-linejoin="round"/>
</g>
<line x1="227" y1="630.6" x2="323.9" y2="630.6" stroke="#4fb84a" stroke-width="1.5" stroke-dasharray="4.8 2.7"/>
<line x1="227" y1="642.6" x2="323.9" y2="642.6" stroke="#4fb84a" stroke-width="1.5" stroke-dasharray="4.8 2.7"/>
<clipPath id="c18"><rect x="227.6" y="588.7" width="96.5" height="96"/></clipPath>
<g clip-path="url(#c18)">
<path d="M225.36,654.23 L226.64,654.3 L227.91,654.33 L229.19,654.32 L230.47,654.28 L231.75,654.21 L233.03,654.11 L234.31,653.97 L235.58,653.8 L236.86,653.61 L238.14,653.39 L239.42,653.14 L240.7,652.87 L241.98,652.57 L243.25,652.25 L244.53,651.9 L245.81,651.54 L247.09,651.15 L248.37,650.74 L249.65,650.32 L250.92,649.88 L252.2,649.43 L253.48,648.96 L254.76,648.47 L256.04,647.97 L257.31,647.47 L258.59,646.95 L259.87,646.42 L261.15,645.88 L262.43,645.34 L263.71,644.79 L264.98,644.23 L266.26,643.67 L267.54,643.11 L268.82,642.54 L270.1,641.98 L271.38,641.41 L272.65,640.85 L273.93,640.29 L275.21,639.73 L276.49,639.18 L277.77,638.63 L279.05,638.09 L280.32,637.55 L281.6,637.03 L282.88,636.51 L284.16,636 L285.44,635.49 L286.72,635 L287.99,634.52 L289.27,634.06 L290.55,633.6 L291.83,633.16 L293.11,632.73 L294.39,632.32 L295.66,631.92 L296.94,631.54 L298.22,631.17 L299.5,630.83 L300.78,630.5 L302.05,630.19 L303.33,629.9 L304.61,629.64 L305.89,629.39 L307.17,629.16 L308.45,628.96 L309.72,628.78 L311,628.63 L312.28,628.5 L313.56,628.4 L314.84,628.32 L316.12,628.28 L317.39,628.26 L318.67,628.26 L319.95,628.3 L321.23,628.37 L322.51,628.47 L323.79,628.6 L325.06,628.76 L326.34,628.96" fill="none" stroke="#3b90cc" stroke-width="1.25" stroke-linejoin="round"/>
<path d="M225.36,623.81 L226.64,623.96 L227.91,624.06 L229.19,624.13 L230.47,624.17 L231.75,624.16 L233.03,624.12 L234.31,624.04 L235.58,623.92 L236.86,623.76 L238.14,623.56 L239.42,623.33 L240.7,623.05 L241.98,622.74 L243.25,622.38 L244.53,621.98 L245.81,621.54 L247.09,621.07 L248.37,620.55 L249.65,619.98 L250.92,619.38 L252.2,618.73 L253.48,618.06 L254.76,617.35 L256.04,616.63 L257.31,615.88 L258.59,615.13 L259.87,614.36 L261.15,613.6 L262.43,612.84 L263.71,612.09 L264.98,611.35 L266.26,610.64 L267.54,609.95 L268.82,609.29 L270.1,608.66 L271.38,608.08 L272.65,607.55 L273.93,607.06 L275.21,606.64 L276.49,606.27 L277.77,605.98 L279.05,605.76 L280.32,605.62 L281.6,605.56 L282.88,605.58 L284.16,605.69 L285.44,605.87 L286.72,606.12 L287.99,606.44 L289.27,606.82 L290.55,607.26 L291.83,607.75 L293.11,608.28 L294.39,608.86 L295.66,609.48 L296.94,610.14 L298.22,610.82 L299.5,611.53 L300.78,612.25 L302.05,612.99 L303.33,613.75 L304.61,614.51 L305.89,615.27 L307.17,616.02 L308.45,616.77 L309.72,617.51 L311,618.23 L312.28,618.93 L313.56,619.6 L314.84,620.25 L316.12,620.85 L317.39,621.42 L318.67,621.94 L319.95,622.41 L321.23,622.83 L322.51,623.19 L323.79,623.49 L325.06,623.72 L326.34,623.87" fill="none" stroke="#ff4fae" stroke-width="1.25" stroke-linejoin="round"/>
<path d="M225.36,610.11 L226.64,610.22 L227.91,610.29 L229.19,610.31 L230.47,610.29 L231.75,610.23 L233.03,610.14 L234.31,610.01 L235.58,609.85 L236.86,609.67 L238.14,609.47 L239.42,609.24 L240.7,609 L241.98,608.74 L243.25,608.47 L244.53,608.2 L245.81,607.92 L247.09,607.63 L248.37,607.35 L249.65,607.07 L250.92,606.8 L252.2,606.54 L253.48,606.29 L254.76,606.06 L256.04,605.85 L257.31,605.66 L258.59,605.5 L259.87,605.36 L261.15,605.26 L262.43,605.19 L263.71,605.16 L264.98,605.17 L266.26,605.23 L267.54,605.33 L268.82,605.48 L270.1,605.68 L271.38,605.94 L272.65,606.26 L273.93,606.64 L275.21,607.09 L276.49,607.6 L277.77,608.19 L279.05,608.85 L280.32,609.58 L281.6,610.4 L282.88,611.3 L284.16,612.29 L285.44,613.36 L286.72,614.52 L287.99,615.74 L289.27,617.03 L290.55,618.37 L291.83,619.76 L293.11,621.19 L294.39,622.64 L295.66,624.12 L296.94,625.6 L298.22,627.09 L299.5,628.57 L300.78,630.04 L302.05,631.49 L303.33,632.9 L304.61,634.28 L305.89,635.61 L307.17,636.88 L308.45,638.09 L309.72,639.22 L311,640.27 L312.28,641.24 L313.56,642.11 L314.84,642.89 L316.12,643.57 L317.39,644.14 L318.67,644.61 L319.95,644.97 L321.23,645.21 L322.51,645.33 L323.79,645.33 L325.06,645.19 L326.34,644.93" fill="none" stroke="#3b90cc" stroke-width="1.25" stroke-linejoin="round"/>
<path d="M225.36,598.64 L226.64,598.95 L227.91,599.19 L229.19,599.36 L230.47,599.46 L231.75,599.49 L233.03,599.47 L234.31,599.4 L235.58,599.28 L236.86,599.11 L238.14,598.9 L239.42,598.66 L240.7,598.38 L241.98,598.08 L243.25,597.75 L244.53,597.41 L245.81,597.05 L247.09,596.68 L248.37,596.31 L249.65,595.93 L250.92,595.56 L252.2,595.2 L253.48,594.85 L254.76,594.51 L256.04,594.2 L257.31,593.91 L258.59,593.65 L259.87,593.43 L261.15,593.24 L262.43,593.08 L263.71,592.96 L264.98,592.87 L266.26,592.81 L267.54,592.79 L268.82,592.79 L270.1,592.82 L271.38,592.88 L272.65,592.97 L273.93,593.08 L275.21,593.22 L276.49,593.39 L277.77,593.57 L279.05,593.78 L280.32,594.01 L281.6,594.27 L282.88,594.54 L284.16,594.83 L285.44,595.14 L286.72,595.46 L287.99,595.78 L289.27,596.09 L290.55,596.39 L291.83,596.67 L293.11,596.91 L294.39,597.12 L295.66,597.29 L296.94,597.4 L298.22,597.45 L299.5,597.43 L300.78,597.33 L302.05,597.15 L303.33,596.9 L304.61,596.56 L305.89,596.16 L307.17,595.69 L308.45,595.16 L309.72,594.56 L311,593.92 L312.28,593.23 L313.56,592.52 L314.84,591.8 L316.12,591.08 L317.39,590.38 L318.67,589.72 L319.95,589.1 L321.23,588.55 L322.51,588.08 L323.79,587.7 L325.06,587.42 L326.34,587.28" fill="none" stroke="#ff4fae" stroke-width="1.25" stroke-linejoin="round"/>
<path d="M283.62,572.88 L284.16,573.37 L284.7,573.91 L285.24,574.49 L285.78,575.1 L286.32,575.75 L286.86,576.43 L287.4,577.13 L287.94,577.87 L288.49,578.63 L289.03,579.4 L289.57,580.2 L290.11,581.02 L290.65,581.84 L291.19,582.68 L291.73,583.53 L292.27,584.38 L292.81,585.24 L293.35,586.1 L293.89,586.95 L294.43,587.8 L294.98,588.65 L295.52,589.49 L296.06,590.31 L296.6,591.12 L297.14,591.92 L297.68,592.69 L298.22,593.45 L298.76,594.18 L299.3,594.88 L299.84,595.55 L300.38,596.2 L300.92,596.8 L301.46,597.37 L302.01,597.91 L302.55,598.4 L303.09,598.84 L303.63,599.25 L304.17,599.63 L304.71,599.97 L305.25,600.29 L305.79,600.57 L306.33,600.84 L306.87,601.08 L307.41,601.31 L307.95,601.52 L308.5,601.72 L309.04,601.92 L309.58,602.11 L310.12,602.29 L310.66,602.48 L311.2,602.68 L311.74,602.88 L312.28,603.09 L312.82,603.31 L313.36,603.55 L313.9,603.81 L314.44,604.08 L314.98,604.37 L315.53,604.67 L316.07,604.97 L316.61,605.28 L317.15,605.6 L317.69,605.91 L318.23,606.22 L318.77,606.53 L319.31,606.83 L319.85,607.12 L320.39,607.39 L320.93,607.66 L321.47,607.9 L322.02,608.13 L322.56,608.33 L323.1,608.5 L323.64,608.65 L324.18,608.77 L324.72,608.86 L325.26,608.91 L325.8,608.92 L326.34,608.89" fill="none" stroke="#3b90cc" stroke-width="1.25" stroke-linejoin="round"/>
<path d="M290.41,570.77 L290.87,571.65 L291.32,572.52 L291.78,573.38 L292.23,574.24 L292.69,575.08 L293.14,575.92 L293.6,576.75 L294.05,577.57 L294.51,578.37 L294.96,579.17 L295.42,579.95 L295.87,580.72 L296.33,581.48 L296.78,582.22 L297.24,582.95 L297.69,583.67 L298.15,584.37 L298.6,585.06 L299.06,585.73 L299.51,586.39 L299.97,587.02 L300.42,587.65 L300.87,588.25 L301.33,588.84 L301.78,589.4 L302.24,589.95 L302.69,590.48 L303.15,590.99 L303.6,591.48 L304.06,591.94 L304.51,592.39 L304.97,592.81 L305.42,593.22 L305.88,593.61 L306.33,593.97 L306.79,594.33 L307.24,594.66 L307.7,594.98 L308.15,595.29 L308.61,595.58 L309.06,595.86 L309.52,596.13 L309.97,596.39 L310.42,596.64 L310.88,596.89 L311.33,597.12 L311.79,597.35 L312.24,597.57 L312.7,597.79 L313.15,598 L313.61,598.21 L314.06,598.42 L314.52,598.63 L314.97,598.84 L315.43,599.05 L315.88,599.26 L316.34,599.47 L316.79,599.68 L317.25,599.9 L317.7,600.11 L318.16,600.32 L318.61,600.54 L319.07,600.75 L319.52,600.96 L319.98,601.17 L320.43,601.38 L320.88,601.59 L321.34,601.79 L321.79,602 L322.25,602.2 L322.7,602.4 L323.16,602.6 L323.61,602.8 L324.07,602.99 L324.52,603.18 L324.98,603.37 L325.43,603.55 L325.89,603.73 L326.34,603.91" fill="none" stroke="#ff4fae" stroke-width="1.25" stroke-linejoin="round"/>
<path d="M298.18,570.56 L298.54,571.78 L298.9,572.89 L299.25,573.89 L299.61,574.81 L299.97,575.65 L300.32,576.42 L300.68,577.13 L301.03,577.79 L301.39,578.41 L301.75,579 L302.1,579.58 L302.46,580.14 L302.82,580.71 L303.17,581.28 L303.53,581.88 L303.89,582.51 L304.24,583.17 L304.6,583.85 L304.96,584.56 L305.31,585.28 L305.67,586.02 L306.02,586.77 L306.38,587.52 L306.74,588.27 L307.09,589.01 L307.45,589.75 L307.81,590.47 L308.16,591.17 L308.52,591.86 L308.88,592.51 L309.23,593.14 L309.59,593.72 L309.95,594.27 L310.3,594.79 L310.66,595.26 L311.01,595.7 L311.37,596.1 L311.73,596.47 L312.08,596.8 L312.44,597.1 L312.8,597.37 L313.15,597.61 L313.51,597.82 L313.87,598.01 L314.22,598.16 L314.58,598.29 L314.94,598.39 L315.29,598.47 L315.65,598.53 L316.01,598.56 L316.36,598.57 L316.72,598.56 L317.07,598.54 L317.43,598.49 L317.79,598.43 L318.14,598.35 L318.5,598.25 L318.86,598.14 L319.21,598.02 L319.57,597.89 L319.93,597.74 L320.28,597.58 L320.64,597.42 L321,597.24 L321.35,597.06 L321.71,596.87 L322.06,596.68 L322.42,596.48 L322.78,596.28 L323.13,596.08 L323.49,595.88 L323.85,595.67 L324.2,595.47 L324.56,595.27 L324.92,595.07 L325.27,594.87 L325.63,594.68 L325.99,594.5 L326.34,594.32" fill="none" stroke="#3b90cc" stroke-width="1.25" stroke-linejoin="round"/>
<path d="M303.04,570.22 L303.33,570.75 L303.63,571.49 L303.92,572.37 L304.22,573.35 L304.51,574.39 L304.81,575.43 L305.1,576.43 L305.4,577.36 L305.69,578.21 L305.99,578.99 L306.28,579.73 L306.58,580.41 L306.87,581.06 L307.17,581.68 L307.46,582.29 L307.76,582.87 L308.05,583.45 L308.35,584.01 L308.64,584.56 L308.94,585.09 L309.23,585.61 L309.53,586.12 L309.82,586.61 L310.12,587.09 L310.41,587.55 L310.71,588 L311,588.44 L311.3,588.86 L311.59,589.27 L311.89,589.66 L312.18,590.04 L312.48,590.41 L312.77,590.76 L313.07,591.1 L313.36,591.43 L313.66,591.74 L313.95,592.04 L314.25,592.32 L314.54,592.59 L314.84,592.85 L315.13,593.1 L315.43,593.33 L315.72,593.55 L316.02,593.76 L316.31,593.96 L316.61,594.15 L316.9,594.32 L317.2,594.49 L317.49,594.64 L317.79,594.78 L318.08,594.92 L318.38,595.04 L318.67,595.15 L318.97,595.25 L319.26,595.34 L319.56,595.43 L319.85,595.5 L320.15,595.56 L320.44,595.62 L320.74,595.67 L321.03,595.71 L321.33,595.74 L321.62,595.76 L321.92,595.78 L322.21,595.79 L322.51,595.79 L322.8,595.78 L323.1,595.77 L323.39,595.75 L323.69,595.73 L323.98,595.7 L324.28,595.66 L324.57,595.62 L324.87,595.57 L325.16,595.52 L325.46,595.46 L325.75,595.4 L326.05,595.33 L326.34,595.26" fill="none" stroke="#ff4fae" stroke-width="1.25" stroke-linejoin="round"/>
<path d="M311.78,570.96 L311.96,571.55 L312.15,572.13 L312.33,572.7 L312.51,573.25 L312.7,573.79 L312.88,574.31 L313.07,574.82 L313.25,575.32 L313.44,575.8 L313.62,576.27 L313.81,576.73 L313.99,577.17 L314.17,577.61 L314.36,578.03 L314.54,578.43 L314.73,578.83 L314.91,579.22 L315.1,579.59 L315.28,579.95 L315.46,580.3 L315.65,580.64 L315.83,580.97 L316.02,581.29 L316.2,581.6 L316.39,581.9 L316.57,582.19 L316.75,582.47 L316.94,582.74 L317.12,583 L317.31,583.25 L317.49,583.5 L317.68,583.73 L317.86,583.96 L318.05,584.17 L318.23,584.38 L318.41,584.59 L318.6,584.78 L318.78,584.97 L318.97,585.15 L319.15,585.32 L319.34,585.48 L319.52,585.64 L319.7,585.79 L319.89,585.94 L320.07,586.08 L320.26,586.21 L320.44,586.34 L320.63,586.47 L320.81,586.58 L321,586.7 L321.18,586.8 L321.36,586.91 L321.55,587 L321.73,587.1 L321.92,587.19 L322.1,587.27 L322.29,587.36 L322.47,587.44 L322.65,587.51 L322.84,587.58 L323.02,587.65 L323.21,587.72 L323.39,587.78 L323.58,587.85 L323.76,587.91 L323.95,587.96 L324.13,588.02 L324.31,588.07 L324.5,588.13 L324.68,588.18 L324.87,588.23 L325.05,588.28 L325.24,588.33 L325.42,588.38 L325.6,588.43 L325.79,588.48 L325.97,588.53 L326.16,588.58 L326.34,588.63" fill="none" stroke="#3b90cc" stroke-width="1.25" stroke-linejoin="round"/>
<path d="M317.6,570.6 L319.16,576.1 L326.34,581.4" fill="none" stroke="#ff4fae" stroke-width="1.25" stroke-linejoin="round"/>
</g>
<rect x="266.4" y="486.4" width="57.6" height="19.6" fill="#fff" stroke="#d4d4d4" stroke-width="0.8"/>
<line x1="267.6" y1="492.4" x2="285.6" y2="492.4" stroke="#ff4fae" stroke-width="1.3"/>
<text x="287.6" y="495" font-family="Liberation Sans" font-size="7.5" font-weight="normal" text-anchor="start">spin down</text>
<line x1="267.6" y1="502" x2="285.6" y2="502" stroke="#3b90cc" stroke-width="1.3"/>
<text x="287.6" y="504.6" font-family="Liberation Sans" font-size="7.5" font-weight="normal" text-anchor="start">spin up</text>
<text x="77.3" y="483.6" font-family="Liberation Serif" font-size="8.6" font-weight="bold" text-anchor="start">L</text>
<text x="166.6" y="484.4" font-family="Liberation Serif" font-size="9.8" font-weight="bold" text-anchor="start" textLength="19.4" lengthAdjust="spacingAndGlyphs">T(E)</text>
<text x="273.6" y="485.1" font-family="Liberation Serif" font-size="8.6" font-weight="bold" text-anchor="start">R</text>
<text x="28.3" y="498.5" font-family="Liberation Sans" font-size="12.4" font-weight="normal" text-anchor="start">(c)</text>
<text x="0" y="0" transform="translate(11.7,583.9) rotate(-90)" font-family="Liberation Serif" font-size="11.8" font-weight="bold" text-anchor="middle" textLength="58.5" lengthAdjust="spacingAndGlyphs">Energy (eV)</text>
<text x="25" y="497.2" font-family="Liberation Sans" font-size="6.6" font-weight="bold" text-anchor="end">1.0</text>
<text x="25" y="517.2" font-family="Liberation Sans" font-size="6.6" font-weight="bold" text-anchor="end">0.5</text>
<text x="25" y="537.2" font-family="Liberation Sans" font-size="6.6" font-weight="bold" text-anchor="end">0.0</text>
<text x="25" y="557.2" font-family="Liberation Sans" font-size="6.6" font-weight="bold" text-anchor="end">-0.5</text>
<text x="25" y="577.2" font-family="Liberation Sans" font-size="6.6" font-weight="bold" text-anchor="end">-1.0</text>
<text x="25" y="598.9" font-family="Liberation Sans" font-size="6.6" font-weight="bold" text-anchor="end">1.0</text>
<text x="25" y="618.9" font-family="Liberation Sans" font-size="6.6" font-weight="bold" text-anchor="end">0.5</text>
<text x="25" y="638.9" font-family="Liberation Sans" font-size="6.6" font-weight="bold" text-anchor="end">0.0</text>
<text x="25" y="658.9" font-family="Liberation Sans" font-size="6.6" font-weight="bold" text-anchor="end">-0.5</text>
<text x="25" y="678.9" font-family="Liberation Sans" font-size="6.6" font-weight="bold" text-anchor="end">-1.0</text>
<text x="31.9" y="696.4" font-family="Liberation Serif" font-size="12.8" font-weight="normal" text-anchor="middle">&#915;</text>
<text x="118.4" y="695" font-family="Liberation Serif" font-size="12.8" font-weight="normal" text-anchor="middle">Z</text>
<text x="230.9" y="697" font-family="Liberation Serif" font-size="12.8" font-weight="normal" text-anchor="middle">&#915;</text>
<text x="323.2" y="697.5" font-family="Liberation Serif" font-size="12.8" font-weight="normal" text-anchor="middle">Z</text>
<text x="127.1" y="692.8" font-family="Liberation Sans" font-size="6.5" font-weight="bold" text-anchor="middle">0</text>
<text x="151.8" y="692.8" font-family="Liberation Sans" font-size="6.5" font-weight="bold" text-anchor="middle">1</text>
<text x="176.6" y="692.8" font-family="Liberation Sans" font-size="6.5" font-weight="bold" text-anchor="middle">2</text>
<text x="200.1" y="692.8" font-family="Liberation Sans" font-size="6.5" font-weight="bold" text-anchor="middle">3</text>
<text x="224" y="692.8" font-family="Liberation Sans" font-size="6.5" font-weight="bold" text-anchor="middle">4</text>
<text x="221.9" y="495.5" font-family="Liberation Serif" font-size="7.4" font-weight="bold" text-anchor="end" textLength="14.7" lengthAdjust="spacingAndGlyphs">0.0 V</text>
<text x="220.5" y="596.6" font-family="Liberation Serif" font-size="7.4" font-weight="bold" text-anchor="end" textLength="14.9" lengthAdjust="spacingAndGlyphs">0.3 V</text>
<text x="223.1" y="682.1" font-family="Liberation Serif" font-size="8.3" font-weight="bold" text-anchor="end" textLength="23.3" lengthAdjust="spacingAndGlyphs">1H-2H</text>
<rect x="29.3" y="716.4" width="96.5" height="97" fill="none" stroke="#bababa" stroke-width="1.1"/>
<rect x="129" y="716.4" width="96.6" height="97" fill="none" stroke="#bababa" stroke-width="1.1"/>
<rect x="229.1" y="716.4" width="96.7" height="97" fill="none" stroke="#bababa" stroke-width="1.1"/>
<path d="M27.9,804.7H29.3 M129,804.7H130.3 M229.1,804.7H230.4 M27.9,794.7H29.3 M129,794.7H130.3 M229.1,794.7H230.4 M27.9,784.7H29.3 M129,784.7H130.3 M229.1,784.7H230.4 M27.9,774.7H29.3 M129,774.7H130.3 M229.1,774.7H230.4 M27.9,764.7H29.3 M129,764.7H130.3 M229.1,764.7H230.4 M27.9,754.7H29.3 M129,754.7H130.3 M229.1,754.7H230.4 M27.9,744.7H29.3 M129,744.7H130.3 M229.1,744.7H230.4 M27.9,734.7H29.3 M129,734.7H130.3 M229.1,734.7H230.4 M27.9,724.7H29.3 M129,724.7H130.3 M229.1,724.7H230.4" stroke="#bababa" stroke-width="0.8" fill="none"/>
<line x1="29" y1="764.7" x2="125.3" y2="764.7" stroke="#4fb84a" stroke-width="1.5" stroke-dasharray="4.8 2.7"/>
<clipPath id="c19"><rect x="29.6" y="716.7" width="95.9" height="96.4"/></clipPath>
<g clip-path="url(#c19)">
<path d="M27.37,760.98 C27.69,760.97 27.21,761.03 29.3,760.9 C31.39,760.77 36.1,760.63 39.91,760.2 C43.73,759.77 48.09,758.87 52.17,758.3 C56.26,757.73 60.87,757.12 64.43,756.8 C67.98,756.48 70.06,756.1 73.5,756.4 C76.94,756.7 81.88,757.77 85.08,758.6 C88.28,759.43 90.55,760.77 92.7,761.4 C94.86,762.03 96.24,762.6 98.01,762.4 C99.78,762.2 100.92,761.2 103.32,760.2 C105.71,759.2 108.85,757.37 112.39,756.4 C115.92,755.43 121.99,754.75 124.55,754.4 C127.1,754.05 127.2,754.32 127.73,754.3" fill="none" stroke="#3b90cc" stroke-width="1.25"/>
<path d="M27.37,811.9 C27.69,811.87 27.21,811.98 29.3,811.7 C31.39,811.42 36.1,811.22 39.91,810.2 C43.73,809.18 48.09,807.75 52.17,805.6 C56.26,803.45 60.45,800.58 64.43,797.3 C68.4,794.02 72.56,789.57 76.01,785.9 C79.45,782.23 82.29,778.2 85.08,775.3 C87.86,772.4 90.55,770.02 92.7,768.5 C94.86,766.98 95.98,765.82 98.01,766.2 C100.03,766.58 102.46,768.78 104.86,770.8 C107.26,772.82 110.13,776.42 112.39,778.3 C114.64,780.18 116.34,781.28 118.37,782.1 C120.4,782.92 122.99,783 124.55,783.2 C126.11,783.4 127.2,783.28 127.73,783.3" fill="none" stroke="#3b90cc" stroke-width="1.25"/>
<path d="M27.37,787.9 C27.69,787.9 27.21,787.98 29.3,787.9 C31.39,787.82 36.1,787.73 39.91,787.4 C43.73,787.07 48.09,786.45 52.17,785.9 C56.26,785.35 60.45,784.73 64.43,784.1 C68.4,783.47 72.07,782.93 76.01,782.1 C79.95,781.27 84.03,779.73 88.07,779.1 C92.11,778.47 96.17,778.12 100.23,778.3 C104.28,778.48 108.33,779.63 112.39,780.2 C116.44,780.77 121.99,781.42 124.55,781.7 C127.1,781.98 127.2,781.87 127.73,781.9" fill="none" stroke="#ff4fae" stroke-width="1.25"/>
<path d="M43.77,822.7 C45.69,821.23 51.58,816.5 55.26,813.9 C58.94,811.3 62.42,809.62 65.87,807.1 C69.33,804.58 72.81,801.07 76.01,798.8 C79.21,796.53 82.04,794.77 85.08,793.5 C88.12,792.23 91.2,791.33 94.24,791.2 C97.28,791.07 100.29,791.68 103.32,792.7 C106.34,793.72 109.62,795.65 112.39,797.3 C115.15,798.95 117.89,801.35 119.91,802.6 C121.94,803.85 123.24,804.32 124.55,804.8 C125.85,805.28 127.2,805.38 127.73,805.5" fill="none" stroke="#ff4fae" stroke-width="1.25"/>
<path d="M72.73,824.7 C74.29,822.9 78.76,817.58 82.09,813.9 C85.41,810.22 89.16,805.88 92.7,802.6 C96.24,799.32 100.55,795.85 103.32,794.2 C106.08,792.55 107.29,792.57 109.3,792.7 C111.31,792.83 112.84,793.6 115.38,795 C117.92,796.4 122.49,799.82 124.55,801.1 C126.6,802.38 127.2,802.43 127.73,802.7" fill="none" stroke="#3b90cc" stroke-width="1.25"/>
<path d="M84.3,824.7 C85.7,822.9 89.79,816.83 92.7,813.9 C95.61,810.97 99.01,808.73 101.77,807.1 C104.54,805.47 106.77,804.48 109.3,804.1 C111.82,803.72 114.38,804.05 116.92,804.8 C119.46,805.55 122.74,807.82 124.55,808.6 C126.35,809.38 127.2,809.35 127.73,809.5" fill="none" stroke="#ff4fae" stroke-width="1.25"/>
<path d="M95.88,824.7 C97.12,822.9 100.82,817.08 103.32,813.9 C105.81,810.72 108.33,807.73 110.84,805.6 C113.35,803.47 116.09,801.48 118.37,801.1 C120.65,800.72 122.99,802.7 124.55,803.3 C126.11,803.9 127.2,804.47 127.73,804.7" fill="none" stroke="#3b90cc" stroke-width="1.25"/>
<path d="M106.5,824.7 C107.72,822.9 111.6,816.58 113.83,813.9 C116.07,811.22 118.13,809.98 119.91,808.6 C121.7,807.22 123.24,806.25 124.55,805.6 C125.85,804.95 127.2,804.85 127.73,804.7" fill="none" stroke="#ff4fae" stroke-width="1.25"/>
<path d="M111.32,824.7 C112.26,822.9 115.22,816.32 116.92,813.9 C118.63,811.48 120.28,811.08 121.55,810.2 C122.82,809.32 123.52,808.98 124.55,808.6 C125.57,808.22 127.2,808.02 127.73,807.9" fill="none" stroke="#3b90cc" stroke-width="1.25"/>
<path d="M116.15,826.7 C116.95,825.03 119.53,819.03 120.97,816.7 C122.42,814.37 123.71,813.5 124.83,812.7 C125.96,811.9 127.25,812.03 127.73,811.9" fill="none" stroke="#ff4fae" stroke-width="1.25"/>
<path d="M119.05,826.7 C119.69,825.37 121.46,820.5 122.91,818.7 C124.35,816.9 126.93,816.37 127.73,815.9" fill="none" stroke="#3b90cc" stroke-width="1.25"/>
</g>
<line x1="129.5" y1="764.7" x2="225.1" y2="764.7" stroke="#4fb84a" stroke-width="1.5" stroke-dasharray="4.8 2.7"/>
<clipPath id="c20"><rect x="128.1" y="716.1" width="97.1" height="97.6"/></clipPath>
<g clip-path="url(#c20)">
<path d="M129,716 L129,753.5 L152.67,755.2 L153.15,756.2 L198.55,757.6 L201.45,758.8 L198.55,760.6 L177.3,761.5 L129,762.1 L129,764.6 L177.3,767.3 L177.3,782.7 L153.15,783.2 L153.15,792 L201.45,792.6 L201.45,800.4 L230.43,801 L230.43,804.1 L201.45,804.5 L201.45,806.6 L230.43,806.9 L230.43,807.4 L201.45,807.6 L201.45,814" fill="none" stroke="#3b90cc" stroke-width="1.25" stroke-linejoin="round"/>
<path d="M129,716 L129,778.3 L177.3,779 L153.15,782.4 L153.15,787 L129,788.2 L129,789.5 L177.3,792 L177.3,803.3 L230.43,803.5 L230.43,808 L201.45,808.9 L177.3,810 L230.43,810.8 L230.43,814" fill="none" stroke="#ff4fae" stroke-width="1.25" stroke-linejoin="round"/>
</g>
<line x1="228.8" y1="764.7" x2="325.3" y2="764.7" stroke="#4fb84a" stroke-width="1.5" stroke-dasharray="4.8 2.7"/>
<clipPath id="c21"><rect x="229.4" y="716.7" width="96.1" height="96.4"/></clipPath>
<g clip-path="url(#c21)">
<path d="M227.17,760.98 C227.49,760.97 227,761.03 229.1,760.9 C231.2,760.77 235.92,760.63 239.74,760.2 C243.56,759.77 247.92,758.87 252.02,758.3 C256.11,757.73 260.74,757.12 264.3,756.8 C267.86,756.48 269.94,756.1 273.39,756.4 C276.84,756.7 281.79,757.77 284.99,758.6 C288.2,759.43 290.47,760.77 292.63,761.4 C294.79,762.03 296.18,762.6 297.95,762.4 C299.72,762.2 300.87,761.2 303.27,760.2 C305.67,759.2 308.81,757.37 312.36,756.4 C315.9,755.43 321.98,754.75 324.54,754.4 C327.11,754.05 327.2,754.32 327.73,754.3" fill="none" stroke="#3b90cc" stroke-width="1.25"/>
<path d="M227.17,811.9 C227.49,811.87 227,811.98 229.1,811.7 C231.2,811.42 235.92,811.22 239.74,810.2 C243.56,809.18 247.92,807.75 252.02,805.6 C256.11,803.45 260.32,800.58 264.3,797.3 C268.28,794.02 272.45,789.57 275.9,785.9 C279.35,782.23 282.2,778.2 284.99,775.3 C287.78,772.4 290.47,770.02 292.63,768.5 C294.79,766.98 295.92,765.82 297.95,766.2 C299.98,766.58 302.41,768.78 304.82,770.8 C307.22,772.82 310.1,776.42 312.36,778.3 C314.62,780.18 316.32,781.28 318.35,782.1 C320.38,782.92 322.98,783 324.54,783.2 C326.11,783.4 327.2,783.28 327.73,783.3" fill="none" stroke="#3b90cc" stroke-width="1.25"/>
<path d="M227.17,787.9 C227.49,787.9 227,787.98 229.1,787.9 C231.2,787.82 235.92,787.73 239.74,787.4 C243.56,787.07 247.92,786.45 252.02,785.9 C256.11,785.35 260.32,784.73 264.3,784.1 C268.28,783.47 271.95,782.93 275.9,782.1 C279.85,781.27 283.95,779.73 287.99,779.1 C292.04,778.47 296.11,778.12 300.17,778.3 C304.24,778.48 308.3,779.63 312.36,780.2 C316.42,780.77 321.98,781.42 324.54,781.7 C327.11,781.98 327.2,781.87 327.73,781.9" fill="none" stroke="#ff4fae" stroke-width="1.25"/>
<path d="M243.6,822.7 C245.52,821.23 251.42,816.5 255.11,813.9 C258.8,811.3 262.28,809.62 265.75,807.1 C269.21,804.58 272.7,801.07 275.9,798.8 C279.11,796.53 281.95,794.77 284.99,793.5 C288.04,792.23 291.13,791.33 294.18,791.2 C297.23,791.07 300.24,791.68 303.27,792.7 C306.3,793.72 309.59,795.65 312.36,797.3 C315.13,798.95 317.87,801.35 319.9,802.6 C321.93,803.85 323.24,804.32 324.54,804.8 C325.85,805.28 327.2,805.38 327.73,805.5" fill="none" stroke="#ff4fae" stroke-width="1.25"/>
<path d="M272.62,824.7 C274.18,822.9 278.66,817.58 281.99,813.9 C285.33,810.22 289.09,805.88 292.63,802.6 C296.18,799.32 300.5,795.85 303.27,794.2 C306.04,792.55 307.25,792.57 309.26,792.7 C311.28,792.83 312.81,793.6 315.36,795 C317.9,796.4 322.48,799.82 324.54,801.1 C326.61,802.38 327.2,802.43 327.73,802.7" fill="none" stroke="#3b90cc" stroke-width="1.25"/>
<path d="M284.22,824.7 C285.62,822.9 289.71,816.83 292.63,813.9 C295.55,810.97 298.95,808.73 301.72,807.1 C304.49,805.47 306.73,804.48 309.26,804.1 C311.79,803.72 314.36,804.05 316.9,804.8 C319.45,805.55 322.74,807.82 324.54,808.6 C326.35,809.38 327.2,809.35 327.73,809.5" fill="none" stroke="#ff4fae" stroke-width="1.25"/>
<path d="M295.82,824.7 C297.06,822.9 300.77,817.08 303.27,813.9 C305.77,810.72 308.3,807.73 310.81,805.6 C313.33,803.47 316.07,801.48 318.35,801.1 C320.64,800.72 322.98,802.7 324.54,803.3 C326.11,803.9 327.2,804.47 327.73,804.7" fill="none" stroke="#3b90cc" stroke-width="1.25"/>
<path d="M306.46,824.7 C307.68,822.9 311.57,816.58 313.81,813.9 C316.05,811.22 318.11,809.98 319.9,808.6 C321.69,807.22 323.24,806.25 324.54,805.6 C325.85,804.95 327.2,804.85 327.73,804.7" fill="none" stroke="#ff4fae" stroke-width="1.25"/>
<path d="M311.3,824.7 C312.23,822.9 315.2,816.32 316.9,813.9 C318.61,811.48 320.27,811.08 321.55,810.2 C322.82,809.32 323.51,808.98 324.54,808.6 C325.57,808.22 327.2,808.02 327.73,807.9" fill="none" stroke="#3b90cc" stroke-width="1.25"/>
<path d="M316.13,826.7 C316.94,825.03 319.51,819.03 320.97,816.7 C322.42,814.37 323.7,813.5 324.83,812.7 C325.96,811.9 327.25,812.03 327.73,811.9" fill="none" stroke="#ff4fae" stroke-width="1.25"/>
<path d="M319.03,826.7 C319.68,825.37 321.45,820.5 322.9,818.7 C324.35,816.9 326.93,816.37 327.73,815.9" fill="none" stroke="#3b90cc" stroke-width="1.25"/>
</g>
<rect x="29.3" y="817.6" width="96.5" height="96.7" fill="none" stroke="#bababa" stroke-width="1.1"/>
<rect x="129" y="817.6" width="96.6" height="96.7" fill="none" stroke="#bababa" stroke-width="1.1"/>
<rect x="229.1" y="817.6" width="96.7" height="96.7" fill="none" stroke="#bababa" stroke-width="1.1"/>
<path d="M27.9,906.2H29.3 M129,906.2H130.3 M229.1,906.2H230.4 M27.9,896.2H29.3 M129,896.2H130.3 M229.1,896.2H230.4 M27.9,886.2H29.3 M129,886.2H130.3 M229.1,886.2H230.4 M27.9,876.2H29.3 M129,876.2H130.3 M229.1,876.2H230.4 M27.9,866.2H29.3 M129,866.2H130.3 M229.1,866.2H230.4 M27.9,856.2H29.3 M129,856.2H130.3 M229.1,856.2H230.4 M27.9,846.2H29.3 M129,846.2H130.3 M229.1,846.2H230.4 M27.9,836.2H29.3 M129,836.2H130.3 M229.1,836.2H230.4 M27.9,826.2H29.3 M129,826.2H130.3 M229.1,826.2H230.4" stroke="#bababa" stroke-width="0.8" fill="none"/>
<line x1="29" y1="860.2" x2="125.3" y2="860.2" stroke="#4fb84a" stroke-width="1.5" stroke-dasharray="4.8 2.7"/>
<line x1="29" y1="872.2" x2="125.3" y2="872.2" stroke="#4fb84a" stroke-width="1.5" stroke-dasharray="4.8 2.7"/>
<clipPath id="c22"><rect x="29.6" y="817.9" width="95.9" height="96.1"/></clipPath>
<g clip-path="url(#c22)">
<path d="M27.37,868.48 C27.69,868.47 27.21,868.53 29.3,868.4 C31.39,868.27 36.1,868.13 39.91,867.7 C43.73,867.27 48.09,866.37 52.17,865.8 C56.26,865.23 60.87,864.62 64.43,864.3 C67.98,863.98 70.06,863.6 73.5,863.9 C76.94,864.2 81.88,865.27 85.08,866.1 C88.28,866.93 90.55,868.27 92.7,868.9 C94.86,869.53 96.24,870.1 98.01,869.9 C99.78,869.7 100.92,868.7 103.32,867.7 C105.71,866.7 108.85,864.87 112.39,863.9 C115.92,862.93 121.99,862.25 124.55,861.9 C127.1,861.55 127.2,861.82 127.73,861.8" fill="none" stroke="#3b90cc" stroke-width="1.25"/>
<path d="M27.37,919.4 C27.69,919.37 27.21,919.48 29.3,919.2 C31.39,918.92 36.1,918.72 39.91,917.7 C43.73,916.68 48.09,915.25 52.17,913.1 C56.26,910.95 60.45,908.08 64.43,904.8 C68.4,901.52 72.56,897.07 76.01,893.4 C79.45,889.73 82.29,885.7 85.08,882.8 C87.86,879.9 90.55,877.52 92.7,876 C94.86,874.48 95.98,873.32 98.01,873.7 C100.03,874.08 102.46,876.28 104.86,878.3 C107.26,880.32 110.13,883.92 112.39,885.8 C114.64,887.68 116.34,888.78 118.37,889.6 C120.4,890.42 122.99,890.5 124.55,890.7 C126.11,890.9 127.2,890.78 127.73,890.8" fill="none" stroke="#3b90cc" stroke-width="1.25"/>
<path d="M27.37,895.4 C27.69,895.4 27.21,895.48 29.3,895.4 C31.39,895.32 36.1,895.23 39.91,894.9 C43.73,894.57 48.09,893.95 52.17,893.4 C56.26,892.85 60.45,892.23 64.43,891.6 C68.4,890.97 72.07,890.43 76.01,889.6 C79.95,888.77 84.03,887.23 88.07,886.6 C92.11,885.97 96.17,885.62 100.23,885.8 C104.28,885.98 108.33,887.13 112.39,887.7 C116.44,888.27 121.99,888.92 124.55,889.2 C127.1,889.48 127.2,889.37 127.73,889.4" fill="none" stroke="#ff4fae" stroke-width="1.25"/>
<path d="M43.77,930.2 C45.69,928.73 51.58,924 55.26,921.4 C58.94,918.8 62.42,917.12 65.87,914.6 C69.33,912.08 72.81,908.57 76.01,906.3 C79.21,904.03 82.04,902.27 85.08,901 C88.12,899.73 91.2,898.83 94.24,898.7 C97.28,898.57 100.29,899.18 103.32,900.2 C106.34,901.22 109.62,903.15 112.39,904.8 C115.15,906.45 117.89,908.85 119.91,910.1 C121.94,911.35 123.24,911.82 124.55,912.3 C125.85,912.78 127.2,912.88 127.73,913" fill="none" stroke="#ff4fae" stroke-width="1.25"/>
<path d="M72.73,932.2 C74.29,930.4 78.76,925.08 82.09,921.4 C85.41,917.72 89.16,913.38 92.7,910.1 C96.24,906.82 100.55,903.35 103.32,901.7 C106.08,900.05 107.29,900.07 109.3,900.2 C111.31,900.33 112.84,901.1 115.38,902.5 C117.92,903.9 122.49,907.32 124.55,908.6 C126.6,909.88 127.2,909.93 127.73,910.2" fill="none" stroke="#3b90cc" stroke-width="1.25"/>
<path d="M84.3,932.2 C85.7,930.4 89.79,924.33 92.7,921.4 C95.61,918.47 99.01,916.23 101.77,914.6 C104.54,912.97 106.77,911.98 109.3,911.6 C111.82,911.22 114.38,911.55 116.92,912.3 C119.46,913.05 122.74,915.32 124.55,916.1 C126.35,916.88 127.2,916.85 127.73,917" fill="none" stroke="#ff4fae" stroke-width="1.25"/>
<path d="M95.88,932.2 C97.12,930.4 100.82,924.58 103.32,921.4 C105.81,918.22 108.33,915.23 110.84,913.1 C113.35,910.97 116.09,908.98 118.37,908.6 C120.65,908.22 122.99,910.2 124.55,910.8 C126.11,911.4 127.2,911.97 127.73,912.2" fill="none" stroke="#3b90cc" stroke-width="1.25"/>
<path d="M106.5,932.2 C107.72,930.4 111.6,924.08 113.83,921.4 C116.07,918.72 118.13,917.48 119.91,916.1 C121.7,914.72 123.24,913.75 124.55,913.1 C125.85,912.45 127.2,912.35 127.73,912.2" fill="none" stroke="#ff4fae" stroke-width="1.25"/>
<path d="M111.32,932.2 C112.26,930.4 115.22,923.82 116.92,921.4 C118.63,918.98 120.28,918.58 121.55,917.7 C122.82,916.82 123.52,916.48 124.55,916.1 C125.57,915.72 127.2,915.52 127.73,915.4" fill="none" stroke="#3b90cc" stroke-width="1.25"/>
<path d="M116.15,934.2 C116.95,932.53 119.53,926.53 120.97,924.2 C122.42,921.87 123.71,921 124.83,920.2 C125.96,919.4 127.25,919.53 127.73,919.4" fill="none" stroke="#ff4fae" stroke-width="1.25"/>
<path d="M119.05,934.2 C119.69,932.87 121.46,928 122.91,926.2 C124.35,924.4 126.93,923.87 127.73,923.4" fill="none" stroke="#3b90cc" stroke-width="1.25"/>
</g>
<line x1="129.5" y1="860.2" x2="225.1" y2="860.2" stroke="#4fb84a" stroke-width="1.5" stroke-dasharray="4.8 2.7"/>
<line x1="129.5" y1="872.2" x2="225.1" y2="872.2" stroke="#4fb84a" stroke-width="1.5" stroke-dasharray="4.8 2.7"/>
<clipPath id="c23"><rect x="128.1" y="817.3" width="97.1" height="97.3"/></clipPath>
<g clip-path="url(#c23)">
<path d="M129,817 L129,861.6 L143.49,862.2 L160.4,862.9 L165.22,864.2 L167.16,866.4 L164.02,868.3 L150.74,869.5 L136.25,870.2 L129,870.6 L129,873.6 L150.74,874.3 L171.26,875.1 L175.37,876.5 L173.68,877.8 L157.98,878.9 L153.15,879.6 L152.43,883 L153.87,886 L152.67,890 L153.63,894 L153.15,898.8 L165.22,899.5 L191.79,900.2 L194.69,901.5 L191.79,903 L182.13,903.8 L172.47,904.5 L177.3,905 L160.4,908 L154.36,908.8 L172.47,909 L174.88,909.3 L189.38,910.3 L203.87,911.2 L177.3,912.6 L177.3,913 L218.36,913.5 L218.36,915" fill="none" stroke="#3b90cc" stroke-width="1.25" stroke-linejoin="round"/>
<path d="M129,817 L129,885.8 L130.21,886.3 L132.62,886.9 L136,888.9 L137.94,890.8 L139.14,892.4 L137.69,893.6 L136,894.2 L130.45,895.1 L129.24,895.8 L129,896.5 L129,898.3 L170.06,898.6 L150.74,899.5 L160.4,901.5 L153.15,902.5 L165.22,903.8 L182.13,905.5 L160.4,906.3 L182.13,908.5 L189.38,909.8 L179.72,910.8 L201.45,911.8 L208.69,912.8 L213.52,914.5 L213.52,915" fill="none" stroke="#ff4fae" stroke-width="1.25" stroke-linejoin="round"/>
</g>
<line x1="228.8" y1="860.2" x2="325.3" y2="860.2" stroke="#4fb84a" stroke-width="1.5" stroke-dasharray="4.8 2.7"/>
<line x1="228.8" y1="872.2" x2="325.3" y2="872.2" stroke="#4fb84a" stroke-width="1.5" stroke-dasharray="4.8 2.7"/>
<clipPath id="c24"><rect x="229.4" y="817.9" width="96.1" height="96.1"/></clipPath>
<g clip-path="url(#c24)">
<path d="M227.17,856.48 C227.49,856.47 227,856.53 229.1,856.4 C231.2,856.27 235.92,856.13 239.74,855.7 C243.56,855.27 247.92,854.37 252.02,853.8 C256.11,853.23 260.74,852.62 264.3,852.3 C267.86,851.98 269.94,851.6 273.39,851.9 C276.84,852.2 281.79,853.27 284.99,854.1 C288.2,854.93 290.47,856.27 292.63,856.9 C294.79,857.53 296.18,858.1 297.95,857.9 C299.72,857.7 300.87,856.7 303.27,855.7 C305.67,854.7 308.81,852.87 312.36,851.9 C315.9,850.93 321.98,850.25 324.54,849.9 C327.11,849.55 327.2,849.82 327.73,849.8" fill="none" stroke="#3b90cc" stroke-width="1.25"/>
<path d="M227.17,907.4 C227.49,907.37 227,907.48 229.1,907.2 C231.2,906.92 235.92,906.72 239.74,905.7 C243.56,904.68 247.92,903.25 252.02,901.1 C256.11,898.95 260.32,896.08 264.3,892.8 C268.28,889.52 272.45,885.07 275.9,881.4 C279.35,877.73 282.2,873.7 284.99,870.8 C287.78,867.9 290.47,865.52 292.63,864 C294.79,862.48 295.92,861.32 297.95,861.7 C299.98,862.08 302.41,864.28 304.82,866.3 C307.22,868.32 310.1,871.92 312.36,873.8 C314.62,875.68 316.32,876.78 318.35,877.6 C320.38,878.42 322.98,878.5 324.54,878.7 C326.11,878.9 327.2,878.78 327.73,878.8" fill="none" stroke="#3b90cc" stroke-width="1.25"/>
<path d="M227.17,883.4 C227.49,883.4 227,883.48 229.1,883.4 C231.2,883.32 235.92,883.23 239.74,882.9 C243.56,882.57 247.92,881.95 252.02,881.4 C256.11,880.85 260.32,880.23 264.3,879.6 C268.28,878.97 271.95,878.43 275.9,877.6 C279.85,876.77 283.95,875.23 287.99,874.6 C292.04,873.97 296.11,873.62 300.17,873.8 C304.24,873.98 308.3,875.13 312.36,875.7 C316.42,876.27 321.98,876.92 324.54,877.2 C327.11,877.48 327.2,877.37 327.73,877.4" fill="none" stroke="#ff4fae" stroke-width="1.25"/>
<path d="M243.6,918.2 C245.52,916.73 251.42,912 255.11,909.4 C258.8,906.8 262.28,905.12 265.75,902.6 C269.21,900.08 272.7,896.57 275.9,894.3 C279.11,892.03 281.95,890.27 284.99,889 C288.04,887.73 291.13,886.83 294.18,886.7 C297.23,886.57 300.24,887.18 303.27,888.2 C306.3,889.22 309.59,891.15 312.36,892.8 C315.13,894.45 317.87,896.85 319.9,898.1 C321.93,899.35 323.24,899.82 324.54,900.3 C325.85,900.78 327.2,900.88 327.73,901" fill="none" stroke="#ff4fae" stroke-width="1.25"/>
<path d="M272.62,920.2 C274.18,918.4 278.66,913.08 281.99,909.4 C285.33,905.72 289.09,901.38 292.63,898.1 C296.18,894.82 300.5,891.35 303.27,889.7 C306.04,888.05 307.25,888.07 309.26,888.2 C311.28,888.33 312.81,889.1 315.36,890.5 C317.9,891.9 322.48,895.32 324.54,896.6 C326.61,897.88 327.2,897.93 327.73,898.2" fill="none" stroke="#3b90cc" stroke-width="1.25"/>
<path d="M284.22,920.2 C285.62,918.4 289.71,912.33 292.63,909.4 C295.55,906.47 298.95,904.23 301.72,902.6 C304.49,900.97 306.73,899.98 309.26,899.6 C311.79,899.22 314.36,899.55 316.9,900.3 C319.45,901.05 322.74,903.32 324.54,904.1 C326.35,904.88 327.2,904.85 327.73,905" fill="none" stroke="#ff4fae" stroke-width="1.25"/>
<path d="M295.82,920.2 C297.06,918.4 300.77,912.58 303.27,909.4 C305.77,906.22 308.3,903.23 310.81,901.1 C313.33,898.97 316.07,896.98 318.35,896.6 C320.64,896.22 322.98,898.2 324.54,898.8 C326.11,899.4 327.2,899.97 327.73,900.2" fill="none" stroke="#3b90cc" stroke-width="1.25"/>
<path d="M306.46,920.2 C307.68,918.4 311.57,912.08 313.81,909.4 C316.05,906.72 318.11,905.48 319.9,904.1 C321.69,902.72 323.24,901.75 324.54,901.1 C325.85,900.45 327.2,900.35 327.73,900.2" fill="none" stroke="#ff4fae" stroke-width="1.25"/>
<path d="M311.3,920.2 C312.23,918.4 315.2,911.82 316.9,909.4 C318.61,906.98 320.27,906.58 321.55,905.7 C322.82,904.82 323.51,904.48 324.54,904.1 C325.57,903.72 327.2,903.52 327.73,903.4" fill="none" stroke="#3b90cc" stroke-width="1.25"/>
<path d="M316.13,922.2 C316.94,920.53 319.51,914.53 320.97,912.2 C322.42,909.87 323.7,909 324.83,908.2 C325.96,907.4 327.25,907.53 327.73,907.4" fill="none" stroke="#ff4fae" stroke-width="1.25"/>
<path d="M319.03,922.2 C319.68,920.87 321.45,916 322.9,914.2 C324.35,912.4 326.93,911.87 327.73,911.4" fill="none" stroke="#3b90cc" stroke-width="1.25"/>
</g>
<rect x="269" y="716" width="56.8" height="19" fill="#fff" stroke="#d4d4d4" stroke-width="0.8"/>
<line x1="270" y1="722" x2="287.6" y2="722" stroke="#ff4fae" stroke-width="1.3"/>
<text x="289.6" y="724.6" font-family="Liberation Sans" font-size="7.5" font-weight="normal" text-anchor="start">spin down</text>
<line x1="270" y1="731.4" x2="287.6" y2="731.4" stroke="#3b90cc" stroke-width="1.3"/>
<text x="289.6" y="734" font-family="Liberation Sans" font-size="7.5" font-weight="normal" text-anchor="start">spin up</text>
<text x="79.1" y="713.8" font-family="Liberation Serif" font-size="8.6" font-weight="bold" text-anchor="start">L</text>
<text x="168.4" y="714.3" font-family="Liberation Serif" font-size="10.0" font-weight="bold" text-anchor="start" textLength="19.7" lengthAdjust="spacingAndGlyphs">T(E)</text>
<text x="274.5" y="714.2" font-family="Liberation Serif" font-size="8.6" font-weight="bold" text-anchor="start">R</text>
<text x="30.6" y="727.8" font-family="Liberation Sans" font-size="12.7" font-weight="normal" text-anchor="start">(d)</text>
<text x="0" y="0" transform="translate(12.9,812.4) rotate(-90)" font-family="Liberation Serif" font-size="11.8" font-weight="bold" text-anchor="middle" textLength="58" lengthAdjust="spacingAndGlyphs">Energy (eV)</text>
<text x="26.6" y="727" font-family="Liberation Sans" font-size="6.6" font-weight="bold" text-anchor="end">1.0</text>
<text x="26.6" y="747" font-family="Liberation Sans" font-size="6.6" font-weight="bold" text-anchor="end">0.5</text>
<text x="26.6" y="767" font-family="Liberation Sans" font-size="6.6" font-weight="bold" text-anchor="end">0.0</text>
<text x="26.6" y="787" font-family="Liberation Sans" font-size="6.6" font-weight="bold" text-anchor="end">-0.5</text>
<text x="26.6" y="807" font-family="Liberation Sans" font-size="6.6" font-weight="bold" text-anchor="end">-1.0</text>
<text x="26.6" y="828.5" font-family="Liberation Sans" font-size="6.6" font-weight="bold" text-anchor="end">1.0</text>
<text x="26.6" y="848.5" font-family="Liberation Sans" font-size="6.6" font-weight="bold" text-anchor="end">0.5</text>
<text x="26.6" y="868.5" font-family="Liberation Sans" font-size="6.6" font-weight="bold" text-anchor="end">0.0</text>
<text x="26.6" y="888.5" font-family="Liberation Sans" font-size="6.6" font-weight="bold" text-anchor="end">-0.5</text>
<text x="26.6" y="908.5" font-family="Liberation Sans" font-size="6.6" font-weight="bold" text-anchor="end">-1.0</text>
<text x="33.6" y="926.2" font-family="Liberation Serif" font-size="12.8" font-weight="normal" text-anchor="middle">&#915;</text>
<text x="120" y="924.4" font-family="Liberation Serif" font-size="12.8" font-weight="normal" text-anchor="middle">Z</text>
<text x="230.3" y="926.5" font-family="Liberation Serif" font-size="12.8" font-weight="normal" text-anchor="middle">&#915;</text>
<text x="323.9" y="926.5" font-family="Liberation Serif" font-size="12.8" font-weight="normal" text-anchor="middle">Z</text>
<text x="128.5" y="922.7" font-family="Liberation Sans" font-size="6.5" font-weight="bold" text-anchor="middle">0</text>
<text x="152.9" y="922.7" font-family="Liberation Sans" font-size="6.5" font-weight="bold" text-anchor="middle">1</text>
<text x="177" y="922.7" font-family="Liberation Sans" font-size="6.5" font-weight="bold" text-anchor="middle">2</text>
<text x="201.9" y="922.7" font-family="Liberation Sans" font-size="6.5" font-weight="bold" text-anchor="middle">3</text>
<text x="225.9" y="922.7" font-family="Liberation Sans" font-size="6.5" font-weight="bold" text-anchor="middle">4</text>
<text x="222.4" y="725.8" font-family="Liberation Serif" font-size="7.4" font-weight="bold" text-anchor="end" textLength="15.2" lengthAdjust="spacingAndGlyphs">0.0 V</text>
<text x="222.1" y="826.6" font-family="Liberation Serif" font-size="7.4" font-weight="bold" text-anchor="end" textLength="15.3" lengthAdjust="spacingAndGlyphs">0.3 V</text>
<text x="224.4" y="909.9" font-family="Liberation Serif" font-size="8.3" font-weight="bold" text-anchor="end" textLength="22.4" lengthAdjust="spacingAndGlyphs">2H-1H</text>
</svg>
</body></html>
